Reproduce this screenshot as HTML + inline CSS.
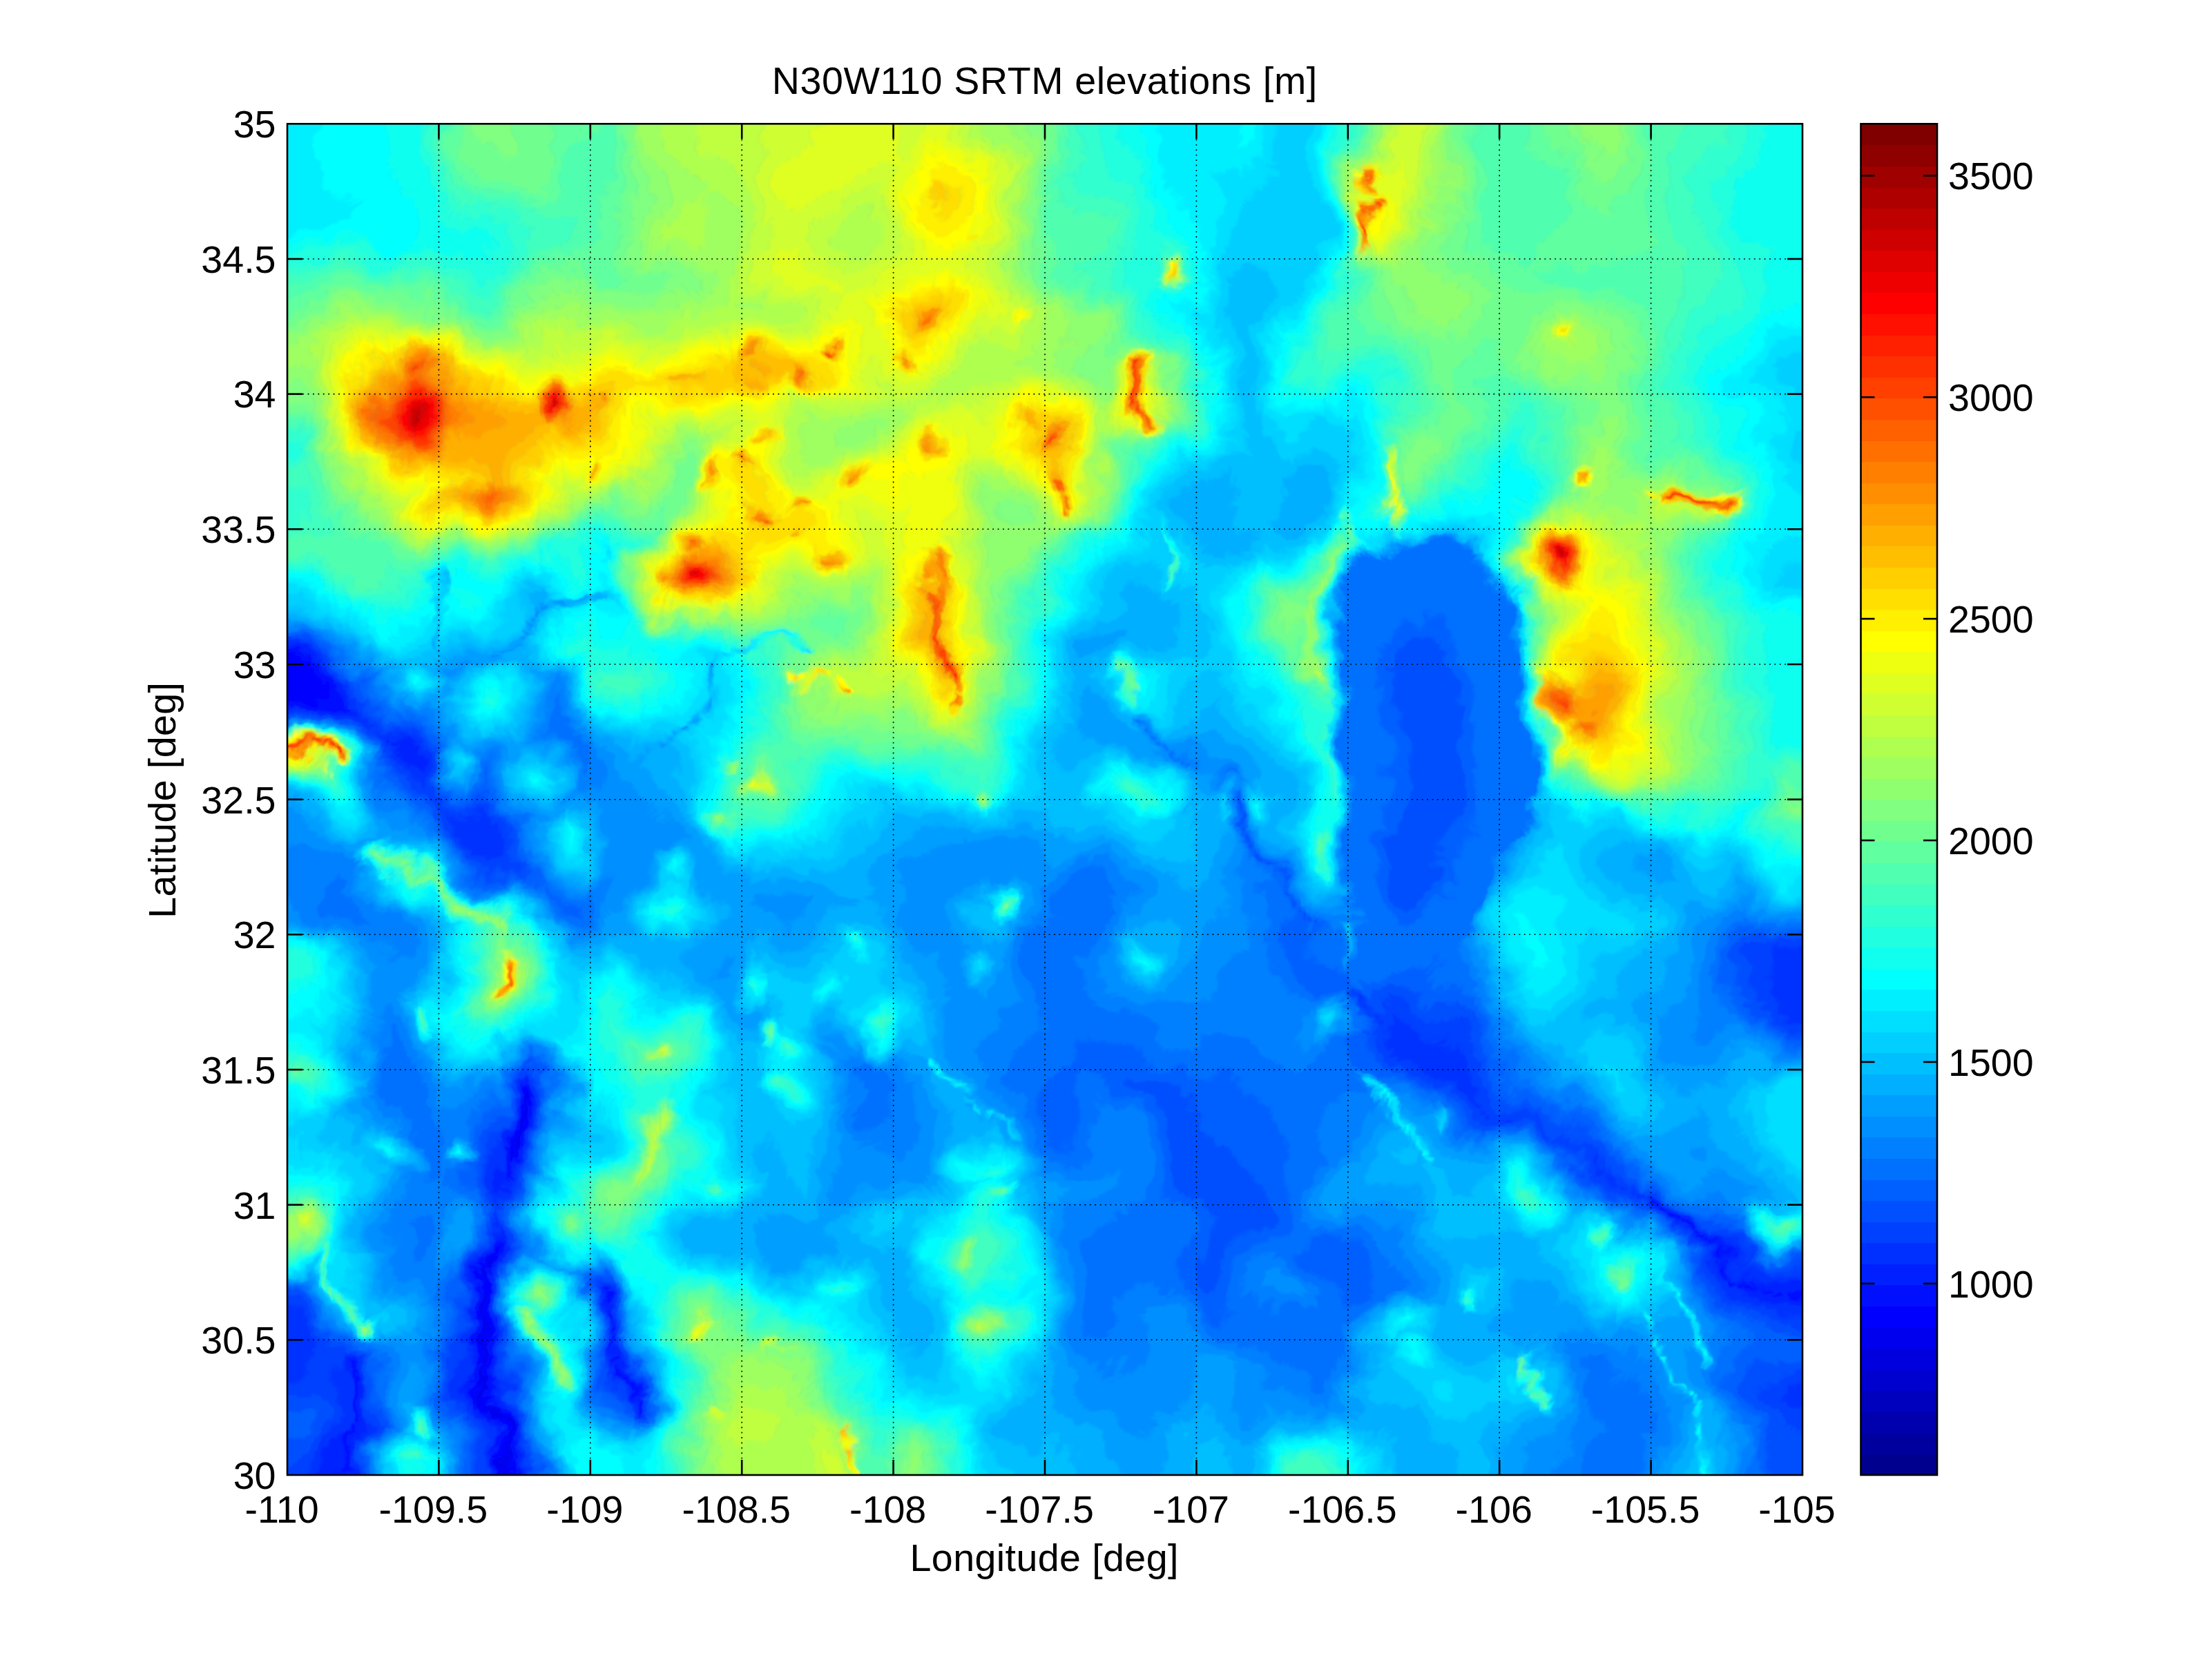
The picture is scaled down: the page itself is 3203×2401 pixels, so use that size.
<!DOCTYPE html>
<html><head><meta charset="utf-8"><title>N30W110 SRTM elevations</title>
<style>html,body{margin:0;padding:0;background:#fff;}body{width:3203px;height:2401px;overflow:hidden;}svg{display:block;}text{font-family:"Liberation Sans",sans-serif;font-size:55.6px;fill:#000;}</style>
</head><body>
<svg width="3203" height="2401" viewBox="0 0 3203 2401">
<rect width="3203" height="2401" fill="#fff"/>
<defs><clipPath id="axclip"><rect x="416.0" y="179.3" width="2194.0" height="1956.7"/></clipPath><filter id="tb" filterUnits="userSpaceOnUse" x="330" y="100" width="2370" height="2120"><feGaussianBlur stdDeviation="2.2" result="b"/><feTurbulence type="fractalNoise" baseFrequency="0.011" numOctaves="5" seed="7" result="t"/><feDisplacementMap in="b" in2="t" scale="70" xChannelSelector="R" yChannelSelector="G"/></filter></defs>
<g clip-path="url(#axclip)"><rect x="416.0" y="179.3" width="2194.0" height="1956.7" fill="#0090ff"/><g filter="url(#tb)">
<g transform="translate(356.01,123.517) scale(8.57031,8.58202)" fill="none" stroke-width="1.12" stroke-linecap="butt">
<path stroke="#0000ef" d="M48 169h1M47 170h2M47 171h1M47 172h1M47 173h1M46 174h2M46 175h1M46 176h1M46 177h1M46 178h1M46 179h1M45 180h1M45 181h1M41 198h1M41 199h1M40 200h1M40 201h1M39 204h1M39 205h1M39 206h1M39 207h1M39 208h1M39 209h1M39 210h1M39 211h2M40 212h1M40 213h1M40 214h1M40 215h1M40 216h1M40 217h1M40 218h1M40 219h2M41 220h1M41 221h1M41 222h1M41 223h1M42 224h1M42 225h1M42 226h2M43 227h1M43 228h1M44 229h1M44 230h1M44 231h1M44 232h2M45 233h1M45 234h1M45 235h1M45 236h1M45 237h1M45 238h1M45 239h1M45 240h1M45 241h1"/>
<path stroke="#0000ff" d="M0 98h8M0 99h11M0 100h12M0 101h14M0 102h14M0 103h12M47 168h2M47 169h1M48 171h1M46 172h1M48 172h1M46 173h1M47 175h1M45 176h1M47 176h1M45 177h1M45 178h1M45 179h1M46 180h1M46 181h1M45 182h1M41 197h1M42 198h1M40 199h1M39 201h1M39 202h2M39 203h2M40 204h1M38 205h1M40 205h1M38 206h1M40 206h1M40 207h1M40 208h1M40 209h1M40 210h1M39 212h1M39 213h1M39 214h1M39 215h1M41 215h1M41 216h1M41 217h1M41 218h1M40 220h1M40 221h1M40 222h1M42 222h1M42 223h1M41 224h1M43 225h1M42 227h1M44 227h1M44 228h1M43 229h1M43 230h1M45 231h1M44 233h1M44 234h1M44 235h1M44 236h1M44 237h1M44 238h1M44 239h1M44 240h1M44 241h1"/>
<path stroke="#0010ff" d="M0 97h9M8 98h3M11 99h2M12 100h3M14 101h2M14 102h3M12 103h5M0 104h18M49 168h1M49 169h1M46 170h1M49 170h1M46 171h1M48 173h1M45 174h1M48 174h1M45 175h1M47 177h1M47 178h1M47 179h1M44 180h1M44 181h1M44 182h1M46 182h1M44 183h1M44 184h1M237 190h1M238 191h1M239 192h2M241 193h2M243 194h1M244 195h2M41 196h2M246 196h1M42 197h1M247 197h2M40 198h1M249 198h2M251 199h2M39 200h1M41 200h1M253 200h2M255 201h2M257 202h2M38 203h1M259 203h2M262 203h8M38 204h1M58 204h1M262 204h8M59 205h1M59 206h1M38 207h1M38 208h1M60 208h1M38 209h1M38 210h1M61 210h1M38 211h1M41 211h1M41 212h1M62 212h1M41 213h1M62 213h1M41 214h1M63 215h1M39 216h1M17 217h1M39 217h1M64 217h1M17 218h1M39 218h1M64 218h1M17 219h1M39 219h1M42 219h1M64 219h1M17 220h1M42 220h1M64 220h1M17 221h1M42 221h1M17 222h1M65 222h1M17 223h1M40 223h1M65 223h1M17 224h1M43 224h1M41 225h1M17 226h1M41 226h1M44 226h1M17 227h1M17 228h1M42 228h1M17 229h1M42 229h1M45 229h1M17 230h1M45 230h1M17 231h1M43 231h1M17 232h1M43 232h1M46 232h1M17 233h1M46 233h1M16 234h1M46 234h1M16 235h1M46 235h1M16 236h1M46 236h1M16 237h1M46 237h1M16 238h1M46 238h1M16 239h1M46 239h1M16 240h1M46 240h1M16 241h1M46 241h1"/>
<path stroke="#0020ff" d="M0 96h10M9 97h3M11 98h2M13 99h2M15 100h2M16 101h2M17 102h1M17 103h1M12 105h7M23 109h1M24 110h3M25 111h3M25 112h3M26 113h3M27 114h3M28 115h2M47 167h3M46 168h1M46 169h1M49 171h1M45 172h1M49 172h1M45 173h1M48 175h1M44 176h1M48 176h1M44 177h1M44 178h1M44 179h1M47 180h1M47 181h1M47 182h1M45 183h1M42 184h2M42 185h2M42 186h2M42 187h1M238 190h1M237 191h1M239 191h1M241 192h1M240 193h1M42 194h1M242 194h1M244 194h1M41 195h2M243 195h1M246 195h1M245 196h1M247 196h1M40 197h1M43 197h1M249 197h1M43 198h1M251 198h1M39 199h1M42 199h1M253 199h1M255 200h1M38 201h1M41 201h1M257 201h13M38 202h1M255 202h2M259 202h11M255 203h4M261 203h1M256 204h6M37 205h1M58 205h1M258 205h12M37 206h1M41 206h1M41 207h1M59 207h2M41 208h1M41 209h1M60 209h2M41 210h1M61 211h2M38 212h1M38 213h1M38 214h1M62 214h2M38 215h1M42 215h1M17 216h1M42 216h1M63 216h2M16 217h1M42 217h1M16 218h1M42 218h1M38 219h1M18 220h1M38 220h2M65 220h1M18 221h1M39 221h1M64 221h2M18 222h1M39 222h1M43 222h1M18 223h1M43 223h1M18 224h1M40 224h1M65 224h1M17 225h2M40 225h1M44 225h1M18 226h1M18 227h1M41 227h1M45 227h1M16 228h1M18 228h1M45 228h1M15 229h2M18 229h1M15 230h2M18 230h1M42 230h1M46 230h1M14 231h3M46 231h1M14 232h3M14 233h3M43 233h1M13 234h3M17 234h2M43 234h1M13 235h3M17 235h2M43 235h1M13 236h3M17 236h2M43 236h1M13 237h3M17 237h2M43 237h1M13 238h3M17 238h2M43 238h1M13 239h3M17 239h2M43 239h1M13 240h3M17 240h2M43 240h1M13 241h3M17 241h2M43 241h1"/>
<path stroke="#0030ff" d="M0 95h9M10 96h1M12 97h1M13 98h1M15 99h1M17 100h1M18 102h1M18 103h1M18 104h1M0 105h12M19 105h1M16 106h5M20 107h2M22 108h2M24 109h3M23 110h1M27 110h1M24 111h1M28 111h1M24 112h1M28 112h2M25 113h1M29 113h2M25 114h2M30 114h1M26 115h2M30 115h1M27 116h4M28 117h3M30 118h1M39 121h1M37 122h3M35 123h6M35 124h6M35 125h7M35 126h8M36 127h8M36 128h8M38 129h6M41 130h3M257 146h1M257 147h13M257 148h13M257 149h13M257 150h13M257 151h13M257 152h13M257 153h13M258 154h12M187 155h1M258 155h12M188 156h1M259 156h11M190 157h1M194 157h4M259 157h11M191 158h1M194 158h5M193 159h7M194 160h7M194 161h8M195 162h9M195 163h10M196 164h10M198 165h8M199 166h8M46 167h1M200 167h8M50 168h1M201 168h8M50 169h1M203 169h6M45 170h1M50 170h1M205 170h4M45 171h1M208 171h2M210 172h1M49 173h1M211 173h1M44 174h1M49 174h1M213 174h1M44 175h1M48 177h1M48 178h1M43 179h1M48 179h1M43 180h1M48 180h1M42 181h2M41 182h3M41 183h3M46 183h1M227 183h1M40 184h2M45 184h1M228 184h2M40 185h2M44 185h1M230 185h2M40 186h2M232 186h1M40 187h2M43 187h1M234 187h1M41 188h3M235 188h2M42 189h1M237 189h1M236 190h1M236 191h1M240 191h1M42 192h1M238 192h1M242 192h1M42 193h1M239 193h1M243 193h1M41 194h1M241 194h1M245 194h1M40 196h1M43 196h1M244 196h1M248 196h1M246 197h1M250 197h2M39 198h1M248 198h1M252 198h3M38 199h1M249 199h2M254 199h5M38 200h1M42 200h1M250 200h3M256 200h14M251 201h4M41 202h1M252 202h3M37 203h1M41 203h1M58 203h1M253 203h2M37 204h1M41 204h1M59 204h1M254 204h2M41 205h1M255 205h3M58 206h1M60 206h1M257 206h13M0 207h9M37 207h1M259 207h11M0 208h9M37 208h1M59 208h1M61 208h1M0 209h10M37 209h1M0 210h10M37 210h1M42 210h1M60 210h1M62 210h1M0 211h11M37 211h1M42 211h1M0 212h11M42 212h1M61 212h1M0 213h12M42 213h1M63 213h1M0 214h12M37 214h1M42 214h1M0 215h12M36 215h2M62 215h1M64 215h1M0 216h13M16 216h1M18 216h1M36 216h3M0 217h12M18 217h1M36 217h3M63 217h1M18 218h1M36 218h3M63 218h1M14 219h3M18 219h1M36 219h2M43 219h1M65 219h1M14 220h3M36 220h2M43 220h1M260 220h10M14 221h3M37 221h2M43 221h1M259 221h11M14 222h3M38 222h1M64 222h1M260 222h10M15 223h2M38 223h2M44 223h1M64 223h1M15 224h2M19 224h1M39 224h1M44 224h1M66 224h1M15 225h2M19 225h2M15 226h2M19 226h2M40 226h1M45 226h1M14 227h3M19 227h1M40 227h1M14 228h2M19 228h1M40 228h2M13 229h2M41 229h1M46 229h1M13 230h2M41 230h1M12 231h2M18 231h1M42 231h1M12 232h2M18 232h1M42 232h1M47 232h1M12 233h2M18 233h1M47 233h1M12 234h1M47 234h1M12 235h1M47 235h1M12 236h1M47 236h1M12 237h1M47 237h1M12 238h1M47 238h1M12 239h1M47 239h1M12 240h1M47 240h1M12 241h1M47 241h1"/>
<path stroke="#0040ff" d="M0 94h8M9 95h2M11 96h2M13 97h1M14 98h2M16 99h2M18 100h1M18 101h1M19 103h1M19 104h1M20 105h1M13 106h3M21 106h1M19 107h1M22 107h1M21 108h1M24 108h2M22 109h1M27 109h2M22 110h1M28 110h1M23 111h1M29 111h1M23 112h1M30 112h1M24 113h1M31 113h1M24 114h1M31 114h1M25 115h1M31 115h1M25 116h2M31 116h1M26 117h2M31 117h1M27 118h3M31 118h1M28 119h5M29 120h4M39 120h1M31 121h3M38 121h1M40 121h1M32 122h5M40 122h1M33 123h2M41 123h1M33 124h2M41 124h2M33 125h2M42 125h2M34 126h1M43 126h2M34 127h2M44 127h1M35 128h1M44 128h1M36 129h2M44 129h1M37 130h4M44 130h1M40 131h5M41 132h4M43 133h3M45 134h1M255 145h15M254 146h3M258 146h12M254 147h3M254 148h3M254 149h3M254 150h3M254 151h3M254 152h3M255 153h2M186 154h1M194 154h4M255 154h3M186 155h1M188 155h1M192 155h7M256 155h2M187 156h1M189 156h1M192 156h8M256 156h3M189 157h1M191 157h3M198 157h3M257 157h2M190 158h1M192 158h2M199 158h4M258 158h12M191 159h2M200 159h4M260 159h10M191 160h3M201 160h4M192 161h2M202 161h4M192 162h3M204 162h3M193 163h2M205 163h3M193 164h3M206 164h3M194 165h4M206 165h3M47 166h3M196 166h3M207 166h3M50 167h1M197 167h3M208 167h3M45 168h1M199 168h2M209 168h2M45 169h1M200 169h3M209 169h3M201 170h4M209 170h3M50 171h1M204 171h4M210 171h3M44 172h1M50 172h1M206 172h4M211 172h4M44 173h1M208 173h3M212 173h5M210 174h3M214 174h5M49 175h1M211 175h2M217 175h3M43 176h1M49 176h1M219 176h2M42 177h2M49 177h1M221 177h2M42 178h2M222 178h2M41 179h2M223 179h2M41 180h2M224 180h2M41 181h1M48 181h1M225 181h2M40 182h1M48 182h1M225 182h3M40 183h1M47 183h1M226 183h1M228 183h2M39 184h1M46 184h1M226 184h2M230 184h2M39 185h1M45 185h1M227 185h3M232 185h2M39 186h1M44 186h1M228 186h4M233 186h2M39 187h1M44 187h1M231 187h3M235 187h1M40 188h1M233 188h2M40 189h2M43 189h1M236 189h1M41 190h3M239 190h1M42 191h1M241 191h1M237 192h1M41 193h1M43 193h1M244 193h1M43 194h1M240 194h1M246 194h1M40 195h1M43 195h1M242 195h1M247 195h4M243 196h1M249 196h4M39 197h1M44 197h1M245 197h1M252 197h3M38 198h1M44 198h1M247 198h1M255 198h4M43 199h1M247 199h2M259 199h11M248 200h2M37 201h1M249 201h2M37 202h1M250 202h2M57 203h1M59 203h1M251 203h2M57 204h1M252 204h2M0 205h9M36 205h1M60 205h1M253 205h2M0 206h10M36 206h1M254 206h3M9 207h1M36 207h1M42 207h1M61 207h1M256 207h3M9 208h2M42 208h1M257 208h13M10 209h1M36 209h1M42 209h1M62 209h1M260 209h10M10 210h2M36 210h1M11 211h1M36 211h1M60 211h1M11 212h2M35 212h3M63 212h1M12 213h2M35 213h3M61 213h1M12 214h2M35 214h2M43 214h1M64 214h1M12 215h4M17 215h1M34 215h2M43 215h1M13 216h3M34 216h2M43 216h1M62 216h1M12 217h4M34 217h2M43 217h1M65 217h1M0 218h16M35 218h1M43 218h1M65 218h1M258 218h12M0 219h14M35 219h1M63 219h1M256 219h14M0 220h14M19 220h1M35 220h1M63 220h1M255 220h5M10 221h4M19 221h1M36 221h1M255 221h4M11 222h3M19 222h2M36 222h2M44 222h1M66 222h1M256 222h4M12 223h3M19 223h3M37 223h1M66 223h1M257 223h13M13 224h2M20 224h2M38 224h1M45 224h1M64 224h1M258 224h12M13 225h2M21 225h2M38 225h2M45 225h1M259 225h11M13 226h2M21 226h1M39 226h1M260 226h10M12 227h2M20 227h1M39 227h1M46 227h1M261 227h9M12 228h2M39 228h1M46 228h1M262 228h8M11 229h2M19 229h1M39 229h2M11 230h2M19 230h1M39 230h2M47 230h1M10 231h2M39 231h3M47 231h1M9 232h3M39 232h3M8 233h4M39 233h4M0 234h12M19 234h1M39 234h4M0 235h12M19 235h1M39 235h4M0 236h12M19 236h1M39 236h4M0 237h12M19 237h1M39 237h4M0 238h12M19 238h1M39 238h4M0 239h12M19 239h1M39 239h4M0 240h12M19 240h1M39 240h4M0 241h12M19 241h1M39 241h4"/>
<path stroke="#0050ff" d="M197 93h5M8 94h3M195 94h8M11 95h1M194 95h10M13 96h1M194 96h10M14 97h1M194 97h11M16 98h1M193 98h12M18 99h1M194 99h11M19 100h1M194 100h11M19 101h1M194 101h11M19 102h1M194 102h11M20 103h1M194 103h11M20 104h1M194 104h12M21 105h1M194 105h12M0 106h13M22 106h1M195 106h11M17 107h2M23 107h2M195 107h11M20 108h1M26 108h3M195 108h11M21 109h1M29 109h1M195 109h11M29 110h1M195 110h11M22 111h1M30 111h1M195 111h11M31 112h1M195 112h11M23 113h1M195 113h11M23 114h1M195 114h11M24 115h1M195 115h11M24 116h1M195 116h11M25 117h1M195 117h11M25 118h2M32 118h1M40 118h1M195 118h11M26 119h2M39 119h2M195 119h11M27 120h2M33 120h1M38 120h1M40 120h1M195 120h11M28 121h3M34 121h4M41 121h1M195 121h11M30 122h2M41 122h1M195 122h11M31 123h2M42 123h1M166 123h1M195 123h11M31 124h2M43 124h1M167 124h1M195 124h11M32 125h1M44 125h1M167 125h1M195 125h10M33 126h1M45 126h1M168 126h1M194 126h11M33 127h1M45 127h1M169 127h1M194 127h10M34 128h1M45 128h1M169 128h1M194 128h9M35 129h1M45 129h1M170 129h1M194 129h9M36 130h1M45 130h1M171 130h1M194 130h8M38 131h2M45 131h1M171 131h1M194 131h8M39 132h2M45 132h1M172 132h1M193 132h9M41 133h2M46 133h1M173 133h1M193 133h9M43 134h2M46 134h1M174 134h1M193 134h9M45 135h3M193 135h8M175 136h1M193 136h8M176 137h1M193 137h8M177 138h1M194 138h6M178 139h1M195 139h4M178 140h1M179 141h1M180 142h1M254 143h2M253 144h17M253 145h2M252 146h2M252 147h2M252 148h2M252 149h2M252 150h2M194 151h4M252 151h2M193 152h7M252 152h2M191 153h9M253 153h2M185 154h1M187 154h1M190 154h4M198 154h3M253 154h2M185 155h1M189 155h3M199 155h4M254 155h2M190 156h2M200 156h4M254 156h2M188 157h1M201 157h4M255 157h2M203 158h3M256 158h2M190 159h1M204 159h3M257 159h3M189 160h2M205 160h3M260 160h10M190 161h2M206 161h2M190 162h2M207 162h2M191 163h2M208 163h2M191 164h2M209 164h1M48 165h1M192 165h2M209 165h2M46 166h1M50 166h1M192 166h4M210 166h2M45 167h1M51 167h1M194 167h3M211 167h1M51 168h1M150 168h8M196 168h3M211 168h2M51 169h1M150 169h10M198 169h2M212 169h2M44 170h1M51 170h1M152 170h8M199 170h2M212 170h3M44 171h1M153 171h7M201 171h3M213 171h3M155 172h6M203 172h3M215 172h3M42 173h2M50 173h1M155 173h6M205 173h3M217 173h3M42 174h2M50 174h1M156 174h5M207 174h3M219 174h3M41 175h3M156 175h5M208 175h3M213 175h4M220 175h3M41 176h2M156 176h6M210 176h2M218 176h1M221 176h3M40 177h2M156 177h7M220 177h1M223 177h2M40 178h2M49 178h1M156 178h9M221 178h1M224 178h2M40 179h1M49 179h1M156 179h10M222 179h1M225 179h2M40 180h1M49 180h1M156 180h11M223 180h1M226 180h3M40 181h1M156 181h12M224 181h1M227 181h3M39 182h1M156 182h13M224 182h1M228 182h3M39 183h1M48 183h1M156 183h14M225 183h1M230 183h3M38 184h1M47 184h1M156 184h15M225 184h1M232 184h3M38 185h1M46 185h1M156 185h16M226 185h1M234 185h1M38 186h1M45 186h1M157 186h16M226 186h2M235 186h1M38 187h1M158 187h15M228 187h3M38 188h2M44 188h1M159 188h14M231 188h2M237 188h1M39 189h1M161 189h12M233 189h3M238 189h1M40 190h1M161 190h12M234 190h2M240 190h1M41 191h1M43 191h1M162 191h11M235 191h1M41 192h1M43 192h1M162 192h10M236 192h1M243 192h5M162 193h8M238 193h1M245 193h5M40 194h1M162 194h6M239 194h1M247 194h4M44 195h1M162 195h5M241 195h1M251 195h2M39 196h1M44 196h1M162 196h4M253 196h1M38 197h1M45 197h1M161 197h4M244 197h1M161 198h4M246 198h1M259 198h11M37 199h1M161 199h4M246 199h1M37 200h1M161 200h4M247 200h1M42 201h1M161 201h4M247 201h2M57 202h3M161 202h4M248 202h2M0 203h9M36 203h1M56 203h1M162 203h2M249 203h2M0 204h10M35 204h2M60 204h1M250 204h2M9 205h2M35 205h1M57 205h1M251 205h2M10 206h1M35 206h1M42 206h1M61 206h1M252 206h2M10 207h2M35 207h1M58 207h1M253 207h3M11 208h1M35 208h2M254 208h3M11 209h1M35 209h1M59 209h1M256 209h4M12 210h1M35 210h1M43 210h1M257 210h13M12 211h2M34 211h2M43 211h1M63 211h1M259 211h11M13 212h1M34 212h1M43 212h1M60 212h1M14 213h1M34 213h1M43 213h1M64 213h1M14 214h3M33 214h2M61 214h1M16 215h1M18 215h1M33 215h1M19 216h1M33 216h1M61 216h1M65 216h1M258 216h12M19 217h1M33 217h1M61 217h2M255 217h15M19 218h1M34 218h1M44 218h1M61 218h2M254 218h4M19 219h2M34 219h1M44 219h1M61 219h2M253 219h3M20 220h1M34 220h1M44 220h1M62 220h1M66 220h1M253 220h2M0 221h10M20 221h2M35 221h1M44 221h1M63 221h1M66 221h1M253 221h2M0 222h11M21 222h2M35 222h1M63 222h1M253 222h3M0 223h12M22 223h1M36 223h1M45 223h1M254 223h3M10 224h3M22 224h2M37 224h1M255 224h3M10 225h3M23 225h1M37 225h1M46 225h1M65 225h2M256 225h3M10 226h3M22 226h1M38 226h1M46 226h1M256 226h4M10 227h2M21 227h1M38 227h1M257 227h4M9 228h3M20 228h1M38 228h1M47 228h1M258 228h4M0 229h11M20 229h1M38 229h1M47 229h1M258 229h12M0 230h11M38 230h1M258 230h12M0 231h10M19 231h1M38 231h1M258 231h12M0 232h9M19 232h1M38 232h1M48 232h1M258 232h12M0 233h8M19 233h1M38 233h1M48 233h1M258 233h12M38 234h1M48 234h1M258 234h12M38 235h1M48 235h1M258 235h12M38 236h1M48 236h1M258 236h12M38 237h1M48 237h1M258 237h12M38 238h1M48 238h1M258 238h12M38 239h1M48 239h1M258 239h12M38 240h1M48 240h1M258 240h12M38 241h1M48 241h1M258 241h12"/>
<path stroke="#0060ff" d="M199 90h1M195 91h8M194 92h10M0 93h10M193 93h4M202 93h3M11 94h1M192 94h3M203 94h3M12 95h2M192 95h2M204 95h2M14 96h1M191 96h3M204 96h3M15 97h2M191 97h3M205 97h2M17 98h1M191 98h2M205 98h2M19 99h1M191 99h3M205 99h2M20 100h1M191 100h3M205 100h2M20 101h1M191 101h3M205 101h3M20 102h1M192 102h2M205 102h3M192 103h2M205 103h3M21 104h1M192 104h2M206 104h2M22 105h1M192 105h2M206 105h2M23 106h1M192 106h3M206 106h2M16 107h1M25 107h2M192 107h3M206 107h2M19 108h1M29 108h1M192 108h3M206 108h3M30 109h1M193 109h2M206 109h3M21 110h1M30 110h2M193 110h2M206 110h3M31 111h2M193 111h2M206 111h3M22 112h1M32 112h1M193 112h2M206 112h3M32 113h1M193 113h2M206 113h3M193 114h2M206 114h3M23 115h1M40 115h1M193 115h2M206 115h3M23 116h1M32 116h1M40 116h1M192 116h3M206 116h2M24 117h1M32 117h1M39 117h2M192 117h3M206 117h2M24 118h1M39 118h1M192 118h3M206 118h2M24 119h2M33 119h1M38 119h1M41 119h1M192 119h3M206 119h2M25 120h2M34 120h2M37 120h1M41 120h1M192 120h3M206 120h2M26 121h2M192 121h3M206 121h2M27 122h3M42 122h1M166 122h1M192 122h3M206 122h2M28 123h3M43 123h1M192 123h3M206 123h2M30 124h1M44 124h1M166 124h1M192 124h3M206 124h2M31 125h1M45 125h2M168 125h1M192 125h3M205 125h3M31 126h2M46 126h1M193 126h1M205 126h2M32 127h1M168 127h1M192 127h2M204 127h3M33 128h1M170 128h1M192 128h2M203 128h3M34 129h1M192 129h2M203 129h2M35 130h1M46 130h1M170 130h1M192 130h2M202 130h2M36 131h2M46 131h1M172 131h1M192 131h2M202 131h2M38 132h1M46 132h1M191 132h2M202 132h2M39 133h2M191 133h2M202 133h2M41 134h2M47 134h1M173 134h1M191 134h2M202 134h2M43 135h2M48 135h1M174 135h2M191 135h2M201 135h2M46 136h4M176 136h1M191 136h2M201 136h2M49 137h2M191 137h2M201 137h2M51 138h5M191 138h3M200 138h3M53 139h3M175 139h3M192 139h3M199 139h3M174 140h4M179 140h1M193 140h8M174 141h5M194 141h6M253 141h1M174 142h5M252 142h5M175 143h7M251 143h3M256 143h14M175 144h5M251 144h2M176 145h4M251 145h2M177 146h4M250 146h2M177 147h5M197 147h3M250 147h2M177 148h7M195 148h6M250 148h2M177 149h8M194 149h7M250 149h2M177 150h9M193 150h9M250 150h2M177 151h9M191 151h3M198 151h4M250 151h2M178 152h8M188 152h5M200 152h3M250 152h2M180 153h7M188 153h3M200 153h4M251 153h2M188 154h2M201 154h4M251 154h2M203 155h3M251 155h3M186 156h1M204 156h3M252 156h2M205 157h2M253 157h2M189 158h1M206 158h2M254 158h2M189 159h1M207 159h2M255 159h2M208 160h1M257 160h3M188 161h2M208 161h2M260 161h10M142 162h7M187 162h3M209 162h2M142 163h9M187 163h4M210 163h1M141 164h11M187 164h4M210 164h2M46 165h2M49 165h1M140 165h14M187 165h5M211 165h2M45 166h1M51 166h1M137 166h22M187 166h5M212 166h1M136 167h31M188 167h6M212 167h2M44 168h1M135 168h7M143 168h7M158 168h9M190 168h6M213 168h2M44 169h1M135 169h6M145 169h5M160 169h8M194 169h4M214 169h2M135 170h6M146 170h6M160 170h8M197 170h2M215 170h3M42 171h2M51 171h1M135 171h6M148 171h5M160 171h9M199 171h2M216 171h4M41 172h3M51 172h1M135 172h6M151 172h4M161 172h10M201 172h2M218 172h3M40 173h2M135 173h6M153 173h2M161 173h11M203 173h2M220 173h3M40 174h2M135 174h6M153 174h3M161 174h12M204 174h3M222 174h2M39 175h2M50 175h1M135 175h6M154 175h2M161 175h12M206 175h2M223 175h2M39 176h2M50 176h1M136 176h5M154 176h2M162 176h11M208 176h2M212 176h6M224 176h2M39 177h1M50 177h1M136 177h4M154 177h2M163 177h11M210 177h1M218 177h2M225 177h2M39 178h1M137 178h2M154 178h2M165 178h9M220 178h1M226 178h2M154 179h2M166 179h9M221 179h1M227 179h2M154 180h2M167 180h9M222 180h1M229 180h2M49 181h1M154 181h2M168 181h8M223 181h1M230 181h2M49 182h1M154 182h2M169 182h7M231 182h3M37 183h2M49 183h1M154 183h2M170 183h6M224 183h1M233 183h2M37 184h1M48 184h1M154 184h2M171 184h5M235 184h1M36 185h2M154 185h2M172 185h4M225 185h1M235 185h2M36 186h2M46 186h1M154 186h3M173 186h3M225 186h1M236 186h1M36 187h2M45 187h1M155 187h3M173 187h3M226 187h2M236 187h2M37 188h1M155 188h4M173 188h3M229 188h2M238 188h1M38 189h1M44 189h1M157 189h4M173 189h3M231 189h2M239 189h1M39 190h1M44 190h1M159 190h2M173 190h3M233 190h1M241 190h1M39 191h2M44 191h1M159 191h3M173 191h3M234 191h1M242 191h7M40 192h1M44 192h1M160 192h2M172 192h4M248 192h3M40 193h1M44 193h1M160 193h2M170 193h6M237 193h1M250 193h2M44 194h1M160 194h2M168 194h7M251 194h1M39 195h1M159 195h3M167 195h4M240 195h1M38 196h1M45 196h1M158 196h4M166 196h3M179 196h5M242 196h1M158 197h3M165 197h3M178 197h10M255 197h1M261 197h9M37 198h1M45 198h1M157 198h4M165 198h2M179 198h10M245 198h1M44 199h1M157 199h4M165 199h2M180 199h9M245 199h1M43 200h1M157 200h4M165 200h2M181 200h8M245 200h2M36 201h1M59 201h1M157 201h4M165 201h2M182 201h7M246 201h1M0 202h9M35 202h2M42 202h1M55 202h2M158 202h3M165 202h2M183 202h6M247 202h1M9 203h1M34 203h2M42 203h1M158 203h4M164 203h3M184 203h4M247 203h2M10 204h1M34 204h1M42 204h1M56 204h1M160 204h7M185 204h3M248 204h2M34 205h1M42 205h1M161 205h6M249 205h2M11 206h1M34 206h1M57 206h1M162 206h5M250 206h2M34 207h1M163 207h3M251 207h2M12 208h1M34 208h1M43 208h1M58 208h1M62 208h1M252 208h2M12 209h1M34 209h1M43 209h1M253 209h3M13 210h1M34 210h1M59 210h1M63 210h1M254 210h3M14 211h1M33 211h1M254 211h5M14 212h2M33 212h1M64 212h1M254 212h16M15 213h2M33 213h1M60 213h1M254 213h16M17 214h1M32 214h1M44 214h1M254 214h16M19 215h1M32 215h1M44 215h1M61 215h1M65 215h1M253 215h17M32 216h1M44 216h1M252 216h6M20 217h1M44 217h1M60 217h1M252 217h3M20 218h2M33 218h1M60 218h1M66 218h1M251 218h3M21 219h1M33 219h1M60 219h1M66 219h1M251 219h2M21 220h2M33 220h1M61 220h1M251 220h2M22 221h1M34 221h1M45 221h1M61 221h2M251 221h2M23 222h1M34 222h1M45 222h1M61 222h2M252 222h1M23 223h1M35 223h1M63 223h1M67 223h1M252 223h2M0 224h10M36 224h1M46 224h1M67 224h1M253 224h2M0 225h10M24 225h1M36 225h1M64 225h1M254 225h2M0 226h10M37 226h1M254 226h2M0 227h10M37 227h1M47 227h1M255 227h2M0 228h9M21 228h1M37 228h1M255 228h3M37 229h1M256 229h2M20 230h1M37 230h1M48 230h1M256 230h2M20 231h1M37 231h1M48 231h1M256 231h2M20 232h1M36 232h2M256 232h2M20 233h1M36 233h2M257 233h1M20 234h1M36 234h2M49 234h1M257 234h1M20 235h1M36 235h2M49 235h1M257 235h1M20 236h1M36 236h2M49 236h1M257 236h1M20 237h1M36 237h2M49 237h1M257 237h1M20 238h1M36 238h2M49 238h1M257 238h1M20 239h1M36 239h2M49 239h1M257 239h1M20 240h1M36 240h2M49 240h1M257 240h1M20 241h1M36 241h2M49 241h1M257 241h1"/>
<path stroke="#0070ff" d="M197 77h8M195 78h12M192 79h16M191 80h17M189 81h20M188 82h22M187 83h24M187 84h24M186 85h26M186 86h27M185 87h28M185 88h28M184 89h30M184 90h15M200 90h14M184 91h11M203 91h11M184 92h10M204 92h10M10 93h2M184 93h9M205 93h9M12 94h1M184 94h8M206 94h8M14 95h1M184 95h8M206 95h8M15 96h1M184 96h7M207 96h8M17 97h1M184 97h7M207 97h8M18 98h2M185 98h6M207 98h8M20 99h2M185 99h6M207 99h8M21 100h1M185 100h6M207 100h8M21 101h1M185 101h6M208 101h7M21 102h1M185 102h7M208 102h8M21 103h1M52 103h1M185 103h7M208 103h8M22 104h1M52 104h1M185 104h7M208 104h8M23 105h1M52 105h2M185 105h7M208 105h8M24 106h2M52 106h3M150 106h1M185 106h7M208 106h8M14 107h2M27 107h4M52 107h3M151 107h1M185 107h7M208 107h9M18 108h1M30 108h1M52 108h4M152 108h1M185 108h7M209 108h8M20 109h1M31 109h1M53 109h3M153 109h1M185 109h8M209 109h8M32 110h1M54 110h3M154 110h1M185 110h8M209 110h8M33 111h1M55 111h2M155 111h1M185 111h8M209 111h8M55 112h3M156 112h1M185 112h8M209 112h8M22 113h1M56 113h2M157 113h1M186 113h7M209 113h9M22 114h1M32 114h1M39 114h3M56 114h2M158 114h1M186 114h7M209 114h9M32 115h1M39 115h1M41 115h1M56 115h2M186 115h7M209 115h9M39 116h1M41 116h1M56 116h2M186 116h6M208 116h10M23 117h1M41 117h1M56 117h1M186 117h6M208 117h10M23 118h1M33 118h1M38 118h1M41 118h1M186 118h6M208 118h10M23 119h1M34 119h1M37 119h1M164 119h2M187 119h5M208 119h10M24 120h1M36 120h1M42 120h1M187 120h5M208 120h9M24 121h2M42 121h1M187 121h5M208 121h9M25 122h2M43 122h1M165 122h1M187 122h5M208 122h9M26 123h2M44 123h1M165 123h1M167 123h1M187 123h5M208 123h8M27 124h3M45 124h3M187 124h5M208 124h8M29 125h2M47 125h1M186 125h6M208 125h7M30 126h1M167 126h1M169 126h1M186 126h7M207 126h8M31 127h1M46 127h1M186 127h6M207 127h7M32 128h1M46 128h1M186 128h6M206 128h7M33 129h1M46 129h1M169 129h1M171 129h1M186 129h6M205 129h7M34 130h1M186 130h6M204 130h6M35 131h1M47 131h1M186 131h6M204 131h5M37 132h1M47 132h1M171 132h1M173 132h1M186 132h5M204 132h5M38 133h1M47 133h1M172 133h1M174 133h1M186 133h5M204 133h5M40 134h1M48 134h1M139 134h6M186 134h5M204 134h5M14 135h3M42 135h1M49 135h1M138 135h8M170 135h4M186 135h5M203 135h6M14 136h3M44 136h2M50 136h1M57 136h1M137 136h10M170 136h5M185 136h6M203 136h6M14 137h4M47 137h2M51 137h7M137 137h10M171 137h5M177 137h1M185 137h6M203 137h6M14 138h5M49 138h2M56 138h2M137 138h9M171 138h6M178 138h1M185 138h6M203 138h6M14 139h6M51 139h2M56 139h2M137 139h9M171 139h4M185 139h7M202 139h7M16 140h5M52 140h6M137 140h9M172 140h2M186 140h7M201 140h7M252 140h3M19 141h3M54 141h3M136 141h9M172 141h2M180 141h1M186 141h8M200 141h8M251 141h2M254 141h4M136 142h9M172 142h2M179 142h1M181 142h1M186 142h22M250 142h2M257 142h13M135 143h9M172 143h3M182 143h1M187 143h20M249 143h2M134 144h9M172 144h3M180 144h3M187 144h20M249 144h2M133 145h9M173 145h3M180 145h4M187 145h19M249 145h2M132 146h10M173 146h4M181 146h4M187 146h18M249 146h1M131 147h11M173 147h4M182 147h3M186 147h11M200 147h4M249 147h1M131 148h10M173 148h4M184 148h1M186 148h9M201 148h3M248 148h2M131 149h10M173 149h4M185 149h9M201 149h3M248 149h2M131 150h10M173 150h4M186 150h7M202 150h3M248 150h2M131 151h11M174 151h3M186 151h5M202 151h3M249 151h1M131 152h11M174 152h4M186 152h2M203 152h3M249 152h1M131 153h11M174 153h6M187 153h1M204 153h3M249 153h2M132 154h11M176 154h9M205 154h2M249 154h2M133 155h12M206 155h2M249 155h2M133 156h16M185 156h1M207 156h2M250 156h2M134 157h18M186 157h2M207 157h2M250 157h3M134 158h19M187 158h2M208 158h2M251 158h3M133 159h21M188 159h1M209 159h1M253 159h2M132 160h22M188 160h1M209 160h2M255 160h2M22 161h1M131 161h23M163 161h8M187 161h1M210 161h2M257 161h3M22 162h2M130 162h12M149 162h6M162 162h10M183 162h4M211 162h1M260 162h10M22 163h3M129 163h13M151 163h5M160 163h13M181 163h6M211 163h2M22 164h4M48 164h1M101 164h3M129 164h12M152 164h22M179 164h8M212 164h2M23 165h4M45 165h1M50 165h1M101 165h4M129 165h11M154 165h22M178 165h9M213 165h2M23 166h5M44 166h1M102 166h3M129 166h8M159 166h28M213 166h2M23 167h6M44 167h1M52 167h1M102 167h6M129 167h7M167 167h21M214 167h2M23 168h6M52 168h1M103 168h5M129 168h6M142 168h1M167 168h23M215 168h3M23 169h7M43 169h1M52 169h1M103 169h6M129 169h6M141 169h4M168 169h20M190 169h4M216 169h3M23 170h8M41 170h3M52 170h1M104 170h5M130 170h5M141 170h5M168 170h19M191 170h6M218 170h2M24 171h7M40 171h2M52 171h1M104 171h5M131 171h4M141 171h7M169 171h19M196 171h3M220 171h2M24 172h7M39 172h2M104 172h5M132 172h3M141 172h10M171 172h13M198 172h3M221 172h2M25 173h7M38 173h2M51 173h1M105 173h4M133 173h2M141 173h4M148 173h5M172 173h10M200 173h3M223 173h1M26 174h6M38 174h2M51 174h1M105 174h4M133 174h2M141 174h3M151 174h2M173 174h8M202 174h2M224 174h1M26 175h6M38 175h1M51 175h1M106 175h2M133 175h2M141 175h2M152 175h2M173 175h8M204 175h2M225 175h1M27 176h6M38 176h1M134 176h2M141 176h2M152 176h2M173 176h8M205 176h3M226 176h2M27 177h6M38 177h1M134 177h2M140 177h3M152 177h2M174 177h8M207 177h3M211 177h3M216 177h2M227 177h2M28 178h5M50 178h1M135 178h2M139 178h3M152 178h2M174 178h9M209 178h2M219 178h1M228 178h2M29 179h4M39 179h1M50 179h1M135 179h7M152 179h2M175 179h8M220 179h1M229 179h2M30 180h3M50 180h1M136 180h5M152 180h2M176 180h7M221 180h1M231 180h1M30 181h3M39 181h1M138 181h1M152 181h2M176 181h7M222 181h1M232 181h2M30 182h3M38 182h1M152 182h2M176 182h5M223 182h1M234 182h1M30 183h3M36 183h1M152 183h2M176 183h4M235 183h2M30 184h3M34 184h3M49 184h1M152 184h2M176 184h3M224 184h1M236 184h1M33 185h3M47 185h1M152 185h2M176 185h3M224 185h1M237 185h1M33 186h3M152 186h2M176 186h2M237 186h1M34 187h2M46 187h1M152 187h3M176 187h2M225 187h1M238 187h1M35 188h2M45 188h1M152 188h3M176 188h2M227 188h2M239 188h1M36 189h2M45 189h1M151 189h6M176 189h2M230 189h1M240 189h7M37 190h2M150 190h9M176 190h2M232 190h1M242 190h8M28 191h2M38 191h1M148 191h11M176 191h2M233 191h1M249 191h3M27 192h3M39 192h1M148 192h12M176 192h3M234 192h2M251 192h1M27 193h3M147 193h13M176 193h3M236 193h1M252 193h1M27 194h3M39 194h1M45 194h1M145 194h15M175 194h6M238 194h1M252 194h1M27 195h3M38 195h1M45 195h1M142 195h17M171 195h19M27 196h3M142 196h16M169 196h10M184 196h7M241 196h1M254 196h1M27 197h3M37 197h1M46 197h1M142 197h16M168 197h10M188 197h4M243 197h1M256 197h1M260 197h1M27 198h2M46 198h1M142 198h15M167 198h3M174 198h5M189 198h4M244 198h1M36 199h1M142 199h15M167 199h2M177 199h3M189 199h5M244 199h1M36 200h1M142 200h15M167 200h2M178 200h3M189 200h6M34 201h2M55 201h4M142 201h15M167 201h2M179 201h3M189 201h6M245 201h1M9 202h2M32 202h3M142 202h7M153 202h5M167 202h2M180 202h3M189 202h7M245 202h2M10 203h1M32 203h2M60 203h1M142 203h6M154 203h4M167 203h2M181 203h3M188 203h7M246 203h1M11 204h1M32 204h2M142 204h6M156 204h4M167 204h2M181 204h4M188 204h6M247 204h1M11 205h1M32 205h2M56 205h1M61 205h1M142 205h6M158 205h3M167 205h3M180 205h11M247 205h2M12 206h1M33 206h1M142 206h6M159 206h3M167 206h4M180 206h9M249 206h1M12 207h1M33 207h1M43 207h1M57 207h1M62 207h1M142 207h6M161 207h2M166 207h7M178 207h10M250 207h1M13 208h1M33 208h1M142 208h6M162 208h25M250 208h2M13 209h1M33 209h1M58 209h1M63 209h1M142 209h5M163 209h24M251 209h2M14 210h1M33 210h1M44 210h1M143 210h3M165 210h22M251 210h3M15 211h1M32 211h1M44 211h1M59 211h1M168 211h19M251 211h3M16 212h1M32 212h1M44 212h1M171 212h16M251 212h3M17 213h2M32 213h1M44 213h1M172 213h15M251 213h3M18 214h2M31 214h1M45 214h1M60 214h1M65 214h1M173 214h13M227 214h3M250 214h4M20 215h1M31 215h1M45 215h1M60 215h1M174 215h11M226 215h5M250 215h3M20 216h2M31 216h1M45 216h1M60 216h1M175 216h10M226 216h6M250 216h2M21 217h2M32 217h1M45 217h1M66 217h1M176 217h8M227 217h6M249 217h3M22 218h1M32 218h1M45 218h1M178 218h6M227 218h7M249 218h2M22 219h2M32 219h1M45 219h1M179 219h4M227 219h8M249 219h2M23 220h1M45 220h1M60 220h1M227 220h8M249 220h2M23 221h1M33 221h1M60 221h1M228 221h7M250 221h1M24 222h1M60 222h1M67 222h1M228 222h8M250 222h2M24 223h1M34 223h1M46 223h1M61 223h2M229 223h7M251 223h1M24 224h1M35 224h1M61 224h3M229 224h7M251 224h2M35 225h1M47 225h1M67 225h1M230 225h7M252 225h2M23 226h1M36 226h1M47 226h1M65 226h1M230 226h7M252 226h2M22 227h1M36 227h1M230 227h7M253 227h2M36 228h1M48 228h1M229 228h7M253 228h2M21 229h1M36 229h1M48 229h1M228 229h8M254 229h2M36 230h1M227 230h9M254 230h2M36 231h1M49 231h1M226 231h10M255 231h1M35 232h1M49 232h1M225 232h11M255 232h1M35 233h1M49 233h1M225 233h11M255 233h2M35 234h1M225 234h11M255 234h2M35 235h1M225 235h11M255 235h2M35 236h1M225 236h11M255 236h2M35 237h1M225 237h11M255 237h2M35 238h1M225 238h11M255 238h2M35 239h1M225 239h11M255 239h2M35 240h1M225 240h11M255 240h2M35 241h1M225 241h11M255 241h2"/>
<path stroke="#0080ff" d="M199 76h3M196 77h1M194 78h1M190 80h1M208 80h1M186 84h1M211 84h1M185 86h1M213 88h1M0 92h11M12 93h1M13 94h1M214 94h1M15 95h1M214 95h1M16 96h1M18 97h1M20 98h1M184 98h1M22 99h1M184 99h1M51 101h1M22 102h1M51 102h3M22 103h1M51 103h1M53 103h1M23 104h1M51 104h1M53 104h2M24 105h1M51 105h1M54 105h1M26 106h6M51 106h1M55 106h1M216 106h1M12 107h2M31 107h1M51 107h1M55 107h1M17 108h1M31 108h2M50 108h2M56 108h1M19 109h1M32 109h1M52 109h1M56 109h1M20 110h1M33 110h1M53 110h1M57 110h1M21 111h1M54 111h1M57 111h1M33 112h1M58 112h1M155 112h1M157 112h2M217 112h1M39 113h4M55 113h1M58 113h1M158 113h1M185 113h1M42 114h1M55 114h1M58 114h2M159 114h1M22 115h1M42 115h1M55 115h1M58 115h2M159 115h2M22 116h1M33 116h1M42 116h1M58 116h2M160 116h1M22 117h1M33 117h1M38 117h1M42 117h1M55 117h1M57 117h4M22 118h1M34 118h1M42 118h1M55 118h6M163 118h3M35 119h2M42 119h1M55 119h5M163 119h1M186 119h1M23 120h1M43 120h1M163 120h1M166 120h1M217 120h1M23 121h1M43 121h2M186 121h1M23 122h2M44 122h2M186 122h1M24 123h2M45 123h2M186 123h1M216 123h1M24 124h3M48 124h1M168 124h1M186 124h1M26 125h3M166 125h1M215 125h1M28 126h2M47 126h1M170 126h1M29 127h2M47 127h1M167 127h1M170 127h1M31 128h1M47 128h1M168 128h1M171 128h1M32 129h1M47 129h1M0 130h15M33 130h1M47 130h1M169 130h1M172 130h1M210 130h1M0 131h17M34 131h1M169 131h2M173 131h1M209 131h1M0 132h18M36 132h1M48 132h1M139 132h4M168 132h3M185 132h1M209 132h1M0 133h18M37 133h1M48 133h1M136 133h12M168 133h4M185 133h1M0 134h19M38 134h2M49 134h1M58 134h3M135 134h4M145 134h4M168 134h5M175 134h1M185 134h1M0 135h14M17 135h2M40 135h2M50 135h1M57 135h4M135 135h3M146 135h4M168 135h2M176 135h1M185 135h1M0 136h14M17 136h2M43 136h1M51 136h6M58 136h3M135 136h2M147 136h3M168 136h2M177 136h1M8 137h6M18 137h2M46 137h1M58 137h2M135 137h2M147 137h2M168 137h3M9 138h5M19 138h2M48 138h1M58 138h2M135 138h2M146 138h3M168 138h3M179 138h1M252 138h1M11 139h3M20 139h3M49 139h2M58 139h2M135 139h2M146 139h2M169 139h2M179 139h2M250 139h5M12 140h4M21 140h4M51 140h1M58 140h1M135 140h2M146 140h2M169 140h3M180 140h2M185 140h1M208 140h1M249 140h3M255 140h4M14 141h5M22 141h4M52 141h2M57 141h2M134 141h2M145 141h2M169 141h3M181 141h3M248 141h3M258 141h12M17 142h10M54 142h4M134 142h2M145 142h2M169 142h3M182 142h4M247 142h3M19 143h9M56 143h1M133 143h2M144 143h2M169 143h3M183 143h4M207 143h1M247 143h2M21 144h7M131 144h3M143 144h3M169 144h3M183 144h2M247 144h2M23 145h5M130 145h3M142 145h3M169 145h4M184 145h1M247 145h2M24 146h3M130 146h2M142 146h3M169 146h4M186 146h1M205 146h1M247 146h2M129 147h2M142 147h2M168 147h5M204 147h2M246 147h3M129 148h2M141 148h3M167 148h6M185 148h1M204 148h2M246 148h2M129 149h2M141 149h3M167 149h6M204 149h2M246 149h2M129 150h2M141 150h3M167 150h6M205 150h2M246 150h2M129 151h2M142 151h3M166 151h8M205 151h2M246 151h3M129 152h2M142 152h3M166 152h8M206 152h2M246 152h3M129 153h2M142 153h5M166 153h8M207 153h2M246 153h3M129 154h3M143 154h6M164 154h12M207 154h2M246 154h3M129 155h4M145 155h38M184 155h1M208 155h2M246 155h3M23 156h1M128 156h5M149 156h32M209 156h1M246 156h4M22 157h2M128 157h6M152 157h27M209 157h1M246 157h4M21 158h3M127 158h7M153 158h24M210 158h1M245 158h6M21 159h4M125 159h8M154 159h23M210 159h2M245 159h8M20 160h5M124 160h8M154 160h24M187 160h1M211 160h1M246 160h9M20 161h2M23 161h3M123 161h8M154 161h9M171 161h11M185 161h2M212 161h1M254 161h3M20 162h2M24 162h3M100 162h3M124 162h6M155 162h7M172 162h11M212 162h2M256 162h4M21 163h1M25 163h3M99 163h5M124 163h5M156 163h4M173 163h8M213 163h2M260 163h10M21 164h1M26 164h2M46 164h2M49 164h2M99 164h2M125 164h4M174 164h5M214 164h2M22 165h1M27 165h2M51 165h1M100 165h1M125 165h4M176 165h2M215 165h2M22 166h1M28 166h2M52 166h1M100 166h2M105 166h2M125 166h4M215 166h3M22 167h1M29 167h2M43 167h1M100 167h2M108 167h2M126 167h3M216 167h3M22 168h1M29 168h2M43 168h1M100 168h3M108 168h3M126 168h3M218 168h2M22 169h1M30 169h2M40 169h3M101 169h2M109 169h2M126 169h3M219 169h2M22 170h1M31 170h2M39 170h2M101 170h3M109 170h3M127 170h3M187 170h1M220 170h3M21 171h3M31 171h2M38 171h2M102 171h2M109 171h3M128 171h3M188 171h1M192 171h4M222 171h2M22 172h2M31 172h3M37 172h2M52 172h1M102 172h2M109 172h3M129 172h3M184 172h6M193 172h5M223 172h2M22 173h3M32 173h6M52 173h1M102 173h3M109 173h3M130 173h3M145 173h3M182 173h9M197 173h3M224 173h2M23 174h3M32 174h6M103 174h2M109 174h3M131 174h2M144 174h7M181 174h9M200 174h1M225 174h2M24 175h2M32 175h6M103 175h3M108 175h4M131 175h2M143 175h9M181 175h7M203 175h1M226 175h2M25 176h2M33 176h5M51 176h1M104 176h8M132 176h2M143 176h9M181 176h6M203 176h2M228 176h1M26 177h1M33 177h5M51 177h1M104 177h8M132 177h2M143 177h9M182 177h4M204 177h3M214 177h2M229 177h1M33 178h2M38 178h1M51 178h1M105 178h7M133 178h2M142 178h10M183 178h3M206 178h3M211 178h2M217 178h2M230 178h2M33 179h1M105 179h7M134 179h1M142 179h10M183 179h3M209 179h2M219 179h1M231 179h2M29 180h1M33 180h1M39 180h1M106 180h5M135 180h1M141 180h11M183 180h3M232 180h3M33 181h1M50 181h1M107 181h4M135 181h3M139 181h13M183 181h2M234 181h2M33 182h2M50 182h1M108 182h2M135 182h17M181 182h4M222 182h1M235 182h2M28 183h2M33 183h3M50 183h1M138 183h14M180 183h3M223 183h1M237 183h1M27 184h3M33 184h1M50 184h1M146 184h6M179 184h3M223 184h1M237 184h2M28 185h5M48 185h1M146 185h6M179 185h2M238 185h1M28 186h5M47 186h1M146 186h6M178 186h2M224 186h1M238 186h2M28 187h6M145 187h7M178 187h2M224 187h1M239 187h2M27 188h8M46 188h1M144 188h8M178 188h2M225 188h2M240 188h11M26 189h10M141 189h10M178 189h2M229 189h1M247 189h5M25 190h12M45 190h1M138 190h12M178 190h2M231 190h1M250 190h3M25 191h3M30 191h3M37 191h1M45 191h1M138 191h10M178 191h2M232 191h1M252 191h1M24 192h3M30 192h3M38 192h1M45 192h1M138 192h10M179 192h2M233 192h1M252 192h1M24 193h3M30 193h2M38 193h2M45 193h1M138 193h9M179 193h4M186 193h8M235 193h1M24 194h3M30 194h2M38 194h1M138 194h7M181 194h14M237 194h1M24 195h3M30 195h2M46 195h1M138 195h4M190 195h5M239 195h1M253 195h1M24 196h3M30 196h2M37 196h1M46 196h1M138 196h4M191 196h5M240 196h1M262 196h8M24 197h3M30 197h2M47 197h1M139 197h3M192 197h4M242 197h1M257 197h3M24 198h3M29 198h3M36 198h1M47 198h1M139 198h3M170 198h4M193 198h4M243 198h1M24 199h8M45 199h1M139 199h3M169 199h8M194 199h3M243 199h1M25 200h11M44 200h1M58 200h2M139 200h3M169 200h9M195 200h3M244 200h1M0 201h11M25 201h9M43 201h1M54 201h1M139 201h3M169 201h3M176 201h3M195 201h3M244 201h1M11 202h1M26 202h6M60 202h1M139 202h3M149 202h4M169 202h3M178 202h2M196 202h2M244 202h1M11 203h1M29 203h3M55 203h1M139 203h3M148 203h6M169 203h3M178 203h3M195 203h3M245 203h1M12 204h1M30 204h2M61 204h1M139 204h3M148 204h8M169 204h3M178 204h3M194 204h3M245 204h2M12 205h1M31 205h1M139 205h3M148 205h10M170 205h4M177 205h3M191 205h2M246 205h1M31 206h2M43 206h1M62 206h1M139 206h3M148 206h11M171 206h9M189 206h1M247 206h2M13 207h1M32 207h1M139 207h3M148 207h4M158 207h3M173 207h5M188 207h1M248 207h2M14 208h1M32 208h1M63 208h1M139 208h3M148 208h3M159 208h3M187 208h1M249 208h1M14 209h1M32 209h1M44 209h1M139 209h3M147 209h4M160 209h3M187 209h1M249 209h2M15 210h1M32 210h1M58 210h1M64 210h1M139 210h4M146 210h5M161 210h4M187 210h1M249 210h2M16 211h1M31 211h1M64 211h1M140 211h11M162 211h6M187 211h1M226 211h4M249 211h2M17 212h1M31 212h1M45 212h1M59 212h1M140 212h11M165 212h6M187 212h2M224 212h7M249 212h2M19 213h1M30 213h2M45 213h1M59 213h1M65 213h1M140 213h11M167 213h5M187 213h2M224 213h8M249 213h2M20 214h2M30 214h1M46 214h1M59 214h1M141 214h10M169 214h4M186 214h3M223 214h4M230 214h4M249 214h1M21 215h3M30 215h1M46 215h1M59 215h1M143 215h8M170 215h4M185 215h3M224 215h2M231 215h4M249 215h1M22 216h3M30 216h1M46 216h1M59 216h1M66 216h1M145 216h6M170 216h5M185 216h2M224 216h2M232 216h3M247 216h3M23 217h2M30 217h2M46 217h1M59 217h1M147 217h3M171 217h5M184 217h2M224 217h3M233 217h3M247 217h2M23 218h2M31 218h1M46 218h1M59 218h1M171 218h7M184 218h2M225 218h2M234 218h3M247 218h2M24 219h1M31 219h1M46 219h1M59 219h1M172 219h7M183 219h2M225 219h2M235 219h2M247 219h2M24 220h1M32 220h1M46 220h1M59 220h1M67 220h1M175 220h10M226 220h1M235 220h2M247 220h2M24 221h1M32 221h1M46 221h1M59 221h1M67 221h1M179 221h5M226 221h2M235 221h3M248 221h2M25 222h1M33 222h1M46 222h1M182 222h1M226 222h2M236 222h2M249 222h1M25 223h1M33 223h1M60 223h1M226 223h3M236 223h2M249 223h2M25 224h1M34 224h1M47 224h1M60 224h1M227 224h2M236 224h3M250 224h1M25 225h1M61 225h3M227 225h3M237 225h2M251 225h1M24 226h2M35 226h1M48 226h1M64 226h1M66 226h1M227 226h3M237 226h2M251 226h1M23 227h1M35 227h1M48 227h1M226 227h4M237 227h2M252 227h1M22 228h1M35 228h1M225 228h4M236 228h3M252 228h1M35 229h1M224 229h4M236 229h2M252 229h2M21 230h1M35 230h1M49 230h1M223 230h4M236 230h2M253 230h1M21 231h1M35 231h1M222 231h4M236 231h2M253 231h2M21 232h1M221 232h4M236 232h2M253 232h2M21 233h1M220 233h5M236 233h1M253 233h2M21 234h1M34 234h1M50 234h1M219 234h6M236 234h1M253 234h2M21 235h1M34 235h1M50 235h1M219 235h6M236 235h1M253 235h2M21 236h1M34 236h1M50 236h1M219 236h6M236 236h1M253 236h2M21 237h1M34 237h1M50 237h1M219 237h6M236 237h1M253 237h2M21 238h1M34 238h1M50 238h1M219 238h6M236 238h1M253 238h2M21 239h1M34 239h1M50 239h1M219 239h6M236 239h1M253 239h2M21 240h1M34 240h1M50 240h1M219 240h6M236 240h1M253 240h2M21 241h1M34 241h1M50 241h1M219 241h6M236 241h1M253 241h2"/>
<path stroke="#008fff" d="M198 76h1M202 76h1M205 77h1M209 81h1M212 85h1M53 88h2M184 88h1M49 89h2M48 90h1M0 91h10M47 91h1M11 92h2M46 92h1M214 92h1M13 93h1M45 93h1M214 93h1M14 94h1M44 94h1M16 95h1M43 95h1M17 96h1M42 96h1M19 97h1M36 97h2M21 98h2M33 98h3M34 99h1M78 99h1M22 100h1M49 100h3M184 100h1M22 101h1M50 101h1M52 101h2M184 101h1M215 101h1M50 102h1M54 102h1M23 103h1M50 103h1M54 103h1M24 104h1M50 104h1M55 104h1M184 104h1M25 105h3M30 105h2M50 105h1M55 105h1M184 105h1M216 105h1M32 106h1M50 106h1M56 106h1M151 106h1M184 106h1M0 107h12M32 107h1M50 107h1M56 107h1M152 107h1M184 107h1M16 108h1M33 108h1M49 108h1M57 108h1M75 108h1M151 108h1M153 108h1M184 108h1M33 109h2M48 109h4M57 109h1M152 109h1M154 109h1M34 110h2M52 110h1M58 110h1M153 110h1M155 110h5M34 111h1M53 111h1M58 111h1M70 111h1M152 111h3M156 111h5M217 111h1M21 112h1M38 112h7M54 112h1M59 112h1M153 112h2M159 112h3M21 113h1M33 113h1M38 113h1M43 113h1M54 113h1M59 113h2M156 113h1M159 113h4M33 114h1M43 114h1M54 114h1M60 114h2M157 114h1M160 114h3M185 114h1M33 115h1M38 115h1M43 115h1M60 115h3M161 115h3M38 116h1M43 116h1M55 116h1M60 116h3M161 116h4M34 117h1M43 117h1M61 117h3M161 117h5M35 118h3M43 118h1M54 118h1M61 118h4M162 118h1M166 118h1M22 119h1M43 119h1M54 119h1M60 119h6M162 119h1M166 119h1M22 120h1M44 120h1M53 120h14M162 120h1M164 120h2M167 120h1M186 120h1M22 121h1M45 121h1M57 121h11M165 121h2M217 121h1M22 122h1M46 122h1M59 122h10M167 122h1M0 123h9M22 123h2M47 123h3M59 123h11M0 124h10M22 124h2M49 124h1M60 124h11M165 124h1M0 125h11M23 125h3M48 125h1M60 125h12M169 125h1M0 126h12M23 126h5M48 126h1M60 126h13M171 126h1M0 127h13M26 127h3M48 127h1M60 127h14M119 127h1M171 127h1M0 128h15M29 128h2M48 128h1M60 128h14M117 128h16M167 128h1M172 128h1M0 129h17M31 129h1M48 129h1M60 129h15M116 129h18M168 129h1M172 129h1M185 129h1M212 129h1M15 130h2M32 130h1M48 130h1M60 130h12M115 130h21M167 130h2M173 130h1M185 130h1M211 130h2M33 131h1M48 131h1M59 131h10M114 131h34M166 131h3M174 131h1M185 131h1M210 131h2M35 132h1M49 132h1M59 132h10M112 132h27M143 132h8M166 132h2M174 132h1M210 132h2M18 133h2M36 133h1M49 133h2M58 133h10M111 133h25M148 133h4M166 133h2M175 133h1M209 133h2M19 134h1M37 134h1M50 134h2M57 134h1M61 134h7M110 134h19M133 134h2M149 134h4M165 134h3M176 134h1M209 134h1M19 135h1M39 135h1M51 135h6M61 135h6M110 135h16M133 135h2M150 135h3M165 135h3M177 135h1M209 135h1M19 136h2M41 136h2M61 136h5M110 136h13M133 136h2M150 136h3M165 136h3M178 136h1M0 137h8M20 137h2M45 137h1M60 137h5M109 137h13M133 137h2M149 137h3M166 137h2M178 137h2M251 137h3M0 138h9M21 138h2M47 138h1M60 138h3M85 138h8M110 138h11M133 138h2M149 138h2M166 138h2M180 138h1M249 138h3M253 138h3M0 139h11M23 139h2M48 139h1M60 139h2M84 139h11M110 139h10M133 139h2M148 139h3M166 139h3M181 139h2M247 139h3M255 139h15M0 140h12M25 140h2M50 140h1M59 140h2M85 140h10M110 140h10M133 140h2M148 140h2M166 140h3M182 140h3M245 140h4M259 140h11M12 141h2M26 141h3M51 141h1M59 141h2M86 141h9M111 141h9M132 141h2M147 141h2M166 141h3M184 141h2M208 141h1M244 141h4M14 142h3M27 142h3M52 142h2M58 142h2M90 142h4M112 142h8M132 142h2M147 142h2M165 142h4M244 142h3M17 143h2M28 143h2M54 143h2M57 143h3M113 143h7M131 143h2M146 143h2M164 143h5M244 143h3M19 144h2M28 144h2M55 144h3M114 144h6M130 144h1M146 144h1M163 144h6M186 144h1M244 144h3M20 145h3M28 145h2M115 145h6M129 145h1M145 145h1M162 145h7M186 145h1M206 145h1M244 145h3M21 146h3M27 146h3M79 146h2M115 146h5M128 146h2M145 146h1M161 146h8M206 146h1M244 146h3M22 147h8M79 147h2M116 147h3M127 147h2M144 147h2M160 147h8M185 147h1M206 147h1M244 147h2M22 148h8M79 148h2M116 148h2M127 148h2M144 148h2M159 148h8M206 148h2M244 148h2M22 149h7M79 149h2M116 149h2M127 149h2M144 149h2M158 149h9M206 149h2M244 149h2M22 150h7M116 150h3M126 150h3M144 150h3M157 150h10M207 150h2M244 150h2M22 151h7M116 151h4M126 151h3M145 151h3M155 151h11M207 151h2M244 151h2M22 152h6M117 152h6M126 152h3M145 152h4M154 152h12M208 152h1M243 152h3M22 153h5M117 153h7M125 153h4M147 153h19M209 153h1M243 153h3M21 154h6M118 154h11M149 154h15M209 154h1M242 154h4M21 155h5M118 155h11M183 155h1M210 155h1M240 155h6M21 156h2M24 156h2M118 156h10M181 156h1M184 156h1M210 156h1M239 156h7M20 157h2M24 157h2M118 157h10M179 157h2M210 157h2M238 157h8M20 158h1M24 158h2M118 158h9M177 158h3M186 158h1M211 158h1M238 158h7M19 159h2M25 159h1M118 159h7M177 159h4M187 159h1M212 159h1M238 159h7M19 160h1M25 160h2M99 160h3M118 160h6M178 160h3M186 160h1M212 160h2M239 160h7M18 161h2M26 161h1M99 161h5M118 161h5M182 161h3M213 161h2M239 161h15M19 162h1M27 162h1M98 162h2M103 162h1M118 162h6M214 162h2M239 162h17M20 163h1M28 163h1M47 163h2M98 163h1M118 163h6M215 163h2M240 163h11M255 163h5M28 164h2M45 164h1M51 164h1M98 164h1M104 164h1M119 164h6M216 164h3M240 164h9M259 164h11M21 165h1M29 165h2M44 165h1M52 165h1M98 165h2M105 165h1M109 165h1M121 165h4M217 165h3M241 165h7M21 166h1M30 166h1M43 166h1M99 166h1M107 166h4M122 166h3M218 166h3M21 167h1M31 167h1M53 167h1M99 167h1M110 167h2M123 167h3M219 167h2M21 168h1M31 168h2M40 168h3M53 168h1M99 168h1M111 168h2M123 168h3M220 168h2M21 169h1M32 169h2M38 169h2M53 169h1M99 169h2M111 169h3M124 169h2M189 169h1M221 169h2M21 170h1M33 170h6M53 170h1M100 170h1M112 170h2M124 170h3M223 170h1M33 171h5M53 171h1M100 171h2M112 171h2M125 171h3M224 171h1M20 172h2M34 172h3M100 172h2M112 172h3M126 172h3M225 172h1M20 173h2M101 173h1M112 173h3M127 173h3M194 173h3M226 173h2M20 174h3M52 174h1M101 174h2M112 174h3M128 174h3M190 174h2M195 174h5M201 174h1M227 174h2M21 175h3M52 175h1M101 175h2M112 175h4M129 175h2M188 175h5M198 175h2M202 175h1M228 175h2M23 176h2M52 176h1M101 176h3M112 176h4M131 176h1M187 176h4M229 176h2M25 177h1M52 177h1M102 177h2M112 177h4M131 177h1M186 177h4M202 177h2M230 177h2M27 178h1M52 178h1M102 178h3M112 178h4M132 178h1M186 178h3M203 178h3M213 178h4M232 178h2M28 179h1M51 179h1M102 179h3M112 179h4M133 179h1M186 179h2M205 179h4M211 179h1M218 179h1M233 179h3M51 180h1M102 180h4M111 180h5M134 180h1M186 180h2M208 180h3M220 180h1M235 180h2M245 180h4M29 181h1M51 181h1M102 181h5M111 181h5M134 181h1M185 181h3M221 181h1M236 181h3M245 181h4M29 182h1M35 182h3M102 182h6M110 182h6M134 182h1M185 182h2M237 182h2M246 182h3M25 183h3M101 183h15M133 183h5M183 183h3M222 183h1M238 183h2M26 184h1M100 184h15M135 184h11M182 184h3M239 184h1M250 184h2M26 185h2M49 185h1M100 185h15M137 185h9M181 185h3M223 185h1M239 185h2M249 185h5M25 186h3M48 186h1M99 186h15M139 186h7M180 186h3M223 186h1M240 186h2M247 186h8M25 187h3M47 187h1M100 187h4M138 187h7M180 187h2M223 187h1M241 187h14M24 188h3M137 188h7M180 188h2M224 188h1M251 188h3M24 189h2M46 189h1M137 189h4M180 189h2M191 189h2M227 189h2M252 189h2M23 190h2M46 190h1M136 190h2M180 190h2M188 190h8M230 190h1M253 190h1M22 191h3M33 191h4M136 191h2M180 191h3M186 191h10M231 191h1M253 191h1M22 192h2M33 192h5M136 192h2M181 192h16M232 192h1M22 193h2M32 193h2M37 193h1M46 193h1M136 193h2M183 193h3M194 193h3M234 193h1M22 194h2M32 194h2M46 194h1M136 194h2M195 194h3M236 194h1M253 194h1M22 195h2M32 195h1M37 195h1M137 195h1M195 195h3M238 195h1M22 196h2M32 196h1M47 196h1M137 196h1M196 196h2M255 196h1M261 196h1M23 197h1M32 197h1M36 197h1M48 197h1M137 197h2M196 197h3M241 197h1M23 198h1M32 198h2M35 198h1M48 198h2M137 198h2M197 198h2M242 198h1M23 199h1M32 199h4M59 199h1M137 199h2M197 199h3M23 200h2M53 200h5M137 200h2M198 200h2M243 200h1M11 201h1M23 201h2M60 201h1M137 201h2M172 201h4M198 201h2M243 201h1M23 202h3M43 202h1M54 202h1M137 202h2M172 202h6M198 202h2M243 202h1M12 203h1M24 203h5M43 203h1M61 203h1M137 203h2M172 203h6M198 203h2M244 203h1M26 204h4M43 204h1M55 204h1M138 204h1M172 204h6M197 204h3M244 204h1M13 205h1M29 205h2M43 205h1M62 205h1M138 205h1M174 205h3M193 205h6M244 205h2M13 206h1M30 206h1M56 206h1M138 206h1M190 206h2M245 206h2M14 207h1M31 207h1M44 207h1M63 207h1M138 207h1M152 207h6M189 207h1M245 207h3M31 208h1M57 208h1M138 208h1M151 208h8M188 208h2M246 208h3M15 209h1M31 209h1M64 209h1M138 209h1M151 209h9M188 209h1M225 209h4M247 209h2M16 210h1M31 210h1M45 210h1M138 210h1M151 210h10M188 210h1M223 210h9M247 210h2M30 211h1M45 211h1M65 211h1M138 211h2M151 211h11M188 211h1M222 211h4M230 211h4M248 211h1M30 212h1M65 212h1M138 212h2M151 212h14M189 212h1M221 212h3M231 212h4M248 212h1M20 213h2M29 213h1M46 213h1M138 213h2M151 213h16M189 213h2M221 213h3M232 213h4M245 213h1M22 214h8M66 214h1M138 214h3M151 214h18M189 214h1M221 214h2M234 214h3M244 214h3M24 215h6M47 215h1M66 215h1M138 215h5M151 215h10M166 215h4M188 215h2M222 215h2M235 215h3M244 215h3M25 216h5M47 216h1M138 216h7M151 216h10M167 216h3M187 216h2M222 216h2M235 216h3M244 216h3M25 217h5M47 217h1M139 217h8M150 217h11M167 217h4M186 217h2M223 217h1M236 217h3M244 217h3M25 218h2M29 218h2M47 218h1M67 218h1M140 218h21M167 218h4M186 218h1M223 218h2M237 218h2M244 218h3M25 219h2M30 219h1M67 219h1M140 219h20M167 219h5M185 219h2M224 219h1M237 219h2M244 219h3M25 220h2M31 220h1M141 220h19M167 220h8M185 220h1M224 220h2M237 220h3M244 220h3M25 221h2M31 221h1M47 221h1M142 221h16M167 221h12M184 221h2M224 221h2M238 221h2M245 221h3M26 222h1M47 222h1M59 222h1M143 222h13M167 222h15M183 222h3M225 222h1M238 222h3M246 222h3M26 223h1M47 223h1M59 223h1M68 223h1M144 223h10M167 223h6M180 223h5M225 223h1M238 223h3M248 223h1M26 224h1M33 224h1M59 224h1M68 224h1M146 224h7M167 224h5M225 224h2M239 224h3M249 224h1M26 225h1M34 225h1M48 225h1M60 225h1M147 225h6M168 225h3M224 225h3M239 225h3M249 225h2M26 226h1M34 226h1M60 226h4M67 226h1M148 226h4M168 226h2M224 226h3M239 226h3M250 226h1M24 227h1M34 227h1M149 227h2M223 227h3M239 227h2M250 227h2M23 228h1M34 228h1M49 228h1M222 228h3M239 228h2M251 228h1M22 229h1M34 229h1M49 229h1M217 229h7M238 229h2M251 229h1M22 230h1M34 230h1M215 230h8M238 230h2M251 230h2M34 231h1M50 231h1M214 231h8M238 231h2M251 231h2M34 232h1M50 232h1M214 232h7M238 232h1M252 232h1M34 233h1M50 233h1M214 233h6M237 233h2M252 233h1M214 234h5M237 234h2M252 234h1M214 235h5M237 235h2M252 235h1M214 236h5M237 236h2M252 236h1M214 237h5M237 237h2M252 237h1M214 238h5M237 238h2M252 238h1M214 239h5M237 239h2M252 239h1M214 240h5M237 240h2M252 240h1M214 241h5M237 241h2M252 241h1"/>
<path stroke="#009fff" d="M203 76h1M195 77h1M193 78h1M191 79h1M188 81h1M187 82h1M210 82h1M211 83h1M185 85h1M56 87h1M184 87h1M213 87h1M52 88h1M214 90h1M10 91h2M183 91h1M214 91h1M13 92h1M183 92h1M14 93h1M144 93h5M183 93h1M15 94h2M143 94h6M17 95h1M38 95h4M142 95h6M18 96h2M34 96h8M142 96h5M20 97h2M32 97h4M38 97h5M143 97h3M23 98h2M36 98h1M23 99h1M33 99h1M35 99h1M47 99h4M23 100h1M34 100h1M48 100h1M52 100h2M78 100h1M215 100h1M23 101h1M33 101h1M49 101h1M54 101h1M23 102h1M33 102h1M49 102h1M55 102h1M184 102h1M24 103h1M32 103h2M49 103h1M55 103h1M142 103h2M184 103h1M25 104h2M31 104h2M49 104h1M56 104h1M78 104h1M141 104h4M216 104h1M28 105h2M32 105h2M49 105h1M56 105h1M78 105h1M140 105h6M150 105h1M33 106h1M49 106h1M140 106h7M33 107h1M49 107h1M57 107h1M77 107h1M139 107h9M150 107h1M15 108h1M34 108h1M48 108h1M139 108h10M18 109h1M35 109h1M47 109h1M58 109h1M73 109h1M139 109h13M155 109h9M184 109h1M36 110h1M45 110h7M59 110h1M72 110h1M140 110h13M160 110h5M217 110h1M20 111h1M35 111h12M51 111h2M59 111h2M141 111h11M161 111h5M34 112h1M37 112h1M45 112h1M53 112h1M60 112h2M68 112h1M144 112h9M162 112h5M44 113h1M53 113h1M61 113h4M66 113h2M154 113h2M163 113h6M21 114h1M38 114h1M44 114h1M62 114h5M156 114h1M163 114h7M21 115h1M54 115h1M63 115h5M158 115h1M164 115h6M185 115h1M21 116h1M34 116h1M54 116h1M63 116h5M159 116h1M165 116h5M21 117h1M35 117h1M37 117h1M54 117h1M64 117h4M159 117h2M166 117h4M21 118h1M44 118h1M65 118h4M160 118h2M167 118h3M21 119h1M44 119h1M53 119h1M66 119h4M160 119h2M167 119h2M21 120h1M45 120h1M52 120h1M67 120h3M160 120h2M168 120h1M0 121h9M21 121h1M46 121h1M51 121h6M68 121h3M161 121h3M167 121h1M0 122h10M21 122h1M47 122h7M55 122h4M69 122h3M164 122h1M217 122h1M9 123h2M21 123h1M50 123h2M57 123h2M70 123h3M164 123h1M168 123h1M10 124h2M21 124h1M50 124h1M58 124h2M71 124h3M216 124h1M11 125h2M21 125h2M49 125h1M59 125h1M72 125h2M114 125h7M130 125h3M165 125h1M170 125h2M12 126h2M20 126h3M49 126h1M59 126h1M73 126h2M113 126h22M166 126h1M185 126h1M13 127h13M49 127h1M59 127h1M74 127h2M112 127h7M120 127h16M165 127h2M172 127h2M185 127h1M214 127h1M15 128h3M22 128h7M49 128h1M59 128h1M74 128h3M111 128h6M133 128h5M164 128h3M173 128h2M185 128h1M213 128h2M29 129h2M49 129h1M59 129h1M75 129h3M110 129h6M134 129h13M164 129h4M173 129h2M213 129h2M237 129h3M31 130h1M49 130h1M59 130h1M72 130h8M108 130h7M136 130h15M164 130h3M174 130h2M213 130h1M235 130h6M32 131h1M49 131h1M58 131h1M69 131h1M75 131h6M107 131h7M148 131h5M163 131h3M175 131h1M212 131h2M235 131h7M34 132h1M50 132h1M58 132h1M76 132h7M106 132h6M151 132h3M163 132h3M175 132h2M212 132h1M235 132h7M35 133h1M51 133h1M57 133h1M68 133h1M76 133h8M106 133h5M152 133h3M163 133h3M176 133h1M211 133h2M236 133h5M20 134h1M52 134h5M68 134h1M77 134h8M105 134h5M129 134h4M153 134h4M162 134h3M177 134h1M210 134h2M237 134h4M20 135h2M67 135h1M78 135h11M90 135h5M105 135h5M126 135h1M130 135h3M153 135h5M162 135h3M178 135h1M210 135h1M251 135h2M21 136h1M40 136h1M66 136h1M79 136h21M104 136h6M123 136h3M131 136h2M153 136h6M161 136h4M179 136h1M209 136h1M250 136h4M22 137h1M43 137h2M65 137h1M79 137h23M103 137h6M122 137h3M131 137h2M152 137h14M180 137h1M184 137h1M209 137h1M248 137h3M254 137h3M23 138h1M46 138h1M63 138h3M80 138h5M93 138h9M104 138h6M121 138h2M131 138h2M151 138h15M181 138h4M209 138h1M242 138h7M256 138h14M25 139h1M47 139h1M62 139h4M80 139h4M95 139h6M105 139h5M120 139h2M131 139h2M151 139h15M183 139h2M241 139h6M27 140h2M49 140h1M61 140h5M80 140h5M95 140h5M107 140h3M120 140h2M131 140h2M150 140h16M241 140h4M0 141h12M29 141h2M50 141h1M61 141h5M79 141h7M95 141h4M108 141h3M120 141h2M131 141h1M149 141h4M157 141h9M241 141h3M12 142h2M30 142h2M60 142h6M79 142h11M94 142h4M109 142h3M120 142h2M131 142h1M149 142h2M157 142h8M208 142h1M241 142h3M15 143h2M30 143h2M53 143h1M60 143h5M78 143h19M110 143h3M120 143h2M129 143h2M148 143h1M157 143h7M241 143h3M16 144h3M30 144h2M54 144h1M58 144h5M77 144h9M89 144h7M111 144h3M120 144h3M128 144h2M147 144h1M157 144h6M207 144h1M241 144h3M18 145h2M30 145h2M55 145h6M76 145h8M112 145h3M121 145h3M126 145h3M146 145h1M157 145h5M207 145h1M241 145h3M19 146h2M30 146h1M75 146h4M81 146h3M112 146h3M120 146h8M146 146h1M157 146h4M185 146h1M207 146h1M241 146h3M20 147h2M30 147h1M75 147h4M81 147h3M113 147h3M119 147h1M125 147h2M146 147h1M156 147h4M207 147h2M240 147h4M20 148h2M30 148h1M76 148h3M81 148h2M113 148h3M118 148h1M125 148h2M146 148h1M155 148h4M208 148h1M240 148h4M20 149h2M29 149h2M76 149h3M81 149h2M113 149h3M118 149h1M125 149h2M146 149h1M154 149h4M208 149h1M240 149h4M21 150h1M29 150h1M77 150h6M113 150h3M119 150h1M125 150h1M147 150h1M153 150h4M209 150h1M240 150h4M21 151h1M29 151h1M78 151h5M113 151h3M120 151h6M148 151h1M152 151h3M209 151h1M239 151h5M21 152h1M28 152h2M78 152h5M114 152h3M123 152h3M149 152h5M209 152h2M237 152h6M20 153h2M27 153h2M79 153h4M115 153h2M124 153h1M210 153h1M236 153h7M20 154h1M27 154h1M80 154h3M115 154h3M210 154h2M235 154h7M20 155h1M26 155h2M81 155h3M116 155h2M211 155h1M234 155h6M19 156h2M26 156h1M81 156h3M116 156h2M182 156h2M211 156h1M234 156h5M19 157h1M26 157h1M82 157h5M117 157h1M185 157h1M212 157h1M234 157h4M18 158h2M26 158h1M83 158h4M98 158h3M117 158h1M180 158h1M212 158h2M235 158h3M18 159h1M26 159h1M84 159h3M98 159h4M117 159h1M186 159h1M213 159h1M235 159h3M17 160h2M27 160h1M98 160h1M102 160h2M117 160h1M181 160h1M185 160h1M214 160h2M236 160h3M17 161h1M27 161h2M98 161h1M116 161h2M215 161h2M237 161h2M18 162h1M28 162h2M97 162h1M116 162h2M216 162h3M237 162h2M19 163h1M29 163h1M46 163h1M49 163h2M97 163h1M104 163h1M116 163h2M217 163h4M238 163h2M251 163h4M20 164h1M30 164h1M44 164h1M52 164h1M105 164h1M110 164h1M116 164h3M219 164h3M238 164h2M249 164h10M20 165h1M31 165h1M43 165h1M106 165h3M110 165h2M116 165h5M220 165h2M239 165h2M248 165h4M259 165h11M20 166h1M31 166h2M53 166h1M98 166h1M111 166h4M117 166h5M221 166h2M239 166h11M32 167h1M41 167h2M98 167h1M112 167h4M120 167h3M221 167h2M240 167h9M33 168h2M38 168h2M54 168h1M98 168h1M113 168h3M121 168h2M222 168h2M241 168h7M20 169h1M34 169h4M54 169h1M98 169h1M114 169h2M123 169h1M223 169h2M242 169h5M20 170h1M98 170h2M114 170h2M123 170h1M190 170h1M224 170h2M242 170h4M20 171h1M99 171h1M114 171h3M122 171h3M225 171h2M19 172h1M53 172h1M99 172h1M115 172h2M124 172h2M226 172h2M18 173h2M53 173h1M99 173h2M115 173h3M122 173h2M126 173h1M228 173h1M244 173h1M18 174h2M53 174h1M99 174h2M115 174h4M124 174h1M127 174h1M192 174h1M229 174h2M243 174h3M18 175h3M53 175h1M99 175h2M116 175h3M126 175h1M193 175h1M196 175h2M230 175h2M242 175h5M19 176h4M53 176h1M99 176h2M116 176h3M127 176h2M191 176h4M197 176h3M202 176h1M231 176h2M241 176h7M24 177h1M53 177h1M99 177h3M116 177h3M129 177h2M190 177h3M198 177h4M232 177h3M240 177h10M26 178h1M35 178h3M99 178h3M116 178h3M131 178h1M189 178h3M199 178h4M234 178h17M27 179h1M34 179h1M38 179h1M52 179h1M99 179h3M116 179h2M132 179h1M188 179h3M201 179h4M212 179h6M236 179h16M28 180h1M52 180h1M99 180h3M116 180h1M133 180h1M188 180h3M202 180h6M211 180h1M219 180h1M237 180h8M249 180h3M28 181h1M34 181h1M38 181h1M99 181h3M116 181h1M133 181h1M188 181h2M204 181h7M220 181h1M239 181h6M249 181h4M27 182h2M51 182h1M98 182h4M116 182h1M133 182h1M187 182h3M207 182h4M221 182h1M239 182h7M249 182h5M24 183h1M51 183h1M98 183h3M116 183h2M132 183h1M186 183h4M240 183h15M24 184h2M51 184h1M97 184h3M115 184h3M132 184h3M185 184h5M222 184h1M240 184h10M252 184h4M24 185h2M50 185h1M97 185h3M115 185h2M133 185h4M184 185h7M222 185h1M241 185h8M254 185h3M24 186h1M49 186h1M97 186h2M114 186h3M134 186h5M183 186h11M242 186h5M255 186h2M23 187h2M48 187h1M97 187h3M104 187h11M135 187h3M182 187h14M255 187h2M22 188h2M47 188h1M97 188h16M135 188h2M182 188h15M223 188h1M254 188h2M22 189h2M47 189h1M97 189h6M135 189h2M182 189h9M193 189h5M223 189h4M254 189h1M21 190h2M97 190h4M135 190h1M182 190h6M196 190h2M229 190h1M254 190h1M21 191h1M46 191h1M96 191h4M135 191h1M183 191h3M196 191h3M230 191h1M21 192h1M46 192h1M89 192h10M135 192h1M197 192h2M231 192h1M253 192h1M21 193h1M34 193h3M87 193h12M135 193h1M197 193h2M233 193h1M253 193h1M21 194h1M34 194h4M86 194h13M135 194h1M198 194h2M235 194h1M21 195h1M33 195h4M47 195h1M86 195h13M136 195h1M198 195h2M237 195h1M254 195h1M262 195h8M21 196h1M33 196h4M48 196h1M87 196h12M136 196h1M198 196h3M239 196h1M256 196h1M21 197h2M33 197h3M88 197h10M136 197h1M199 197h3M240 197h1M22 198h1M34 198h1M50 198h1M89 198h7M136 198h1M199 198h3M22 199h1M46 199h1M51 199h2M58 199h1M91 199h3M136 199h1M200 199h3M242 199h1M0 200h8M11 200h1M22 200h1M60 200h1M136 200h1M200 200h3M242 200h1M12 201h1M22 201h1M44 201h1M136 201h1M200 201h2M242 201h1M12 202h1M22 202h1M61 202h1M136 202h1M200 202h2M242 202h1M22 203h2M54 203h1M136 203h1M200 203h2M242 203h2M13 204h1M23 204h3M136 204h2M200 204h2M215 204h4M243 204h1M25 205h4M55 205h1M136 205h2M199 205h3M214 205h6M243 205h1M14 206h1M28 206h2M137 206h1M192 206h2M198 206h4M213 206h8M244 206h1M15 207h1M29 207h2M56 207h1M137 207h1M190 207h2M212 207h13M15 208h2M30 208h1M44 208h1M64 208h1M137 208h1M190 208h1M211 208h20M242 208h1M245 208h1M16 209h1M30 209h1M57 209h1M65 209h1M137 209h1M189 209h1M210 209h15M229 209h5M242 209h2M246 209h1M30 210h1M65 210h1M137 210h1M189 210h1M210 210h13M232 210h4M237 210h8M17 211h1M29 211h1M58 211h1M66 211h1M137 211h1M189 211h1M217 211h5M234 211h2M237 211h8M18 212h1M21 212h2M27 212h3M46 212h1M58 212h1M66 212h1M137 212h1M190 212h1M218 212h3M235 212h2M238 212h8M22 213h7M47 213h1M58 213h1M66 213h1M136 213h2M191 213h1M219 213h2M236 213h1M238 213h7M248 213h1M47 214h1M58 214h1M67 214h1M136 214h2M190 214h2M219 214h2M238 214h6M48 215h1M58 215h1M67 215h1M136 215h2M161 215h5M190 215h1M220 215h2M239 215h5M48 216h1M58 216h1M67 216h1M136 216h2M161 216h6M189 216h2M220 216h2M239 216h5M48 217h1M58 217h1M67 217h1M136 217h3M161 217h6M188 217h2M221 217h2M240 217h4M27 218h2M58 218h1M136 218h4M161 218h6M187 218h2M222 218h1M241 218h3M27 219h3M47 219h1M58 219h1M136 219h4M160 219h7M187 219h1M222 219h2M239 219h1M241 219h3M27 220h4M47 220h1M58 220h1M136 220h5M160 220h7M186 220h2M223 220h1M240 220h1M242 220h2M27 221h1M30 221h1M58 221h1M68 221h1M136 221h6M158 221h9M186 221h2M223 221h1M240 221h1M243 221h2M27 222h1M32 222h1M58 222h1M68 222h1M136 222h7M156 222h11M186 222h2M223 222h2M241 222h1M243 222h3M27 223h1M48 223h1M58 223h1M136 223h8M154 223h13M173 223h7M185 223h2M223 223h2M241 223h2M244 223h4M27 224h1M48 224h1M137 224h9M153 224h4M163 224h4M172 224h3M179 224h8M222 224h3M242 224h1M244 224h5M27 225h1M33 225h1M49 225h1M59 225h1M68 225h1M139 225h8M153 225h2M164 225h4M171 225h3M183 225h2M222 225h2M242 225h2M248 225h1M33 226h1M49 226h1M59 226h1M141 226h7M152 226h3M164 226h4M170 226h3M219 226h5M242 226h2M248 226h2M25 227h1M33 227h1M49 227h1M60 227h4M65 227h1M143 227h6M151 227h3M165 227h7M215 227h8M241 227h3M249 227h1M24 228h1M33 228h1M144 228h10M166 228h5M214 228h8M241 228h2M249 228h2M23 229h1M33 229h1M50 229h1M145 229h9M168 229h2M213 229h4M240 229h3M249 229h2M33 230h1M50 230h1M145 230h9M212 230h3M240 230h2M250 230h1M22 231h1M146 231h8M212 231h2M240 231h2M250 231h1M22 232h1M146 232h8M212 232h2M239 232h2M250 232h2M22 233h1M147 233h7M212 233h2M239 233h2M250 233h2M22 234h1M33 234h1M51 234h1M148 234h5M212 234h2M239 234h2M250 234h2M22 235h1M33 235h1M51 235h1M148 235h5M212 235h2M239 235h2M250 235h2M22 236h1M33 236h1M51 236h1M148 236h5M212 236h2M239 236h2M250 236h2M22 237h1M33 237h1M51 237h1M148 237h5M212 237h2M239 237h2M250 237h2M22 238h1M33 238h1M51 238h1M148 238h5M212 238h2M239 238h2M250 238h2M22 239h1M33 239h1M51 239h1M148 239h5M212 239h2M239 239h2M250 239h2M22 240h1M33 240h1M51 240h1M148 240h5M212 240h2M239 240h2M250 240h2M22 241h1M33 241h1M51 241h1M148 241h5M212 241h2M239 241h2M250 241h2"/>
<path stroke="#00afff" d="M178 65h5M174 66h10M162 67h4M174 67h10M160 68h7M173 68h11M159 69h8M173 69h11M158 70h9M173 70h11M157 71h10M173 71h10M157 72h11M173 72h10M158 73h10M173 73h9M159 74h10M174 74h5M161 75h11M162 76h10M197 76h1M204 76h1M162 77h9M206 77h1M163 78h6M207 78h1M164 79h2M208 79h1M189 80h1M150 83h1M186 83h1M149 84h3M49 85h1M148 85h5M48 86h2M148 86h6M213 86h1M47 87h3M55 87h1M57 87h2M148 87h7M47 88h3M51 88h1M55 88h1M58 88h2M148 88h9M47 89h2M51 89h1M147 89h12M214 89h1M0 90h12M49 90h1M146 90h13M183 90h1M12 91h2M48 91h1M144 91h14M14 92h1M47 92h1M143 92h14M15 93h2M32 93h1M46 93h1M142 93h2M149 93h7M17 94h1M32 94h1M38 94h6M45 94h1M141 94h2M149 94h5M183 94h1M18 95h2M33 95h5M42 95h1M44 95h1M140 95h2M148 95h4M183 95h1M20 96h2M31 96h3M43 96h2M140 96h2M147 96h2M183 96h1M22 97h4M29 97h3M43 97h3M140 97h3M146 97h2M25 98h1M31 98h2M37 98h4M42 98h7M141 98h6M215 98h1M24 99h1M32 99h1M36 99h2M45 99h2M51 99h2M141 99h5M215 99h1M24 100h1M33 100h1M35 100h1M47 100h1M54 100h1M141 100h5M24 101h1M34 101h1M47 101h2M55 101h1M78 101h1M140 101h5M24 102h1M32 102h1M34 102h1M48 102h1M140 102h6M25 103h1M31 103h1M34 103h1M48 103h1M56 103h1M139 103h3M144 103h2M216 103h1M27 104h4M33 104h1M48 104h1M139 104h2M145 104h2M34 105h1M48 105h1M57 105h1M138 105h2M146 105h2M151 105h1M162 105h3M34 106h1M48 106h1M57 106h1M77 106h1M138 106h2M147 106h3M152 106h1M160 106h6M34 107h1M47 107h2M58 107h1M76 107h1M138 107h1M148 107h2M153 107h1M156 107h11M14 108h1M35 108h1M47 108h1M58 108h1M137 108h2M149 108h2M154 108h14M217 108h1M36 109h1M45 109h2M59 109h1M137 109h2M164 109h5M217 109h1M19 110h1M37 110h3M42 110h3M60 110h1M71 110h1M137 110h3M165 110h6M184 110h1M47 111h4M61 111h3M65 111h5M71 111h1M137 111h4M166 111h6M184 111h1M20 112h1M35 112h2M46 112h1M51 112h2M62 112h6M69 112h4M137 112h7M167 112h6M34 113h1M37 113h1M45 113h1M52 113h1M65 113h1M68 113h5M138 113h16M169 113h5M34 114h1M53 114h1M67 114h6M138 114h7M155 114h1M170 114h4M218 114h1M34 115h1M37 115h1M44 115h1M53 115h1M68 115h5M157 115h1M170 115h5M218 115h1M37 116h1M44 116h1M53 116h1M68 116h4M158 116h1M170 116h6M185 116h1M218 116h1M36 117h1M44 117h1M53 117h1M68 117h4M158 117h1M170 117h6M185 117h1M218 117h1M45 118h1M53 118h1M69 118h3M159 118h1M170 118h6M218 118h1M45 119h1M52 119h1M70 119h3M159 119h1M169 119h7M218 119h1M0 120h9M46 120h1M51 120h1M70 120h3M159 120h1M169 120h1M172 120h4M9 121h2M20 121h1M47 121h4M71 121h3M158 121h3M164 121h1M174 121h2M10 122h2M20 122h1M54 122h1M72 122h2M159 122h4M168 122h1M174 122h2M185 122h1M11 123h2M20 123h1M52 123h2M55 123h2M73 123h2M111 123h8M130 123h5M160 123h3M174 123h2M185 123h1M217 123h1M12 124h2M19 124h2M51 124h1M57 124h1M74 124h1M110 124h12M128 124h8M160 124h3M164 124h1M169 124h1M173 124h3M185 124h1M217 124h1M13 125h2M18 125h3M50 125h1M58 125h1M74 125h2M108 125h6M121 125h9M133 125h4M160 125h3M172 125h4M185 125h1M216 125h1M14 126h6M50 126h1M58 126h1M75 126h1M107 126h6M135 126h5M161 126h5M172 126h4M215 126h2M58 127h1M76 127h1M106 127h6M136 127h11M161 127h4M174 127h2M215 127h2M58 128h1M77 128h2M105 128h6M138 128h14M160 128h4M175 128h1M215 128h2M234 128h7M17 129h1M24 129h5M58 129h1M78 129h3M104 129h6M147 129h7M160 129h4M175 129h2M215 129h1M232 129h5M240 129h2M30 130h1M50 130h1M58 130h1M80 130h2M102 130h6M151 130h5M159 130h5M176 130h1M214 130h2M231 130h4M241 130h2M17 131h1M50 131h1M57 131h1M70 131h1M74 131h1M81 131h3M101 131h6M153 131h10M176 131h1M214 131h2M231 131h4M242 131h2M18 132h1M33 132h1M51 132h1M57 132h1M69 132h1M75 132h1M83 132h2M95 132h11M154 132h9M177 132h1M213 132h2M231 132h4M242 132h2M20 133h1M52 133h5M69 133h1M84 133h4M89 133h17M155 133h8M177 133h1M184 133h1M213 133h1M231 133h5M241 133h3M251 133h1M21 134h1M36 134h1M69 134h1M75 134h2M85 134h20M157 134h5M178 134h1M184 134h1M212 134h2M232 134h5M241 134h3M250 134h4M22 135h1M38 135h1M68 135h1M77 135h1M89 135h1M95 135h10M127 135h3M158 135h4M179 135h1M184 135h1M211 135h2M233 135h12M248 135h3M253 135h2M22 136h1M67 136h1M78 136h1M100 136h4M130 136h1M159 136h2M180 136h1M184 136h1M210 136h2M235 136h15M254 136h3M23 137h1M42 137h1M66 137h1M78 137h1M102 137h1M125 137h1M181 137h3M210 137h1M237 137h11M257 137h13M24 138h2M45 138h1M66 138h1M79 138h1M102 138h2M123 138h3M238 138h4M26 139h2M66 139h1M79 139h1M101 139h4M122 139h2M209 139h1M238 139h3M29 140h3M48 140h1M66 140h1M79 140h1M100 140h7M122 140h1M209 140h1M239 140h2M31 141h2M49 141h1M66 141h1M78 141h1M99 141h9M122 141h1M153 141h4M239 141h2M0 142h12M32 142h1M51 142h1M66 142h2M78 142h1M98 142h11M122 142h1M130 142h1M151 142h6M239 142h2M13 143h2M32 143h1M52 143h1M65 143h4M76 143h2M97 143h4M108 143h2M122 143h2M127 143h2M149 143h8M208 143h1M239 143h2M15 144h1M32 144h1M53 144h1M63 144h9M74 144h3M86 144h3M96 144h3M109 144h2M123 144h5M148 144h1M153 144h4M208 144h1M238 144h3M16 145h2M32 145h1M54 145h1M61 145h15M84 145h14M110 145h2M124 145h2M147 145h1M154 145h3M185 145h1M208 145h1M238 145h3M17 146h2M31 146h1M55 146h20M84 146h1M86 146h1M89 146h8M110 146h2M154 146h3M208 146h2M237 146h4M18 147h2M31 147h1M56 147h4M65 147h10M91 147h4M111 147h2M120 147h1M124 147h1M154 147h2M209 147h1M237 147h3M19 148h1M31 148h1M67 148h9M83 148h1M111 148h2M119 148h1M147 148h1M154 148h1M209 148h1M236 148h4M19 149h1M31 149h1M72 149h4M83 149h1M111 149h2M119 149h1M147 149h1M153 149h1M209 149h2M234 149h6M19 150h2M30 150h1M74 150h3M83 150h1M110 150h3M120 150h1M124 150h1M148 150h1M152 150h1M210 150h1M233 150h7M19 151h2M30 151h1M75 151h3M83 151h1M111 151h2M149 151h3M210 151h1M232 151h7M19 152h2M30 152h1M76 152h2M83 152h1M111 152h3M211 152h1M231 152h6M19 153h1M29 153h1M77 153h2M83 153h1M112 153h3M211 153h1M230 153h6M19 154h1M28 154h2M78 154h2M83 154h1M113 154h2M212 154h1M229 154h6M19 155h1M28 155h1M79 155h2M87 155h1M114 155h2M212 155h1M228 155h6M18 156h1M27 156h1M80 156h1M84 156h1M86 156h3M99 156h2M115 156h1M212 156h2M227 156h7M18 157h1M27 157h1M80 157h2M87 157h2M97 157h5M115 157h2M181 157h1M184 157h1M213 157h1M227 157h7M17 158h1M27 158h1M81 158h2M87 158h1M97 158h1M101 158h2M115 158h2M181 158h1M185 158h1M214 158h1M227 158h8M16 159h2M27 159h1M81 159h3M97 159h1M102 159h2M115 159h2M181 159h1M185 159h1M214 159h3M230 159h5M16 160h1M28 160h1M82 160h5M97 160h1M115 160h2M182 160h3M216 160h4M233 160h3M15 161h2M83 161h4M97 161h1M104 161h1M115 161h1M217 161h5M234 161h3M17 162h1M30 162h1M47 162h3M104 162h1M114 162h2M219 162h4M235 162h2M18 163h1M30 163h2M45 163h1M51 163h1M105 163h1M110 163h6M221 163h2M236 163h2M19 164h1M31 164h1M43 164h1M97 164h1M106 164h1M109 164h1M111 164h5M222 164h2M236 164h2M19 165h1M32 165h1M53 165h1M97 165h1M112 165h4M222 165h2M237 165h2M252 165h7M19 166h1M33 166h1M42 166h1M54 166h1M97 166h1M223 166h2M237 166h2M250 166h20M20 167h1M33 167h2M38 167h3M54 167h1M97 167h1M119 167h1M223 167h2M238 167h2M249 167h4M20 168h1M35 168h3M97 168h1M116 168h2M224 168h2M238 168h3M248 168h4M19 169h1M97 169h1M116 169h4M122 169h1M188 169h1M225 169h2M239 169h3M247 169h4M19 170h1M54 170h1M97 170h1M116 170h5M226 170h2M239 170h3M246 170h4M19 171h1M54 171h1M97 171h2M117 171h5M191 171h1M227 171h2M239 171h11M18 172h1M97 172h2M117 172h5M228 172h2M238 172h12M17 173h1M97 173h2M118 173h4M125 173h1M191 173h1M229 173h2M238 173h6M245 173h5M16 174h2M54 174h1M97 174h2M119 174h5M125 174h1M231 174h2M237 174h6M246 174h5M15 175h3M54 175h2M97 175h2M119 175h7M200 175h1M232 175h3M236 175h6M247 175h4M16 176h3M54 176h2M97 176h2M119 176h8M233 176h8M248 176h4M17 177h4M23 177h1M54 177h1M97 177h2M119 177h4M127 177h2M193 177h3M197 177h1M235 177h5M250 177h3M18 178h2M53 178h2M96 178h3M119 178h1M130 178h1M192 178h4M198 178h1M251 178h3M53 179h1M86 179h2M96 179h3M118 179h1M131 179h1M191 179h6M199 179h2M252 179h2M27 180h1M34 180h1M38 180h1M86 180h3M96 180h3M117 180h1M132 180h1M191 180h4M197 180h1M200 180h2M212 180h2M217 180h2M252 180h3M22 181h1M27 181h1M52 181h1M86 181h4M96 181h3M117 181h1M132 181h1M190 181h4M198 181h1M200 181h4M211 181h1M219 181h1M253 181h3M23 182h4M52 182h1M86 182h4M96 182h2M117 182h1M132 182h1M190 182h5M198 182h1M201 182h6M220 182h1M254 182h2M23 183h1M87 183h3M95 183h3M118 183h1M131 183h1M190 183h10M201 183h10M221 183h1M255 183h2M22 184h2M87 184h3M95 184h2M118 184h1M131 184h1M190 184h9M203 184h8M221 184h1M256 184h3M22 185h2M51 185h2M87 185h3M95 185h2M117 185h2M131 185h2M191 185h8M204 185h6M257 185h3M22 186h2M50 186h1M87 186h4M94 186h3M117 186h1M132 186h2M194 186h6M205 186h4M222 186h1M257 186h3M22 187h1M49 187h1M87 187h5M94 187h3M115 187h3M133 187h2M196 187h4M207 187h1M222 187h1M257 187h1M21 188h1M48 188h1M87 188h10M113 188h3M133 188h2M197 188h3M222 188h1M256 188h1M20 189h2M86 189h11M103 189h11M134 189h1M198 189h2M222 189h1M255 189h2M20 190h1M47 190h1M85 190h12M101 190h3M134 190h1M198 190h3M222 190h5M228 190h1M19 191h2M47 191h1M84 191h12M100 191h3M134 191h1M199 191h2M19 192h2M47 192h1M75 192h14M99 192h3M134 192h1M199 192h2M212 192h3M19 193h2M47 193h1M74 193h13M99 193h3M134 193h1M199 193h3M211 193h7M231 193h2M20 194h1M47 194h1M74 194h12M99 194h4M134 194h1M200 194h3M209 194h9M234 194h1M20 195h1M48 195h1M74 195h12M99 195h4M135 195h1M200 195h18M236 195h1M20 196h1M74 196h13M99 196h7M108 196h3M135 196h1M201 196h17M238 196h1M257 196h1M259 196h2M20 197h1M49 197h1M75 197h13M98 197h14M135 197h1M202 197h16M21 198h1M51 198h1M59 198h1M84 198h5M96 198h4M101 198h11M135 198h1M202 198h17M241 198h1M21 199h1M47 199h1M53 199h5M60 199h1M87 199h4M94 199h2M105 199h8M135 199h1M203 199h16M241 199h1M8 200h3M12 200h1M21 200h1M45 200h1M52 200h1M90 200h4M106 200h7M135 200h1M203 200h3M211 200h9M241 200h1M21 201h1M53 201h1M108 201h5M135 201h1M202 201h3M212 201h9M241 201h1M13 202h1M21 202h1M108 202h6M135 202h1M202 202h2M213 202h9M241 202h1M13 203h1M21 203h1M109 203h5M135 203h1M202 203h2M213 203h10M14 204h1M21 204h2M62 204h1M109 204h6M135 204h1M202 204h2M212 204h3M219 204h4M242 204h1M14 205h1M22 205h3M109 205h6M135 205h1M202 205h3M212 205h2M220 205h5M15 206h1M23 206h5M44 206h1M55 206h1M63 206h1M109 206h7M136 206h1M194 206h4M202 206h4M210 206h3M221 206h6M240 206h2M16 207h1M27 207h2M110 207h6M136 207h1M192 207h2M199 207h13M225 207h6M239 207h3M244 207h1M28 208h2M56 208h1M65 208h1M110 208h6M136 208h1M191 208h1M201 208h10M231 208h5M237 208h5M28 209h2M66 209h1M110 209h6M136 209h1M190 209h1M202 209h8M234 209h2M237 209h5M28 210h2M57 210h1M66 210h1M111 210h5M136 210h1M190 210h1M202 210h8M22 211h1M26 211h3M46 211h1M111 211h5M136 211h1M190 211h1M202 211h15M236 211h1M245 211h1M247 211h1M20 212h1M23 212h4M47 212h1M67 212h1M112 212h3M135 212h2M191 212h1M203 212h13M217 212h1M48 213h1M67 213h1M112 213h3M135 213h1M192 213h1M204 213h7M218 213h1M246 213h1M48 214h1M113 214h2M135 214h1M192 214h1M205 214h5M218 214h1M68 215h1M113 215h1M135 215h1M191 215h2M207 215h2M218 215h2M247 215h1M68 216h1M135 216h1M191 216h1M219 216h1M68 217h1M134 217h2M190 217h2M220 217h1M48 218h1M68 218h1M134 218h2M189 218h2M220 218h2M239 218h1M48 219h1M68 219h1M133 219h3M188 219h3M221 219h1M48 220h1M68 220h1M132 220h4M188 220h2M221 220h2M28 221h2M48 221h1M131 221h5M188 221h2M221 221h2M242 221h1M28 222h2M48 222h1M130 222h6M188 222h2M221 222h2M28 223h1M49 223h1M129 223h7M187 223h5M221 223h2M49 224h1M58 224h1M128 224h9M157 224h6M175 224h4M187 224h9M218 224h1M221 224h1M58 225h1M127 225h12M155 225h9M174 225h9M185 225h12M214 225h8M245 225h3M27 226h1M50 226h1M68 226h1M126 226h15M155 226h9M173 226h1M183 226h16M212 226h7M245 226h3M26 227h2M50 227h1M59 227h1M64 227h1M66 227h1M126 227h17M154 227h4M159 227h6M172 227h1M190 227h10M211 227h4M244 227h1M246 227h3M50 228h1M61 228h3M127 228h17M154 228h12M171 228h1M192 228h9M211 228h3M243 228h2M246 228h3M32 229h1M137 229h8M154 229h14M170 229h2M193 229h9M210 229h3M243 229h2M247 229h2M23 230h1M140 230h5M154 230h7M164 230h7M194 230h10M210 230h2M242 230h3M248 230h2M33 231h1M51 231h1M141 231h5M154 231h7M166 231h4M194 231h11M210 231h2M242 231h3M248 231h2M33 232h1M51 232h1M141 232h5M154 232h7M166 232h4M194 232h11M210 232h2M241 232h3M248 232h2M33 233h1M51 233h1M141 233h6M154 233h7M167 233h2M194 233h11M210 233h2M241 233h3M248 233h2M23 234h1M141 234h7M153 234h8M167 234h2M194 234h11M210 234h2M241 234h3M248 234h2M23 235h1M141 235h7M153 235h8M167 235h2M194 235h11M210 235h2M241 235h3M248 235h2M23 236h1M141 236h7M153 236h8M167 236h2M194 236h11M210 236h2M241 236h3M248 236h2M23 237h1M141 237h7M153 237h8M167 237h2M194 237h11M210 237h2M241 237h3M248 237h2M23 238h1M141 238h7M153 238h8M167 238h2M194 238h11M210 238h2M241 238h3M248 238h2M23 239h1M141 239h7M153 239h8M167 239h2M194 239h11M210 239h2M241 239h3M248 239h2M23 240h1M141 240h7M153 240h8M167 240h2M194 240h11M210 240h2M241 240h3M248 240h2M23 241h1M141 241h7M153 241h8M167 241h2M194 241h11M210 241h2M241 241h3M248 241h2"/>
<path stroke="#00bfff" d="M170 31h3M168 32h5M166 33h7M166 34h7M165 35h8M165 36h8M165 37h8M164 38h9M164 39h8M165 40h7M165 41h6M166 42h4M166 43h4M167 44h3M167 45h3M167 46h3M167 47h4M167 48h4M168 49h3M168 50h3M168 51h4M168 52h4M169 53h3M169 54h4M169 55h4M169 56h4M169 57h4M169 58h4M169 59h4M168 60h6M168 61h6M168 62h6M181 62h3M168 63h8M177 63h8M166 64h19M162 65h16M183 65h2M159 66h15M184 66h2M158 67h4M166 67h8M184 67h2M157 68h3M167 68h6M184 68h2M156 69h3M167 69h6M184 69h1M156 70h2M167 70h6M184 70h1M155 71h2M167 71h6M183 71h2M155 72h2M168 72h5M183 72h2M155 73h3M168 73h5M182 73h2M156 74h3M169 74h5M179 74h4M157 75h4M172 75h9M200 75h4M159 76h3M172 76h7M196 76h1M205 76h1M160 77h2M171 77h5M194 77h1M160 78h3M169 78h4M192 78h1M161 79h3M166 79h5M190 79h1M150 80h2M162 80h6M209 80h1M149 81h4M162 81h4M148 82h6M32 83h1M147 83h3M151 83h3M32 84h1M47 84h3M146 84h3M152 84h2M185 84h1M212 84h1M32 85h1M47 85h2M145 85h3M153 85h1M46 86h2M50 86h1M145 86h3M154 86h4M184 86h1M46 87h1M50 87h1M59 87h1M145 87h3M155 87h7M46 88h1M50 88h1M56 88h2M144 88h4M157 88h5M0 89h11M31 89h1M46 89h1M52 89h1M144 89h3M159 89h4M183 89h1M12 90h2M46 90h2M50 90h1M143 90h3M159 90h4M14 91h1M46 91h1M141 91h3M158 91h5M15 92h2M32 92h1M140 92h3M157 92h5M17 93h1M38 93h7M140 93h2M156 93h6M18 94h1M33 94h5M139 94h2M154 94h8M20 95h1M29 95h4M45 95h1M139 95h1M152 95h9M22 96h9M45 96h2M139 96h1M149 96h12M215 96h1M26 97h3M46 97h2M139 97h1M148 97h1M183 97h1M215 97h1M26 98h2M30 98h1M41 98h1M49 98h3M139 98h2M147 98h1M183 98h1M25 99h1M31 99h1M38 99h2M43 99h2M53 99h2M139 99h2M146 99h1M25 100h1M32 100h1M36 100h2M45 100h2M55 100h1M139 100h2M146 100h1M160 100h2M25 101h1M32 101h1M35 101h2M46 101h1M56 101h1M138 101h2M145 101h2M159 101h5M25 102h1M31 102h1M35 102h1M47 102h1M56 102h1M78 102h1M138 102h2M146 102h1M159 102h6M216 102h1M26 103h2M30 103h1M35 103h1M47 103h1M79 103h1M138 103h1M146 103h1M158 103h8M34 104h1M47 104h1M57 104h1M137 104h2M147 104h1M158 104h10M35 105h1M47 105h1M137 105h1M148 105h2M157 105h5M165 105h4M35 106h1M47 106h1M58 106h1M136 106h2M153 106h7M166 106h4M35 107h2M46 107h1M136 107h2M154 107h2M167 107h4M217 107h1M13 108h1M36 108h2M45 108h2M59 108h1M74 108h1M136 108h1M168 108h4M17 109h1M37 109h3M43 109h2M60 109h1M74 109h1M136 109h1M169 109h4M40 110h2M61 110h10M73 110h1M136 110h1M171 110h3M64 111h1M72 111h3M135 111h2M172 111h3M47 112h4M73 112h2M135 112h2M173 112h2M184 112h1M20 113h1M35 113h1M46 113h1M51 113h1M73 113h2M135 113h3M174 113h2M218 113h1M20 114h1M37 114h1M45 114h1M52 114h1M73 114h2M135 114h3M145 114h3M153 114h2M174 114h2M20 115h1M45 115h1M52 115h1M73 115h2M135 115h10M155 115h2M175 115h2M20 116h1M35 116h2M45 116h1M52 116h1M72 116h3M135 116h9M156 116h2M176 116h1M20 117h1M45 117h1M52 117h1M72 117h2M135 117h8M157 117h1M176 117h1M20 118h1M46 118h1M52 118h1M72 118h2M134 118h9M158 118h1M176 118h1M185 118h1M0 119h8M20 119h1M46 119h1M51 119h1M73 119h2M133 119h10M158 119h1M176 119h2M185 119h1M9 120h2M20 120h1M47 120h4M73 120h2M132 120h10M158 120h1M170 120h2M176 120h2M185 120h1M218 120h1M11 121h1M74 121h1M112 121h3M130 121h12M157 121h1M168 121h1M173 121h1M176 121h2M185 121h1M218 121h2M12 122h1M19 122h1M74 122h1M108 122h12M129 122h14M156 122h3M163 122h1M173 122h1M176 122h2M218 122h2M13 123h1M19 123h1M54 123h1M75 123h1M107 123h4M119 123h4M127 123h3M135 123h9M157 123h3M169 123h1M173 123h1M176 123h2M218 123h2M14 124h2M17 124h2M52 124h2M55 124h2M75 124h1M106 124h4M122 124h6M136 124h10M157 124h3M170 124h3M176 124h2M218 124h2M15 125h3M51 125h1M57 125h1M76 125h1M104 125h4M137 125h10M156 125h4M163 125h1M176 125h1M217 125h3M51 126h1M57 126h1M76 126h1M103 126h4M140 126h11M155 126h6M176 126h1M217 126h3M50 127h1M57 127h1M77 127h1M102 127h4M147 127h14M176 127h1M217 127h2M229 127h11M18 128h1M21 128h1M50 128h1M79 128h1M101 128h4M152 128h8M176 128h1M217 128h2M228 128h6M241 128h2M23 129h1M50 129h1M57 129h1M81 129h2M98 129h6M154 129h6M216 129h2M228 129h4M242 129h2M17 130h1M26 130h4M51 130h1M57 130h1M82 130h2M93 130h9M156 130h3M177 130h1M184 130h1M216 130h2M228 130h3M243 130h2M250 130h1M31 131h1M51 131h1M56 131h1M71 131h3M84 131h2M90 131h11M177 131h1M184 131h1M216 131h2M228 131h3M244 131h1M249 131h3M32 132h1M52 132h5M70 132h1M74 132h1M85 132h10M184 132h1M215 132h2M228 132h3M244 132h2M249 132h4M34 133h1M75 133h1M88 133h1M178 133h1M214 133h3M228 133h3M244 133h7M252 133h2M22 134h1M179 134h1M214 134h2M228 134h4M244 134h6M254 134h2M23 135h1M69 135h1M75 135h2M180 135h1M213 135h2M229 135h4M245 135h3M255 135h3M23 136h1M39 136h1M68 136h1M77 136h1M126 136h1M181 136h3M212 136h2M230 136h5M257 136h13M24 137h1M41 137h1M67 137h1M77 137h1M211 137h2M232 137h5M26 138h1M44 138h1M67 138h1M78 138h1M210 138h1M234 138h4M28 139h4M46 139h1M67 139h1M78 139h1M124 139h2M210 139h1M236 139h2M32 140h2M47 140h1M67 140h1M78 140h1M123 140h3M236 140h3M33 141h2M67 141h1M77 141h1M123 141h3M209 141h1M237 141h2M33 142h1M50 142h1M68 142h1M76 142h2M123 142h4M209 142h1M237 142h2M10 143h3M33 143h1M51 143h1M69 143h2M75 143h1M101 143h7M124 143h3M209 143h1M236 143h3M13 144h2M33 144h1M52 144h1M72 144h2M99 144h1M102 144h7M149 144h1M151 144h2M185 144h1M209 144h1M236 144h2M15 145h1M33 145h1M53 145h1M98 145h1M108 145h2M148 145h1M153 145h1M209 145h1M235 145h3M16 146h1M32 146h1M54 146h1M85 146h1M87 146h2M97 146h3M108 146h2M147 146h1M153 146h1M210 146h1M233 146h4M17 147h1M32 147h1M54 147h2M60 147h5M84 147h1M87 147h4M95 147h4M109 147h2M121 147h3M147 147h1M153 147h1M210 147h1M230 147h7M17 148h2M32 148h1M55 148h5M63 148h4M87 148h11M108 148h3M120 148h1M124 148h1M153 148h1M210 148h1M229 148h7M18 149h1M32 149h1M55 149h3M66 149h6M90 149h7M108 149h3M120 149h1M124 149h1M148 149h1M211 149h1M228 149h6M18 150h1M31 150h1M56 150h1M67 150h7M91 150h4M108 150h2M121 150h3M149 150h3M211 150h1M228 150h5M18 151h1M31 151h1M69 151h6M108 151h3M211 151h2M228 151h4M18 152h1M31 152h1M74 152h2M108 152h3M212 152h1M227 152h4M18 153h1M30 153h1M76 153h1M109 153h3M212 153h2M226 153h4M18 154h1M30 154h1M77 154h1M87 154h2M111 154h2M213 154h1M225 154h4M17 155h2M29 155h1M78 155h1M84 155h1M88 155h2M99 155h3M112 155h2M213 155h2M224 155h4M17 156h1M28 156h2M78 156h2M85 156h1M89 156h2M96 156h3M101 156h2M113 156h2M214 156h2M223 156h4M16 157h2M28 157h1M79 157h1M89 157h2M96 157h1M102 157h1M114 157h1M182 157h2M214 157h3M221 157h6M15 158h2M28 158h1M79 158h2M95 158h2M103 158h1M114 158h1M215 158h12M15 159h1M28 159h1M80 159h1M96 159h1M104 159h1M114 159h1M182 159h1M217 159h13M14 160h2M80 160h2M96 160h1M104 160h1M113 160h2M220 160h13M14 161h1M29 161h2M81 161h2M87 161h1M96 161h1M111 161h4M222 161h5M229 161h5M15 162h2M31 162h1M45 162h2M50 162h1M81 162h7M96 162h1M110 162h4M223 162h3M232 162h3M17 163h1M32 163h1M44 163h1M52 163h1M82 163h5M96 163h1M109 163h1M223 163h2M233 163h3M18 164h1M32 164h1M53 164h1M82 164h5M96 164h1M107 164h2M224 164h2M234 164h2M18 165h1M33 165h1M42 165h1M54 165h1M82 165h5M96 165h1M224 165h2M235 165h2M34 166h1M39 166h3M82 166h6M96 166h1M225 166h1M235 166h2M19 167h1M35 167h3M82 167h6M96 167h1M225 167h2M236 167h2M253 167h17M19 168h1M55 168h1M82 168h6M96 168h1M120 168h1M226 168h1M236 168h2M252 168h4M55 169h1M81 169h6M96 169h1M227 169h2M237 169h2M251 169h3M18 170h1M82 170h5M96 170h1M121 170h1M228 170h2M237 170h2M250 170h4M18 171h1M82 171h6M96 171h1M229 171h2M236 171h3M250 171h4M17 172h1M54 172h1M82 172h6M96 172h1M122 172h2M190 172h1M192 172h1M230 172h3M236 172h2M250 172h3M15 173h2M54 173h2M82 173h7M95 173h2M231 173h7M250 173h4M14 174h2M55 174h2M82 174h8M94 174h3M233 174h4M251 174h3M13 175h2M56 175h1M82 175h9M93 175h4M127 175h1M201 175h1M235 175h1M251 175h3M13 176h3M56 176h2M82 176h15M130 176h1M200 176h1M252 176h3M13 177h4M21 177h2M55 177h3M82 177h15M123 177h4M253 177h2M14 178h4M20 178h1M25 178h1M55 178h2M82 178h14M120 178h1M128 178h2M196 178h1M254 178h2M16 179h5M26 179h1M37 179h1M54 179h1M82 179h4M88 179h8M119 179h1M130 179h1M254 179h2M18 180h4M53 180h1M83 180h3M89 180h7M118 180h1M131 180h1M195 180h2M214 180h3M255 180h2M20 181h2M23 181h1M26 181h1M35 181h1M37 181h1M53 181h1M84 181h2M90 181h6M118 181h1M131 181h1M194 181h4M212 181h1M218 181h1M256 181h2M20 182h3M84 182h2M90 182h6M118 182h1M131 182h1M195 182h3M199 182h1M211 182h1M219 182h1M256 182h3M21 183h2M52 183h1M85 183h2M90 183h5M119 183h1M130 183h1M200 183h1M211 183h1M220 183h1M257 183h4M21 184h1M52 184h1M85 184h2M90 184h5M119 184h1M130 184h1M199 184h4M259 184h11M21 185h1M86 185h1M90 185h5M119 185h1M199 185h5M210 185h1M221 185h1M260 185h10M21 186h1M51 186h1M86 186h1M91 186h3M118 186h2M131 186h1M200 186h5M209 186h2M221 186h1M260 186h10M20 187h2M86 187h1M92 187h2M118 187h1M131 187h2M200 187h7M208 187h3M258 187h12M20 188h1M85 188h2M116 188h2M132 188h1M200 188h11M257 188h2M19 189h1M48 189h1M84 189h2M114 189h3M132 189h2M200 189h12M221 189h1M257 189h1M19 190h1M83 190h2M104 190h11M133 190h1M201 190h12M221 190h1M227 190h1M255 190h1M18 191h1M74 191h10M103 191h3M108 191h6M133 191h1M201 191h14M220 191h4M254 191h1M18 192h1M73 192h2M102 192h3M110 192h2M133 192h1M201 192h11M215 192h7M230 192h1M18 193h1M73 193h1M102 193h3M110 193h2M133 193h1M202 193h9M218 193h3M18 194h2M48 194h1M73 194h1M103 194h10M203 194h6M218 194h3M232 194h2M254 194h1M19 195h1M73 195h1M103 195h10M134 195h1M218 195h3M235 195h1M255 195h1M261 195h1M19 196h1M49 196h1M73 196h1M106 196h2M111 196h2M134 196h1M218 196h3M237 196h1M258 196h1M19 197h1M50 197h1M73 197h2M112 197h1M134 197h1M218 197h4M239 197h1M20 198h1M52 198h2M57 198h2M75 198h9M100 198h1M112 198h2M134 198h1M219 198h3M240 198h1M11 199h2M20 199h1M48 199h3M83 199h4M96 199h2M103 199h2M113 199h1M134 199h1M219 199h4M240 199h1M20 200h1M86 200h4M94 200h2M105 200h1M113 200h1M134 200h1M206 200h5M220 200h3M240 200h1M13 201h1M20 201h1M61 201h1M89 201h5M106 201h2M113 201h2M134 201h1M205 201h7M221 201h3M240 201h1M20 202h1M44 202h1M53 202h1M92 202h2M107 202h1M114 202h2M134 202h1M204 202h3M210 202h3M222 202h2M14 203h1M20 203h1M44 203h1M62 203h1M107 203h2M114 203h3M134 203h1M204 203h2M210 203h3M223 203h2M20 204h1M54 204h1M106 204h3M115 204h2M134 204h1M204 204h1M210 204h2M223 204h3M240 204h1M15 205h1M20 205h2M44 205h1M63 205h1M106 205h3M115 205h3M134 205h1M208 205h4M225 205h3M239 205h2M16 206h1M20 206h3M106 206h3M116 206h2M135 206h1M208 206h2M227 206h4M237 206h3M243 206h1M20 207h7M64 207h2M106 207h4M116 207h2M135 207h1M194 207h5M231 207h5M237 207h2M242 207h1M17 208h1M24 208h4M66 208h1M107 208h3M116 208h2M135 208h1M192 208h1M200 208h1M22 209h1M25 209h3M56 209h1M107 209h3M116 209h2M135 209h1M191 209h1M200 209h2M17 210h1M22 210h6M67 210h1M108 210h3M116 210h2M135 210h1M191 210h1M201 210h1M21 211h1M23 211h3M47 211h1M57 211h1M67 211h1M109 211h2M116 211h2M135 211h1M191 211h2M200 211h2M19 212h1M48 212h1M57 212h1M110 212h2M115 212h3M192 212h2M201 212h2M237 212h1M57 213h1M68 213h1M110 213h2M115 213h3M134 213h1M193 213h2M202 213h2M211 213h5M68 214h1M110 214h3M115 214h3M134 214h1M193 214h1M202 214h3M210 214h3M49 215h1M111 215h2M114 215h4M134 215h1M193 215h1M203 215h4M209 215h3M248 215h1M49 216h1M69 216h1M111 216h7M133 216h2M192 216h2M204 216h7M218 216h1M49 217h1M69 217h1M112 217h6M133 217h1M192 217h2M205 217h6M218 217h2M49 218h1M57 218h1M69 218h1M112 218h5M132 218h2M191 218h3M206 218h4M218 218h2M240 218h1M49 219h1M57 219h1M131 219h2M191 219h3M208 219h1M219 219h2M49 220h1M57 220h1M130 220h2M190 220h5M219 220h2M49 221h1M57 221h1M128 221h3M190 221h6M220 221h1M241 221h1M31 222h1M49 222h1M57 222h1M127 222h3M190 222h8M220 222h1M32 223h1M57 223h1M69 223h1M126 223h3M192 223h7M213 223h5M28 224h1M50 224h1M57 224h1M69 224h1M125 224h3M196 224h4M209 224h9M50 225h1M125 225h2M197 225h5M208 225h6M58 226h1M125 226h1M174 226h9M199 226h13M28 227h1M51 227h1M58 227h1M67 227h1M125 227h1M158 227h1M173 227h2M184 227h6M200 227h11M245 227h1M25 228h2M32 228h1M59 228h2M64 228h2M125 228h2M172 228h2M188 228h4M201 228h10M24 229h1M31 229h1M51 229h1M62 229h1M125 229h12M172 229h1M190 229h3M202 229h8M246 229h1M32 230h1M51 230h1M126 230h14M161 230h3M171 230h1M191 230h3M204 230h6M245 230h1M247 230h1M23 231h1M32 231h1M127 231h14M161 231h5M170 231h2M192 231h2M205 231h5M245 231h1M247 231h1M23 232h1M127 232h14M161 232h5M170 232h1M192 232h2M205 232h5M244 232h2M247 232h1M23 233h1M32 233h1M52 233h1M128 233h13M161 233h6M169 233h2M193 233h1M205 233h5M244 233h2M247 233h1M32 234h1M52 234h1M129 234h12M161 234h6M169 234h2M193 234h1M205 234h5M244 234h2M247 234h1M32 235h1M52 235h1M129 235h12M161 235h6M169 235h2M193 235h1M205 235h5M244 235h2M247 235h1M32 236h1M52 236h1M129 236h12M161 236h6M169 236h2M193 236h1M205 236h5M244 236h2M247 236h1M32 237h1M52 237h1M129 237h12M161 237h6M169 237h2M193 237h1M205 237h5M244 237h2M247 237h1M32 238h1M52 238h1M129 238h12M161 238h6M169 238h2M193 238h1M205 238h5M244 238h2M247 238h1M32 239h1M52 239h1M129 239h12M161 239h6M169 239h2M193 239h1M205 239h5M244 239h2M247 239h1M32 240h1M52 240h1M129 240h12M161 240h6M169 240h2M193 240h1M205 240h5M244 240h2M247 240h1M32 241h1M52 241h1M129 241h12M161 241h6M169 241h2M193 241h1M205 241h5M244 241h2M247 241h1"/>
<path stroke="#00cfff" d="M175 0h5M175 1h5M175 2h5M175 3h5M175 4h5M175 5h5M175 6h5M175 7h5M175 8h5M175 9h5M175 10h5M175 11h5M175 12h5M174 13h6M174 14h6M173 15h7M173 16h7M172 17h8M170 18h11M169 19h12M168 20h13M167 21h15M167 22h15M167 23h15M167 24h15M167 25h15M167 26h15M166 27h16M166 28h15M165 29h16M165 30h16M164 31h6M173 31h7M164 32h4M173 32h6M164 33h2M173 33h5M163 34h3M173 34h4M163 35h2M173 35h3M163 36h2M173 36h2M162 37h3M173 37h2M162 38h2M173 38h2M162 39h2M172 39h2M162 40h3M172 40h2M163 41h2M171 41h2M163 42h3M170 42h3M163 43h3M170 43h2M164 44h3M170 44h2M164 45h3M170 45h2M165 46h2M170 46h2M165 47h2M171 47h1M260 47h10M165 48h2M171 48h1M259 48h11M166 49h2M171 49h2M258 49h12M166 50h2M171 50h2M259 50h11M167 51h1M172 51h1M259 51h11M167 52h1M172 52h1M262 52h8M167 53h2M172 53h2M168 54h1M173 54h1M168 55h1M173 55h2M168 56h1M173 56h2M181 56h4M168 57h1M173 57h2M180 57h6M168 58h1M173 58h3M180 58h6M262 58h8M167 59h2M173 59h3M179 59h7M260 59h10M167 60h1M174 60h2M179 60h7M260 60h10M167 61h1M174 61h12M260 61h10M166 62h2M174 62h7M184 62h3M260 62h10M165 63h3M176 63h1M185 63h2M261 63h9M161 64h5M185 64h2M158 65h4M185 65h2M157 66h2M186 66h1M156 67h2M186 67h1M155 68h2M186 68h1M154 69h2M185 69h2M154 70h2M185 70h2M154 71h1M185 71h1M153 72h2M185 72h1M153 73h2M184 73h2M153 74h3M183 74h2M201 74h4M152 75h3M156 75h1M181 75h3M198 75h2M204 75h2M152 76h3M157 76h2M179 76h3M194 76h2M206 76h1M151 77h4M157 77h3M176 77h4M193 77h1M207 77h1M150 78h5M157 78h3M173 78h4M149 79h6M158 79h3M171 79h3M148 80h2M152 80h3M159 80h3M168 80h3M146 81h3M153 81h2M159 81h3M166 81h3M210 81h1M261 81h9M145 82h3M154 82h1M159 82h8M211 82h1M260 82h10M47 83h3M144 83h3M154 83h1M156 83h1M159 83h7M259 83h11M46 84h1M50 84h1M143 84h3M154 84h1M156 84h9M261 84h9M45 85h2M50 85h1M143 85h2M154 85h1M156 85h9M213 85h1M32 86h1M45 86h1M51 86h1M143 86h2M158 86h7M0 87h10M31 87h2M45 87h1M51 87h1M54 87h1M142 87h3M162 87h3M0 88h12M31 88h1M45 88h1M60 88h1M142 88h2M162 88h3M183 88h1M214 88h1M11 89h3M44 89h2M53 89h1M141 89h3M163 89h2M14 90h1M31 90h1M44 90h2M51 90h1M140 90h3M163 90h2M15 91h2M32 91h1M43 91h3M49 91h2M139 91h2M163 91h2M17 92h1M39 92h7M48 92h2M139 92h1M162 92h2M18 93h2M29 93h3M33 93h5M47 93h1M138 93h2M162 93h2M19 94h2M27 94h5M46 94h1M138 94h1M162 94h2M215 94h1M21 95h8M46 95h1M84 95h1M138 95h1M161 95h4M215 95h1M47 96h1M80 96h1M137 96h2M161 96h4M48 97h3M78 97h1M137 97h2M149 97h16M28 98h2M52 98h2M78 98h1M137 98h2M155 98h10M26 99h1M30 99h1M40 99h3M55 99h1M137 99h2M156 99h10M183 99h1M31 100h1M38 100h2M43 100h2M56 100h1M137 100h2M156 100h4M162 100h4M183 100h1M31 101h1M37 101h1M45 101h1M137 101h1M156 101h3M164 101h3M216 101h1M26 102h1M30 102h1M36 102h1M46 102h1M57 102h1M79 102h2M137 102h1M156 102h3M165 102h3M28 103h2M36 103h1M46 103h1M57 103h1M78 103h1M80 103h1M136 103h2M147 103h1M156 103h2M166 103h3M35 104h1M46 104h1M79 104h2M136 104h1M155 104h3M168 104h2M36 105h1M46 105h1M58 105h1M79 105h1M136 105h1M152 105h5M169 105h3M36 106h1M46 106h1M59 106h1M135 106h1M170 106h3M217 106h1M37 107h1M45 107h1M59 107h1M135 107h1M171 107h3M12 108h1M38 108h1M43 108h2M60 108h1M68 108h6M76 108h1M135 108h1M172 108h3M16 109h1M40 109h3M61 109h12M75 109h1M134 109h2M173 109h3M18 110h1M74 110h2M134 110h2M174 110h2M19 111h1M75 111h1M134 111h1M175 111h2M75 112h1M134 112h1M175 112h2M218 112h1M36 113h1M47 113h4M75 113h1M133 113h2M176 113h1M184 113h1M35 114h1M46 114h1M51 114h1M75 114h1M133 114h2M148 114h5M176 114h2M35 115h2M46 115h1M51 115h1M75 115h1M133 115h2M145 115h2M154 115h1M177 115h1M46 116h1M75 116h1M132 116h3M144 116h1M155 116h1M177 116h1M46 117h1M51 117h1M74 117h2M132 117h3M143 117h1M156 117h1M177 117h1M47 118h1M51 118h1M74 118h2M131 118h3M143 118h1M157 118h1M177 118h1M219 118h1M8 119h3M19 119h1M47 119h4M75 119h1M131 119h2M143 119h1M157 119h1M219 119h1M11 120h1M19 120h1M75 120h1M108 120h8M130 120h2M142 120h2M157 120h1M178 120h1M219 120h2M12 121h1M19 121h1M75 121h1M106 121h6M115 121h5M129 121h1M142 121h2M156 121h1M169 121h1M172 121h1M178 121h1M220 121h1M13 122h1M18 122h1M75 122h2M105 122h3M120 122h2M127 122h2M143 122h2M155 122h1M178 122h1M220 122h2M14 123h5M76 123h1M103 123h4M123 123h4M144 123h3M153 123h4M163 123h1M172 123h1M178 123h1M220 123h3M16 124h1M54 124h1M76 124h1M102 124h4M146 124h11M163 124h1M178 124h1M220 124h7M52 125h2M55 125h2M101 125h3M147 125h9M164 125h1M177 125h1M220 125h13M52 126h1M56 126h1M77 126h1M100 126h3M151 126h4M177 126h1M220 126h18M51 127h1M78 127h1M97 127h5M177 127h1M184 127h1M219 127h10M240 127h3M51 128h1M57 128h1M80 128h1M94 128h7M177 128h1M184 128h1M219 128h3M223 128h5M243 128h2M250 128h1M51 129h1M83 129h2M91 129h7M177 129h1M184 129h1M218 129h3M224 129h4M244 129h2M249 129h3M25 130h1M52 130h1M56 130h1M84 130h9M218 130h2M224 130h4M245 130h5M251 130h2M27 131h4M52 131h4M86 131h4M178 131h1M218 131h2M224 131h4M245 131h4M252 131h2M19 132h1M31 132h1M71 132h1M178 132h1M217 132h3M225 132h3M246 132h3M253 132h2M21 133h1M70 133h1M74 133h1M179 133h1M217 133h2M225 133h3M254 133h2M23 134h1M70 134h1M74 134h1M180 134h1M216 134h3M225 134h3M256 134h3M24 135h1M37 135h1M70 135h5M181 135h3M215 135h3M225 135h4M258 135h12M24 136h1M69 136h1M75 136h2M214 136h2M226 136h4M25 137h1M68 137h1M76 137h1M130 137h1M213 137h2M227 137h5M27 138h2M43 138h1M68 138h1M77 138h1M211 138h2M229 138h5M32 139h1M45 139h1M77 139h1M211 139h1M231 139h5M46 140h1M68 140h1M77 140h1M210 140h1M233 140h3M35 141h1M48 141h1M68 141h1M76 141h1M130 141h1M210 141h1M234 141h3M34 142h2M49 142h1M69 142h1M75 142h1M129 142h1M210 142h1M234 142h3M0 143h10M34 143h1M50 143h1M71 143h4M210 143h1M232 143h4M12 144h1M34 144h1M51 144h1M100 144h2M150 144h1M210 144h1M227 144h9M13 145h2M34 145h1M52 145h1M99 145h1M104 145h4M149 145h1M152 145h1M210 145h2M226 145h9M15 146h1M33 146h1M53 146h1M105 146h3M148 146h1M211 146h1M225 146h8M16 147h1M33 147h1M85 147h2M99 147h2M106 147h3M148 147h1M211 147h1M225 147h5M16 148h1M33 148h1M54 148h1M60 148h3M84 148h1M98 148h10M121 148h1M123 148h1M148 148h1M152 148h1M211 148h2M225 148h4M17 149h1M54 149h1M58 149h2M63 149h3M87 149h3M97 149h11M121 149h1M123 149h1M149 149h1M151 149h2M212 149h1M225 149h3M17 150h1M32 150h1M54 150h2M57 150h2M65 150h2M87 150h4M95 150h13M212 150h2M224 150h4M17 151h1M32 151h1M54 151h4M66 151h3M87 151h8M99 151h1M102 151h6M213 151h1M224 151h4M17 152h1M32 152h1M54 152h3M67 152h7M87 152h8M100 152h8M213 152h2M224 152h3M17 153h1M31 153h1M55 153h1M69 153h7M87 153h8M100 153h9M214 153h1M223 153h3M16 154h2M31 154h1M55 154h1M75 154h2M84 154h1M89 154h6M99 154h6M108 154h3M214 154h2M221 154h4M16 155h1M30 155h1M76 155h2M85 155h2M90 155h9M102 155h2M110 155h2M215 155h9M15 156h2M77 156h1M91 156h5M103 156h1M111 156h2M216 156h7M14 157h2M29 157h1M78 157h1M91 157h5M103 157h2M112 157h2M217 157h4M14 158h1M78 158h1M90 158h5M104 158h1M112 158h2M182 158h1M184 158h1M13 159h2M79 159h1M87 159h1M91 159h1M94 159h2M111 159h3M183 159h2M13 160h1M31 160h1M79 160h1M94 160h2M110 160h3M13 161h1M31 161h1M47 161h3M80 161h1M95 161h1M110 161h1M227 161h2M14 162h1M32 162h1M44 162h1M51 162h1M80 162h1M88 162h1M105 162h1M109 162h1M226 162h6M15 163h2M33 163h1M43 163h1M53 163h1M80 163h2M87 163h2M106 163h3M225 163h8M16 164h2M33 164h1M42 164h1M54 164h1M80 164h2M87 164h2M226 164h8M17 165h1M34 165h2M41 165h1M80 165h2M87 165h2M95 165h1M226 165h9M18 166h1M35 166h4M55 166h1M80 166h2M88 166h2M95 166h1M226 166h9M18 167h1M55 167h1M80 167h2M88 167h1M95 167h1M116 167h1M118 167h1M227 167h2M230 167h6M18 168h1M80 168h2M95 168h1M227 168h2M232 168h4M256 168h14M18 169h1M80 169h1M87 169h1M95 169h1M229 169h2M233 169h4M254 169h5M17 170h1M55 170h1M79 170h3M87 170h1M95 170h1M122 170h1M230 170h7M254 170h3M16 171h2M55 171h1M80 171h2M95 171h1M189 171h1M231 171h5M254 171h3M15 172h2M55 172h1M80 172h2M88 172h1M94 172h2M233 172h3M253 172h4M14 173h1M56 173h2M80 173h2M89 173h6M193 173h1M254 173h3M11 174h3M57 174h2M80 174h2M90 174h4M254 174h3M8 175h5M57 175h3M80 175h2M91 175h2M128 175h1M254 175h3M0 176h13M58 176h2M80 176h2M129 176h1M196 176h1M201 176h1M255 176h2M0 177h13M58 177h3M80 177h2M255 177h3M10 178h4M21 178h1M24 178h1M57 178h4M80 178h2M121 178h3M126 178h2M256 178h2M12 179h4M21 179h1M25 179h1M35 179h1M55 179h6M80 179h2M120 179h1M129 179h1M197 179h1M256 179h2M14 180h4M22 180h1M26 180h1M37 180h1M54 180h6M81 180h2M119 180h1M130 180h1M199 180h1M257 180h2M15 181h5M24 181h2M36 181h1M54 181h1M82 181h2M119 181h1M130 181h1M213 181h5M258 181h3M17 182h3M53 182h1M83 182h1M119 182h1M129 182h2M212 182h1M218 182h1M259 182h11M18 183h3M53 183h1M84 183h1M120 183h1M128 183h2M212 183h1M219 183h1M261 183h9M19 184h2M84 184h1M120 184h1M129 184h1M211 184h1M220 184h1M19 185h2M53 185h1M85 185h1M120 185h1M130 185h1M211 185h1M19 186h2M52 186h1M85 186h1M120 186h1M211 186h1M19 187h1M50 187h1M84 187h2M119 187h1M211 187h1M221 187h1M18 188h2M49 188h1M84 188h1M118 188h1M131 188h1M211 188h2M221 188h1M259 188h11M18 189h1M49 189h1M83 189h1M117 189h1M131 189h1M212 189h1M258 189h1M17 190h2M48 190h1M73 190h10M115 190h2M132 190h1M213 190h1M220 190h1M17 191h1M48 191h1M72 191h2M106 191h2M114 191h2M132 191h1M215 191h1M218 191h2M224 191h2M229 191h1M17 192h1M48 192h1M72 192h1M105 192h5M112 192h3M132 192h1M222 192h3M254 192h1M17 193h1M48 193h1M72 193h1M105 193h5M112 193h2M132 193h1M221 193h3M230 193h1M254 193h1M17 194h1M72 194h1M113 194h1M133 194h1M221 194h3M231 194h1M262 194h8M18 195h1M49 195h1M72 195h1M113 195h1M133 195h1M221 195h3M233 195h2M18 196h1M50 196h1M72 196h1M113 196h1M133 196h1M221 196h3M236 196h1M18 197h1M51 197h1M58 197h2M72 197h1M113 197h1M133 197h1M222 197h2M238 197h1M19 198h1M54 198h3M60 198h1M73 198h2M114 198h1M133 198h1M222 198h3M239 198h1M0 199h11M19 199h1M74 199h9M98 199h5M114 199h1M133 199h1M223 199h2M239 199h1M13 200h1M19 200h1M46 200h1M51 200h1M61 200h1M83 200h3M96 200h1M104 200h1M114 200h2M133 200h1M223 200h3M19 201h1M45 201h1M52 201h1M86 201h3M94 201h2M105 201h1M115 201h1M133 201h1M224 201h2M19 202h1M62 202h1M88 202h4M94 202h1M106 202h1M116 202h1M133 202h1M207 202h3M224 202h2M239 202h1M18 203h2M53 203h1M91 203h4M106 203h1M117 203h2M133 203h1M206 203h4M225 203h2M239 203h1M241 203h1M15 204h1M19 204h1M44 204h1M53 204h1M63 204h1M105 204h1M117 204h2M133 204h1M208 204h2M226 204h3M238 204h2M19 205h1M54 205h1M104 205h2M118 205h1M133 205h1M228 205h3M236 205h3M242 205h1M54 206h1M64 206h2M103 206h3M118 206h1M134 206h1M231 206h6M55 207h1M66 207h1M102 207h4M118 207h1M134 207h1M21 208h3M55 208h1M67 208h1M102 208h5M118 208h1M134 208h1M193 208h2M198 208h2M243 208h1M17 209h1M23 209h2M45 209h1M67 209h1M102 209h5M118 209h1M134 209h1M192 209h1M199 209h1M46 210h1M56 210h1M105 210h3M118 210h1M134 210h1M192 210h1M200 210h1M236 210h1M56 211h1M68 211h1M107 211h2M118 211h1M134 211h1M193 211h1M199 211h1M68 212h1M108 212h2M118 212h1M134 212h1M194 212h7M216 212h1M247 212h1M69 213h1M109 213h1M118 213h1M133 213h1M195 213h1M201 213h1M49 214h1M57 214h1M69 214h1M109 214h1M118 214h1M133 214h1M194 214h1M201 214h1M213 214h3M248 214h1M57 215h1M69 215h1M109 215h2M118 215h1M133 215h1M194 215h2M201 215h2M212 215h4M57 216h1M70 216h1M110 216h1M118 216h2M132 216h1M194 216h10M211 216h5M217 216h1M238 216h1M50 217h1M57 217h1M70 217h1M110 217h2M118 217h2M131 217h2M194 217h11M211 217h3M215 217h1M50 218h1M110 218h2M117 218h3M130 218h2M194 218h12M210 218h3M50 219h1M69 219h1M111 219h9M129 219h2M194 219h6M203 219h5M209 219h4M216 219h1M69 220h1M112 220h8M128 220h2M195 220h5M204 220h10M216 220h1M50 221h1M69 221h1M126 221h2M196 221h5M203 221h15M30 222h1M50 222h1M69 222h1M124 222h3M198 222h20M50 223h1M123 223h3M199 223h14M218 223h1M32 224h1M51 224h1M123 224h2M200 224h9M220 224h1M243 224h1M28 225h1M51 225h1M57 225h1M69 225h1M123 225h2M202 225h6M28 226h1M51 226h1M57 226h1M123 226h2M32 227h1M52 227h1M57 227h1M124 227h1M175 227h2M179 227h5M27 228h2M51 228h1M58 228h1M66 228h1M124 228h1M174 228h1M185 228h3M25 229h1M59 229h3M63 229h3M124 229h1M173 229h1M188 229h2M245 229h1M24 230h1M31 230h1M124 230h2M172 230h1M189 230h2M246 230h1M24 231h1M52 231h1M125 231h2M172 231h1M190 231h2M32 232h1M52 232h1M125 232h2M171 232h1M191 232h1M125 233h3M171 233h1M191 233h2M24 234h1M125 234h4M171 234h1M191 234h2M24 235h1M125 235h4M171 235h1M191 235h2M24 236h1M125 236h4M171 236h1M191 236h2M24 237h1M125 237h4M171 237h1M191 237h2M24 238h1M125 238h4M171 238h1M191 238h2M24 239h1M125 239h4M171 239h1M191 239h2M24 240h1M125 240h4M171 240h1M191 240h2M24 241h1M125 241h4M171 241h1M191 241h2"/>
<path stroke="#00dfff" d="M173 0h2M180 0h2M173 1h2M180 1h2M173 2h2M180 2h2M173 3h2M180 3h2M173 4h2M180 4h2M173 5h2M180 5h2M173 6h2M180 6h2M173 7h2M180 7h2M173 8h2M180 8h2M173 9h2M180 9h2M173 10h2M180 10h2M173 11h2M180 11h2M172 12h3M180 12h2M172 13h2M180 13h2M170 14h4M180 14h2M167 15h6M180 15h2M164 16h9M180 16h2M164 17h8M180 17h2M164 18h6M181 18h1M164 19h5M181 19h1M164 20h4M181 20h1M164 21h3M182 21h1M164 22h3M182 22h1M164 23h3M182 23h1M164 24h3M182 24h1M164 25h3M182 25h1M164 26h3M182 26h1M163 27h3M182 27h1M163 28h3M181 28h2M163 29h2M181 29h1M163 30h2M181 30h1M163 31h1M180 31h2M163 32h1M179 32h2M163 33h1M178 33h2M162 34h1M177 34h2M162 35h1M176 35h2M161 36h2M175 36h2M161 37h1M175 37h2M160 38h2M175 38h1M160 39h2M174 39h2M160 40h2M174 40h1M161 41h2M173 41h2M161 42h2M173 42h1M162 43h1M172 43h2M162 44h2M172 44h2M260 44h10M163 45h1M172 45h1M258 45h12M163 46h2M172 46h1M257 46h13M164 47h1M172 47h1M256 47h4M164 48h1M172 48h1M255 48h4M164 49h2M173 49h1M255 49h3M165 50h1M173 50h1M255 50h4M165 51h2M173 51h1M256 51h3M166 52h1M173 52h2M257 52h5M166 53h1M174 53h1M258 53h12M167 54h1M174 54h2M182 54h3M258 54h12M167 55h1M175 55h13M259 55h11M167 56h1M175 56h6M185 56h3M259 56h11M167 57h1M175 57h5M186 57h2M258 57h12M166 58h2M176 58h4M186 58h2M258 58h4M166 59h1M176 59h3M186 59h2M257 59h3M166 60h1M176 60h3M186 60h2M257 60h3M165 61h2M186 61h2M257 61h3M164 62h2M187 62h1M258 62h2M160 63h5M187 63h1M258 63h3M157 64h4M187 64h1M259 64h11M156 65h2M187 65h1M260 65h10M155 66h2M187 66h1M260 66h10M154 67h2M187 67h1M261 67h9M153 68h2M187 68h1M262 68h8M153 69h1M187 69h1M153 70h1M187 70h1M152 71h2M186 71h2M152 72h1M186 72h1M151 73h2M186 73h1M201 73h6M151 74h2M185 74h1M199 74h2M205 74h3M151 75h1M155 75h1M184 75h2M197 75h1M206 75h2M150 76h2M182 76h1M192 76h2M207 76h2M262 76h8M149 77h2M180 77h2M191 77h2M208 77h1M261 77h9M61 78h1M148 78h2M177 78h2M191 78h1M208 78h1M260 78h10M147 79h2M156 79h2M174 79h2M209 79h1M258 79h12M146 80h2M156 80h3M171 80h3M188 80h1M257 80h13M144 81h2M156 81h3M169 81h2M187 81h1M256 81h5M32 82h1M47 82h4M143 82h2M156 82h3M167 82h2M186 82h1M256 82h4M45 83h2M50 83h1M142 83h2M157 83h2M166 83h2M212 83h1M256 83h3M45 84h1M142 84h1M165 84h2M256 84h5M0 85h9M31 85h1M44 85h1M51 85h1M141 85h2M165 85h2M184 85h1M258 85h12M0 86h11M31 86h1M44 86h1M52 86h1M141 86h2M165 86h1M260 86h10M10 87h2M44 87h1M52 87h2M60 87h1M140 87h2M165 87h1M214 87h1M12 88h2M32 88h1M44 88h1M61 88h1M140 88h2M165 88h1M14 89h1M43 89h1M61 89h1M139 89h2M165 89h1M15 90h2M32 90h1M42 90h2M52 90h2M138 90h2M165 90h1M17 91h2M29 91h3M40 91h3M51 91h2M138 91h1M165 91h1M18 92h2M27 92h5M33 92h6M50 92h1M137 92h2M164 92h2M215 92h1M20 93h1M26 93h3M48 93h2M137 93h1M164 93h2M215 93h1M21 94h6M47 94h2M137 94h1M164 94h2M47 95h2M83 95h1M85 95h1M95 95h1M136 95h2M165 95h1M48 96h2M74 96h6M81 96h1M136 96h1M165 96h1M51 97h2M75 97h3M79 97h1M136 97h1M165 97h2M54 98h1M76 98h2M79 98h2M136 98h1M150 98h5M165 98h2M27 99h3M56 99h1M77 99h1M79 99h3M136 99h1M147 99h1M153 99h3M166 99h2M26 100h1M30 100h1M40 100h3M77 100h1M79 100h4M136 100h1M154 100h2M166 100h3M26 101h1M30 101h1M38 101h1M43 101h2M57 101h1M77 101h1M79 101h4M136 101h1M154 101h2M167 101h3M183 101h1M27 102h3M37 102h1M45 102h1M77 102h1M81 102h2M136 102h1M147 102h1M154 102h2M168 102h3M183 102h1M37 103h1M45 103h1M58 103h1M76 103h2M81 103h2M135 103h1M150 103h1M153 103h3M169 103h3M36 104h1M45 104h1M58 104h1M76 104h2M81 104h2M135 104h1M148 104h7M170 104h3M183 104h1M37 105h1M45 105h1M59 105h1M75 105h3M80 105h2M134 105h2M172 105h2M183 105h1M217 105h1M37 106h1M45 106h1M73 106h4M78 106h4M134 106h1M173 106h2M183 106h1M38 107h1M43 107h2M60 107h2M66 107h10M78 107h3M134 107h1M174 107h2M183 107h1M39 108h4M61 108h7M77 108h3M134 108h1M175 108h2M183 108h1M76 109h2M133 109h1M176 109h1M76 110h2M133 110h1M176 110h1M76 111h2M133 111h1M177 111h1M218 111h1M76 112h2M132 112h2M177 112h1M76 113h1M132 113h1M177 113h1M36 114h1M47 114h4M76 114h1M132 114h1M184 114h1M47 115h1M76 115h1M131 115h2M147 115h3M151 115h3M178 115h1M47 116h1M51 116h1M76 116h1M131 116h1M145 116h1M154 116h1M178 116h1M19 117h1M47 117h1M50 117h1M76 117h1M130 117h2M144 117h1M155 117h1M178 117h1M0 118h9M19 118h1M48 118h3M76 118h1M130 118h1M144 118h1M156 118h1M178 118h1M220 118h1M11 119h1M76 119h1M106 119h10M129 119h2M156 119h1M178 119h1M220 119h1M12 120h1M18 120h1M76 120h1M104 120h4M116 120h4M128 120h2M144 120h1M156 120h1M221 120h1M13 121h2M18 121h1M76 121h1M102 121h4M120 121h1M127 121h2M144 121h1M155 121h1M170 121h2M221 121h2M14 122h4M101 122h4M124 122h3M145 122h2M154 122h1M169 122h1M172 122h1M179 122h1M222 122h2M100 123h3M147 123h6M170 123h1M184 123h1M223 123h4M99 124h3M184 124h1M227 124h6M54 125h1M97 125h4M178 125h1M184 125h1M233 125h4M53 126h1M55 126h1M95 126h5M178 126h1M184 126h1M238 126h4M250 126h2M52 127h1M56 127h1M92 127h5M178 127h1M243 127h2M249 127h3M20 128h1M52 128h1M56 128h1M81 128h4M90 128h4M178 128h1M222 128h1M245 128h5M251 128h2M52 129h1M56 129h1M85 129h6M178 129h1M221 129h3M246 129h3M252 129h1M53 130h3M178 130h1M220 130h4M253 130h1M220 131h4M254 131h1M72 132h2M179 132h1M220 132h5M255 132h2M180 133h1M219 133h6M256 133h4M262 133h8M35 134h1M71 134h1M73 134h1M181 134h1M183 134h1M219 134h6M259 134h11M218 135h7M25 136h1M70 136h5M127 136h1M129 136h1M216 136h10M26 137h2M40 137h1M69 137h1M75 137h1M126 137h1M215 137h12M29 138h4M42 138h1M69 138h1M76 138h1M130 138h1M213 138h3M220 138h9M33 139h1M44 139h1M68 139h1M76 139h1M212 139h2M222 139h9M34 140h1M69 140h1M76 140h1M130 140h1M211 140h2M222 140h11M36 141h1M47 141h1M69 141h1M75 141h1M126 141h1M211 141h2M222 141h12M48 142h1M70 142h5M127 142h2M211 142h2M222 142h12M35 143h1M211 143h2M222 143h10M8 144h4M35 144h1M211 144h2M222 144h5M12 145h1M103 145h1M150 145h2M212 145h1M222 145h4M13 146h2M34 146h1M52 146h1M100 146h1M149 146h1M152 146h1M212 146h1M221 146h4M14 147h2M34 147h1M53 147h1M101 147h1M105 147h1M152 147h1M212 147h2M221 147h4M15 148h1M53 148h1M85 148h2M122 148h1M149 148h1M213 148h1M221 148h4M15 149h2M33 149h1M53 149h1M60 149h3M84 149h1M122 149h1M150 149h1M213 149h2M221 149h4M16 150h1M33 150h1M53 150h1M59 150h2M63 150h2M84 150h1M214 150h1M220 150h4M16 151h1M53 151h1M58 151h1M65 151h1M84 151h1M95 151h4M100 151h2M214 151h3M219 151h5M16 152h1M53 152h1M57 152h1M66 152h1M84 152h1M95 152h1M99 152h1M215 152h9M15 153h2M32 153h1M53 153h2M56 153h2M66 153h3M84 153h1M99 153h1M215 153h8M15 154h1M32 154h1M53 154h2M56 154h1M67 154h8M85 154h2M95 154h2M98 154h1M105 154h3M216 154h5M14 155h2M31 155h2M53 155h4M69 155h1M75 155h1M104 155h3M109 155h1M13 156h2M30 156h1M53 156h4M76 156h1M104 156h2M110 156h1M12 157h2M53 157h3M77 157h1M105 157h1M110 157h2M11 158h3M52 158h4M88 158h1M110 158h2M183 158h1M11 159h2M32 159h1M51 159h4M78 159h1M92 159h2M110 159h1M11 160h2M32 160h1M49 160h5M78 160h1M87 160h1M91 160h3M105 160h1M11 161h2M32 161h2M45 161h2M50 161h4M79 161h1M94 161h1M105 161h1M12 162h2M33 162h1M43 162h1M52 162h1M79 162h1M89 162h1M95 162h1M106 162h1M14 163h1M34 163h1M42 163h1M79 163h1M89 163h1M95 163h1M15 164h1M34 164h2M41 164h1M79 164h1M89 164h2M95 164h1M16 165h1M36 165h5M55 165h1M79 165h1M89 165h2M94 165h1M17 166h1M79 166h1M90 166h1M94 166h1M116 166h1M17 167h1M79 167h1M94 167h1M229 167h1M17 168h1M56 168h1M78 168h2M88 168h1M94 168h1M118 168h1M229 168h3M17 169h1M56 169h1M78 169h2M94 169h1M121 169h1M231 169h2M259 169h11M16 170h1M78 170h1M94 170h1M188 170h2M257 170h13M15 171h1M56 171h1M78 171h2M88 171h1M94 171h1M257 171h13M14 172h1M56 172h3M78 172h2M89 172h1M93 172h1M257 172h13M11 173h3M58 173h2M78 173h2M124 173h1M257 173h13M0 174h11M59 174h2M78 174h2M126 174h1M194 174h1M257 174h13M0 175h8M60 175h1M79 175h1M194 175h2M257 175h13M60 176h2M79 176h1M257 176h13M61 177h1M79 177h1M258 177h12M0 178h10M22 178h2M61 178h1M79 178h1M124 178h2M258 178h12M0 179h12M36 179h1M61 179h1M79 179h1M121 179h2M127 179h2M198 179h1M258 179h12M9 180h5M25 180h1M35 180h1M60 180h2M79 180h2M120 180h1M128 180h2M259 180h11M12 181h3M55 181h5M80 181h2M120 181h1M129 181h1M261 181h9M14 182h3M54 182h1M81 182h2M120 182h1M128 182h1M213 182h2M217 182h1M16 183h2M82 183h2M121 183h2M127 183h1M218 183h1M17 184h2M53 184h1M83 184h1M121 184h1M128 184h1M212 184h1M219 184h1M18 185h1M84 185h1M121 185h1M212 185h1M220 185h1M18 186h1M53 186h1M84 186h1M121 186h1M212 186h1M220 186h1M18 187h1M51 187h1M83 187h1M120 187h1M212 187h1M220 187h1M17 188h1M50 188h1M75 188h1M83 188h1M119 188h2M130 188h1M220 188h1M17 189h1M73 189h10M118 189h2M130 189h1M213 189h1M220 189h1M259 189h11M16 190h1M49 190h1M72 190h1M117 190h2M130 190h2M214 190h1M219 190h1M256 190h1M16 191h1M49 191h1M71 191h1M116 191h1M131 191h1M216 191h2M226 191h1M255 191h1M16 192h1M71 192h1M115 192h1M131 192h1M225 192h1M16 193h1M49 193h1M71 193h1M114 193h2M131 193h1M224 193h2M262 193h8M16 194h1M49 194h1M70 194h2M114 194h1M132 194h1M224 194h2M230 194h1M255 194h1M16 195h2M50 195h1M71 195h1M114 195h1M132 195h1M224 195h2M230 195h3M256 195h1M260 195h1M16 196h2M51 196h1M59 196h1M71 196h1M114 196h1M132 196h1M224 196h3M235 196h1M17 197h1M52 197h2M57 197h1M60 197h1M71 197h1M114 197h1M132 197h1M224 197h3M237 197h1M12 198h1M17 198h2M72 198h1M115 198h1M132 198h1M225 198h2M17 199h2M61 199h1M72 199h2M115 199h1M132 199h1M225 199h2M16 200h3M47 200h1M50 200h1M74 200h9M97 200h3M101 200h3M116 200h1M132 200h1M226 200h2M238 200h1M16 201h3M62 201h1M83 201h3M96 201h1M104 201h1M116 201h2M132 201h1M226 201h2M238 201h1M17 202h2M45 202h1M85 202h3M95 202h1M104 202h2M117 202h2M132 202h1M226 202h2M238 202h1M63 203h1M87 203h4M95 203h1M105 203h1M119 203h1M132 203h1M227 203h2M237 203h2M18 204h1M90 204h6M104 204h1M119 204h2M132 204h1M205 204h1M229 204h3M236 204h2M53 205h1M64 205h1M102 205h2M119 205h1M132 205h1M205 205h1M231 205h5M241 205h1M19 206h1M45 206h1M53 206h1M66 206h1M100 206h3M119 206h1M133 206h1M17 207h1M45 207h1M53 207h2M67 207h1M99 207h3M119 207h1M133 207h1M236 207h1M54 208h1M99 208h3M119 208h1M133 208h1M195 208h3M54 209h2M68 209h1M100 209h2M119 209h1M133 209h1M193 209h2M198 209h1M244 209h2M55 210h1M68 210h1M101 210h4M119 210h1M133 210h1M193 210h1M198 210h2M245 210h2M55 211h1M103 211h4M119 211h1M133 211h1M194 211h1M197 211h2M56 212h1M69 212h1M106 212h2M119 212h1M133 212h1M246 212h1M56 213h1M107 213h2M119 213h1M132 213h1M196 213h1M200 213h1M217 213h1M237 213h1M56 214h1M70 214h1M108 214h1M119 214h1M132 214h1M195 214h1M200 214h1M217 214h1M247 214h1M70 215h1M108 215h1M119 215h2M131 215h2M196 215h1M199 215h2M217 215h1M238 215h1M108 216h2M120 216h1M131 216h1M109 217h1M120 217h1M130 217h1M214 217h1M56 218h1M70 218h1M109 218h1M120 218h2M129 218h1M213 218h3M56 219h1M70 219h1M109 219h2M120 219h3M127 219h2M200 219h3M213 219h3M50 220h1M56 220h1M70 220h1M110 220h2M120 220h8M200 220h4M214 220h2M241 220h1M51 221h1M56 221h1M111 221h15M201 221h2M51 222h1M56 222h1M115 222h9M29 223h1M51 223h1M56 223h1M121 223h2M243 223h1M52 224h1M56 224h1M122 224h1M32 225h1M52 225h2M56 225h1M122 225h1M32 226h1M52 226h2M56 226h1M69 226h1M122 226h1M244 226h1M53 227h1M56 227h1M68 227h1M123 227h1M177 227h2M29 228h1M31 228h1M52 228h2M57 228h1M67 228h1M123 228h1M175 228h1M181 228h4M26 229h1M29 229h2M52 229h2M58 229h1M66 229h2M123 229h1M174 229h1M186 229h2M25 230h1M52 230h1M59 230h8M123 230h1M173 230h1M187 230h2M31 231h1M64 231h2M124 231h1M189 231h1M246 231h1M24 232h1M31 232h1M124 232h1M172 232h1M189 232h2M24 233h1M31 233h1M53 233h1M124 233h1M172 233h1M190 233h1M25 234h1M31 234h1M53 234h1M124 234h1M172 234h1M190 234h1M25 235h1M31 235h1M53 235h1M124 235h1M172 235h1M190 235h1M25 236h1M31 236h1M53 236h1M124 236h1M172 236h1M190 236h1M25 237h1M31 237h1M53 237h1M124 237h1M172 237h1M190 237h1M25 238h1M31 238h1M53 238h1M124 238h1M172 238h1M190 238h1M25 239h1M31 239h1M53 239h1M124 239h1M172 239h1M190 239h1M25 240h1M31 240h1M53 240h1M124 240h1M172 240h1M190 240h1M25 241h1M31 241h1M53 241h1M124 241h1M172 241h1M190 241h1"/>
<path stroke="#00efff" d="M0 0h13M154 0h13M171 0h2M182 0h1M0 1h13M154 1h13M171 1h2M182 1h1M0 2h13M154 2h13M171 2h2M182 2h1M0 3h13M154 3h13M171 3h2M182 3h1M0 4h13M154 4h13M171 4h2M182 4h1M0 5h13M154 5h13M171 5h2M182 5h1M0 6h13M154 6h13M171 6h2M182 6h1M0 7h13M154 7h13M171 7h2M182 7h1M0 8h13M154 8h13M171 8h2M182 8h1M0 9h13M155 9h13M171 9h2M182 9h1M0 10h13M155 10h13M170 10h3M182 10h1M0 11h13M155 11h18M182 11h1M0 12h13M155 12h17M182 12h1M0 13h13M156 13h16M182 13h1M0 14h14M156 14h14M182 14h1M0 15h14M156 15h11M182 15h1M0 16h14M157 16h7M182 16h1M0 17h15M157 17h7M182 17h1M0 18h17M158 18h6M182 18h1M0 19h18M159 19h5M182 19h1M0 20h19M160 20h4M182 20h1M0 21h19M160 21h4M0 22h19M160 22h4M0 23h19M161 23h3M161 24h3M161 25h3M161 26h3M161 27h2M162 28h1M162 29h1M182 29h1M162 30h1M182 30h1M162 31h1M182 31h1M162 32h1M181 32h2M162 33h1M180 33h2M161 34h1M179 34h2M161 35h1M178 35h2M160 36h1M177 36h2M159 37h2M177 37h1M158 38h2M176 38h2M158 39h2M176 39h1M159 40h1M175 40h2M159 41h2M175 41h1M261 41h9M160 42h1M174 42h2M259 42h11M160 43h2M174 43h1M257 43h13M161 44h1M174 44h1M256 44h4M161 45h2M173 45h2M255 45h3M162 46h1M173 46h2M254 46h3M162 47h2M173 47h1M253 47h3M163 48h1M173 48h1M252 48h3M163 49h1M174 49h1M252 49h3M164 50h1M174 50h1M252 50h3M164 51h1M174 51h1M252 51h4M165 52h1M175 52h1M253 52h4M165 53h1M175 53h3M182 53h6M254 53h4M166 54h1M176 54h6M185 54h5M255 54h3M166 55h1M188 55h2M256 55h3M166 56h1M188 56h2M256 56h3M166 57h1M188 57h2M256 57h2M165 58h1M188 58h2M255 58h3M165 59h1M188 59h2M255 59h2M164 60h2M188 60h2M255 60h2M163 61h2M188 61h2M256 61h1M160 62h4M188 62h1M256 62h2M157 63h3M188 63h1M256 63h2M155 64h2M188 64h1M257 64h2M154 65h2M188 65h1M257 65h3M153 66h2M188 66h1M258 66h2M153 67h1M188 67h1M258 67h3M152 68h1M188 68h1M258 68h4M152 69h1M188 69h1M258 69h12M151 70h2M188 70h1M258 70h12M151 71h1M188 71h1M258 71h12M151 72h1M187 72h2M202 72h8M258 72h12M150 73h1M200 73h1M207 73h3M258 73h12M150 74h1M186 74h1M198 74h1M208 74h2M258 74h12M149 75h2M186 75h1M192 75h2M208 75h2M258 75h12M149 76h1M183 76h2M190 76h2M209 76h1M257 76h5M61 77h1M148 77h1M156 77h1M190 77h1M209 77h1M257 77h4M146 78h2M156 78h1M179 78h2M209 78h1M256 78h4M61 79h1M145 79h2M176 79h3M189 79h1M210 79h1M255 79h3M60 80h1M143 80h3M174 80h2M210 80h1M254 80h3M50 81h1M142 81h2M171 81h2M254 81h2M45 82h2M51 82h1M141 82h2M169 82h2M253 82h3M31 83h1M44 83h1M51 83h1M59 83h1M140 83h2M168 83h2M185 83h1M253 83h3M0 84h10M31 84h1M43 84h2M51 84h1M59 84h1M140 84h2M167 84h2M254 84h2M9 85h2M43 85h1M52 85h1M59 85h1M139 85h2M167 85h1M255 85h3M11 86h1M43 86h1M53 86h1M56 86h1M58 86h3M139 86h2M166 86h2M256 86h4M12 87h2M42 87h2M139 87h1M166 87h1M183 87h1M258 87h12M14 88h1M42 88h2M138 88h2M166 88h1M15 89h2M29 89h1M32 89h1M41 89h2M54 89h7M62 89h1M138 89h1M166 89h1M17 90h2M27 90h4M40 90h2M54 90h2M58 90h4M137 90h1M166 90h1M215 90h1M19 91h1M26 91h3M33 91h7M53 91h1M137 91h1M166 91h1M182 91h1M215 91h1M20 92h2M25 92h2M51 92h2M136 92h1M166 92h1M182 92h1M21 93h5M50 93h1M136 93h1M166 93h1M182 93h1M49 94h1M89 94h2M135 94h2M166 94h1M182 94h1M49 95h2M72 95h7M82 95h1M86 95h1M94 95h1M135 95h1M166 95h1M50 96h2M72 96h2M82 96h1M135 96h1M166 96h2M53 97h2M72 97h3M80 97h2M135 97h1M167 97h1M55 98h2M73 98h3M81 98h2M135 98h1M167 98h2M57 99h1M74 99h3M82 99h2M135 99h1M150 99h3M168 99h2M27 100h1M29 100h1M57 100h1M75 100h2M83 100h1M135 100h1M147 100h1M151 100h3M169 100h2M216 100h1M27 101h1M29 101h1M39 101h4M75 101h2M83 101h2M135 101h1M147 101h1M152 101h2M170 101h2M38 102h2M43 102h2M58 102h1M75 102h2M83 102h2M134 102h2M150 102h4M171 102h2M38 103h1M44 103h1M74 103h2M83 103h1M134 103h1M151 103h2M172 103h2M183 103h1M217 103h1M37 104h1M44 104h1M59 104h1M73 104h3M83 104h1M134 104h1M173 104h2M217 104h1M38 105h1M44 105h1M70 105h5M82 105h2M133 105h1M174 105h2M38 106h1M43 106h2M60 106h2M66 106h7M82 106h1M133 106h1M175 106h2M39 107h4M62 107h4M81 107h2M133 107h1M176 107h2M80 108h2M132 108h2M177 108h1M15 109h1M78 109h3M132 109h1M177 109h1M183 109h1M218 109h1M17 110h1M78 110h1M132 110h1M177 110h2M183 110h1M218 110h1M78 111h1M131 111h2M178 111h1M19 112h1M78 112h1M131 112h1M178 112h1M19 113h1M77 113h1M131 113h1M178 113h1M19 114h1M77 114h1M130 114h2M178 114h1M19 115h1M48 115h3M77 115h2M130 115h1M150 115h1M184 115h1M19 116h1M50 116h1M77 116h2M130 116h1M146 116h2M152 116h2M179 116h1M184 116h1M219 116h1M48 117h2M77 117h2M129 117h1M145 117h1M154 117h1M179 117h1M219 117h1M9 118h2M77 118h2M104 118h13M129 118h1M145 118h1M155 118h1M179 118h1M12 119h1M18 119h1M77 119h2M102 119h4M116 119h4M128 119h1M144 119h1M155 119h1M179 119h1M221 119h1M13 120h2M17 120h1M77 120h2M100 120h4M120 120h1M127 120h1M145 120h1M155 120h1M179 120h1M184 120h1M222 120h1M15 121h3M77 121h2M99 121h3M121 121h1M125 121h2M145 121h2M154 121h1M179 121h1M184 121h1M223 121h1M77 122h1M98 122h3M122 122h1M147 122h2M151 122h3M170 122h1M184 122h1M224 122h2M77 123h1M97 123h3M171 123h1M179 123h1M227 123h4M77 124h1M95 124h4M179 124h1M233 124h3M251 124h1M77 125h1M93 125h4M179 125h1M237 125h4M250 125h2M54 126h1M78 126h1M92 126h3M179 126h1M242 126h3M248 126h2M252 126h1M53 127h1M55 127h1M79 127h1M84 127h1M90 127h2M245 127h4M252 127h1M19 128h1M53 128h1M55 128h1M85 128h5M253 128h1M22 129h1M53 129h3M253 129h2M24 130h1M179 130h1M254 130h2M18 131h1M26 131h1M179 131h1M183 131h1M255 131h2M30 132h1M180 132h1M183 132h1M257 132h13M33 133h1M71 133h1M73 133h1M183 133h1M260 133h2M24 134h1M72 134h1M182 134h1M25 135h1M36 135h1M26 136h1M38 136h1M128 136h1M28 137h5M70 137h2M74 137h1M33 138h1M75 138h1M126 138h1M216 138h4M43 139h1M69 139h1M75 139h1M130 139h1M214 139h8M45 140h1M70 140h1M75 140h1M126 140h1M213 140h9M46 141h1M70 141h2M74 141h1M213 141h2M217 141h5M36 142h1M213 142h2M218 142h4M36 143h1M49 143h1M213 143h2M218 143h4M0 144h8M36 144h1M50 144h1M213 144h2M218 144h4M10 145h2M35 145h1M51 145h1M100 145h1M213 145h2M218 145h4M12 146h1M35 146h1M104 146h1M150 146h2M213 146h2M217 146h4M13 147h1M35 147h1M52 147h1M102 147h1M104 147h1M149 147h1M151 147h1M214 147h7M14 148h1M34 148h1M52 148h1M150 148h2M214 148h7M14 149h1M34 149h1M86 149h1M215 149h6M14 150h2M61 150h2M215 150h5M14 151h2M33 151h1M59 151h2M63 151h2M217 151h2M14 152h2M33 152h1M58 152h1M64 152h2M96 152h1M98 152h1M14 153h1M33 153h1M58 153h1M65 153h1M86 153h1M95 153h1M98 153h1M13 154h2M33 154h1M52 154h1M57 154h1M65 154h2M97 154h1M12 155h2M33 155h1M52 155h1M57 155h1M66 155h3M70 155h5M107 155h2M10 156h3M31 156h2M52 156h1M57 156h1M67 156h4M75 156h1M109 156h1M0 157h12M32 157h1M51 157h2M56 157h2M76 157h1M0 158h11M29 158h1M32 158h2M50 158h2M56 158h1M77 158h1M89 158h1M105 158h1M0 159h11M33 159h1M49 159h2M55 159h2M77 159h1M105 159h1M0 160h11M29 160h1M33 160h2M47 160h2M54 160h3M109 160h1M9 161h2M34 161h1M44 161h1M54 161h2M78 161h1M106 161h1M109 161h1M10 162h2M34 162h2M53 162h3M78 162h1M107 162h2M12 163h2M35 163h2M54 163h1M78 163h1M90 163h1M14 164h1M36 164h5M55 164h1M78 164h1M91 164h1M94 164h1M15 165h1M78 165h1M91 165h3M16 166h1M56 166h1M78 166h1M91 166h3M16 167h1M56 167h1M78 167h1M89 167h2M92 167h2M16 168h1M77 168h1M93 168h1M119 168h1M16 169h1M77 169h1M88 169h1M120 169h1M15 170h1M56 170h2M76 170h2M88 170h1M14 171h1M57 171h3M77 171h1M93 171h1M190 171h1M12 172h2M59 172h2M77 172h1M90 172h3M0 173h11M60 173h2M77 173h1M61 174h2M77 174h1M193 174h1M61 175h2M77 175h2M62 176h1M77 176h2M195 176h1M62 177h1M77 177h2M62 178h1M77 178h2M197 178h1M22 179h1M24 179h1M62 179h1M78 179h1M123 179h4M0 180h9M23 180h2M62 180h1M78 180h1M121 180h1M127 180h1M198 180h1M0 181h12M60 181h2M78 181h2M121 181h1M128 181h1M10 182h4M55 182h2M79 182h2M121 182h1M127 182h1M200 182h1M215 182h2M13 183h3M54 183h1M81 183h1M123 183h2M126 183h1M213 183h2M217 183h1M15 184h2M54 184h1M82 184h1M122 184h1M127 184h1M213 184h1M16 185h2M54 185h1M83 185h1M122 185h1M219 185h1M16 186h2M54 186h1M83 186h1M130 186h1M16 187h2M52 187h2M74 187h3M82 187h1M121 187h1M130 187h1M213 187h1M16 188h1M51 188h1M73 188h2M76 188h3M81 188h2M121 188h1M129 188h1M213 188h1M219 188h1M16 189h1M50 189h1M72 189h1M120 189h1M129 189h1M214 189h1M219 189h1M71 190h1M119 190h1M129 190h1M215 190h4M257 190h13M15 191h1M70 191h1M117 191h2M130 191h1M227 191h2M15 192h1M49 192h1M70 192h1M116 192h2M130 192h1M229 192h1M15 193h1M69 193h2M116 193h1M130 193h1M15 194h1M50 194h1M69 194h1M115 194h2M131 194h1M226 194h1M261 194h1M15 195h1M59 195h1M70 195h1M115 195h1M131 195h1M226 195h2M229 195h1M257 195h3M15 196h1M52 196h1M58 196h1M70 196h1M115 196h1M131 196h1M227 196h8M15 197h2M54 197h3M70 197h1M115 197h1M131 197h1M227 197h2M236 197h1M0 198h8M10 198h2M15 198h2M61 198h1M70 198h2M131 198h1M227 198h2M237 198h2M13 199h1M16 199h1M71 199h1M116 199h1M131 199h1M227 199h2M237 199h2M48 200h2M62 200h1M72 200h2M100 200h1M117 200h1M131 200h1M228 200h1M237 200h1M239 200h1M46 201h1M51 201h1M77 201h6M97 201h2M102 201h2M118 201h1M130 201h2M228 201h2M237 201h1M239 201h1M14 202h1M52 202h1M83 202h2M96 202h1M103 202h1M119 202h2M130 202h2M228 202h3M236 202h2M240 202h1M45 203h1M85 203h2M96 203h1M103 203h2M120 203h2M130 203h2M229 203h3M235 203h2M240 203h1M87 204h3M96 204h2M103 204h1M121 204h1M131 204h1M207 204h1M232 204h4M16 205h1M45 205h1M65 205h2M90 205h12M120 205h1M131 205h1M52 206h1M67 206h1M97 206h3M120 206h1M132 206h1M206 206h2M52 207h1M68 207h1M97 207h2M120 207h1M132 207h1M45 208h1M52 208h2M68 208h1M98 208h1M132 208h1M244 208h1M21 209h1M53 209h1M98 209h2M132 209h1M195 209h3M236 209h1M21 210h1M53 210h2M69 210h1M99 210h2M132 210h1M194 210h1M197 210h1M18 211h1M48 211h1M54 211h1M69 211h1M100 211h3M132 211h1M195 211h2M55 212h1M70 212h1M102 212h4M120 212h1M132 212h1M49 213h1M55 213h1M70 213h1M105 213h2M120 213h1M131 213h1M197 213h3M71 214h1M106 214h2M120 214h1M131 214h1M196 214h1M199 214h1M237 214h1M56 215h1M71 215h1M107 215h1M121 215h1M130 215h1M197 215h2M50 216h1M56 216h1M71 216h1M107 216h1M121 216h1M129 216h2M56 217h1M71 217h1M107 217h2M121 217h2M128 217h2M71 218h1M107 218h2M122 218h2M127 218h2M51 219h1M71 219h1M108 219h1M123 219h4M240 219h1M51 220h1M55 220h1M71 220h1M108 220h2M52 221h1M55 221h1M70 221h1M108 221h3M52 222h2M55 222h1M70 222h1M109 222h6M31 223h1M52 223h4M70 223h1M113 223h8M53 224h3M70 224h1M120 224h2M219 224h1M54 225h2M70 225h1M121 225h1M244 225h1M54 226h2M121 226h1M54 227h2M122 227h1M30 228h1M54 228h3M68 228h1M122 228h1M176 228h5M27 229h2M54 229h4M68 229h1M122 229h1M175 229h1M183 229h3M30 230h1M53 230h6M67 230h2M174 230h1M186 230h1M25 231h1M53 231h2M58 231h6M66 231h3M123 231h1M173 231h1M187 231h2M53 232h2M62 232h6M123 232h1M173 232h1M188 232h1M246 232h1M25 233h1M54 233h1M64 233h4M123 233h1M173 233h1M188 233h2M246 233h1M30 234h1M64 234h4M123 234h1M188 234h2M30 235h1M64 235h4M123 235h1M188 235h2M30 236h1M64 236h4M123 236h1M188 236h2M30 237h1M64 237h4M123 237h1M188 237h2M30 238h1M64 238h4M123 238h1M188 238h2M30 239h1M64 239h4M123 239h1M188 239h2M30 240h1M64 240h4M123 240h1M188 240h2M30 241h1M64 241h4M123 241h1M188 241h2"/>
<path stroke="#00ffff" d="M13 0h10M151 0h3M167 0h4M183 0h1M13 1h10M151 1h3M167 1h4M183 1h1M13 2h10M151 2h3M167 2h4M183 2h1M13 3h10M151 3h3M167 3h4M183 3h1M13 4h10M151 4h3M167 4h4M183 4h1M13 5h10M151 5h3M167 5h4M183 5h1M13 6h10M151 6h3M167 6h4M183 6h1M13 7h10M151 7h3M167 7h4M183 7h1M13 8h10M151 8h3M167 8h4M183 8h1M13 9h10M151 9h4M168 9h3M183 9h1M13 10h10M152 10h3M168 10h2M183 10h1M13 11h10M152 11h3M183 11h1M13 12h11M153 12h2M183 12h1M13 13h11M153 13h3M183 13h1M14 14h11M154 14h2M183 14h1M14 15h11M154 15h2M183 15h1M14 16h11M155 16h2M183 16h1M15 17h11M155 17h2M183 17h1M17 18h9M155 18h3M183 18h1M18 19h9M156 19h3M183 19h1M19 20h8M156 20h4M183 20h1M19 21h9M157 21h3M183 21h1M19 22h10M157 22h3M183 22h1M19 23h10M157 23h4M183 23h1M0 24h29M158 24h3M183 24h1M0 25h29M158 25h3M183 25h1M14 26h14M158 26h3M183 26h1M19 27h7M159 27h2M183 27h1M160 28h2M183 28h1M160 29h2M183 29h1M161 30h1M183 30h1M161 31h1M183 31h1M161 32h1M183 32h1M161 33h1M182 33h2M160 34h1M181 34h2M159 35h2M180 35h1M158 36h2M179 36h1M262 36h8M157 37h2M178 37h1M261 37h9M156 38h2M178 38h1M260 38h10M156 39h2M177 39h1M259 39h11M157 40h2M177 40h1M257 40h13M158 41h1M176 41h1M256 41h5M158 42h2M176 42h1M255 42h4M159 43h1M175 43h2M254 43h3M160 44h1M175 44h1M253 44h3M160 45h1M175 45h1M252 45h3M161 46h1M175 46h1M251 46h3M161 47h1M174 47h2M250 47h3M162 48h1M174 48h2M249 48h3M162 49h1M175 49h1M249 49h3M163 50h1M175 50h1M249 50h3M163 51h1M175 51h2M249 51h3M164 52h1M176 52h3M183 52h7M250 52h3M164 53h1M178 53h4M188 53h3M251 53h3M165 54h1M190 54h2M252 54h3M165 55h1M190 55h2M253 55h3M165 56h1M190 56h2M253 56h3M165 57h1M190 57h1M253 57h3M164 58h1M190 58h1M253 58h2M164 59h1M190 59h1M253 59h2M163 60h1M190 60h1M253 60h2M160 61h3M254 61h2M157 62h3M189 62h1M254 62h2M155 63h2M189 63h1M255 63h1M154 64h1M189 64h1M214 64h2M255 64h2M153 65h1M189 65h1M213 65h4M256 65h1M152 66h1M189 66h1M212 66h5M256 66h2M151 67h2M189 67h1M212 67h4M256 67h2M151 68h1M189 68h1M211 68h5M257 68h1M151 69h1M189 69h1M209 69h6M257 69h1M150 70h1M189 70h1M205 70h9M257 70h1M150 71h1M189 71h1M202 71h12M257 71h1M150 72h1M189 72h1M200 72h2M210 72h3M257 72h1M149 73h1M189 73h1M198 73h2M210 73h3M256 73h2M149 74h1M189 74h5M197 74h1M210 74h2M256 74h2M148 75h1M189 75h3M210 75h2M256 75h2M61 76h1M147 76h2M156 76h1M185 76h2M189 76h1M210 76h1M255 76h2M60 77h1M146 77h2M182 77h1M189 77h1M210 77h1M254 77h3M60 78h1M62 78h1M145 78h1M181 78h1M190 78h1M210 78h1M253 78h3M59 79h2M143 79h2M179 79h2M253 79h2M58 80h2M141 80h2M176 80h2M211 80h1M252 80h2M32 81h1M47 81h3M51 81h1M58 81h3M140 81h2M173 81h2M211 81h1M251 81h3M31 82h1M44 82h1M52 82h1M58 82h3M140 82h1M171 82h2M251 82h2M0 83h11M34 83h4M43 83h1M52 83h1M58 83h1M60 83h1M139 83h1M170 83h1M251 83h2M10 84h2M34 84h9M52 84h1M58 84h1M60 84h1M139 84h1M169 84h1M184 84h1M213 84h1M252 84h2M11 85h2M33 85h10M53 85h1M57 85h2M60 85h1M138 85h1M168 85h2M252 85h3M12 86h2M33 86h10M54 86h2M57 86h1M138 86h1M168 86h1M183 86h1M214 86h1M254 86h2M14 87h1M29 87h2M40 87h2M61 87h1M137 87h2M167 87h2M255 87h3M15 88h2M28 88h3M33 88h1M40 88h2M62 88h1M137 88h1M167 88h1M257 88h13M17 89h2M26 89h3M30 89h1M33 89h2M38 89h3M63 89h1M136 89h2M167 89h1M215 89h1M258 89h12M19 90h2M25 90h2M33 90h7M56 90h2M62 90h2M136 90h1M167 90h1M182 90h1M260 90h10M20 91h6M54 91h10M135 91h2M167 91h1M261 91h9M22 92h3M53 92h2M58 92h6M135 92h1M167 92h1M262 92h8M51 93h2M60 93h4M135 93h1M167 93h1M50 94h2M70 94h9M88 94h1M91 94h1M134 94h1M167 94h1M51 95h1M69 95h3M79 95h2M134 95h1M167 95h1M182 95h1M52 96h2M70 96h2M134 96h1M168 96h1M182 96h1M55 97h2M70 97h2M82 97h2M134 97h1M168 97h1M57 98h1M71 98h2M83 98h2M134 98h1M148 98h2M169 98h1M216 98h1M72 99h2M84 99h1M134 99h1M170 99h1M216 99h1M28 100h1M58 100h1M73 100h2M84 100h2M134 100h1M150 100h1M171 100h1M28 101h1M58 101h1M73 101h2M85 101h1M134 101h1M150 101h2M172 101h2M40 102h3M73 102h2M85 102h1M133 102h1M173 102h2M39 103h1M43 103h1M59 103h1M72 103h2M84 103h2M133 103h1M174 103h2M38 104h1M43 104h1M60 104h1M69 104h4M84 104h1M133 104h1M175 104h2M39 105h1M43 105h1M60 105h2M66 105h4M84 105h1M132 105h1M176 105h2M39 106h4M62 106h4M83 106h2M132 106h1M177 106h1M83 107h1M132 107h1M178 107h1M82 108h1M131 108h1M178 108h1M218 108h1M14 109h1M81 109h1M131 109h1M178 109h1M79 110h2M131 110h1M179 110h1M18 111h1M79 111h1M130 111h1M179 111h1M183 111h1M130 112h1M179 112h1M78 113h1M130 113h1M179 113h1M78 114h2M129 114h1M179 114h1M219 114h1M79 115h1M129 115h1M179 115h1M219 115h1M48 116h2M79 116h1M129 116h1M148 116h4M18 117h1M79 117h1M103 117h14M128 117h1M146 117h2M153 117h1M180 117h1M184 117h1M220 117h1M11 118h1M18 118h1M79 118h1M100 118h4M117 118h3M128 118h1M146 118h1M154 118h1M180 118h1M184 118h1M221 118h1M13 119h1M17 119h1M79 119h1M98 119h4M120 119h1M127 119h1M145 119h1M154 119h1M180 119h1M184 119h1M222 119h1M15 120h2M79 120h1M97 120h3M125 120h2M146 120h1M154 120h1M180 120h1M223 120h1M96 121h3M147 121h1M152 121h2M180 121h1M224 121h1M95 122h3M123 122h1M149 122h2M171 122h1M180 122h1M226 122h3M251 122h2M94 123h3M180 123h1M231 123h4M250 123h3M93 124h2M180 124h1M236 124h3M249 124h2M252 124h1M91 125h2M180 125h1M241 125h3M247 125h3M252 125h1M89 126h3M245 126h3M253 126h1M54 127h1M80 127h1M82 127h2M85 127h5M179 127h1M253 127h1M54 128h1M179 128h1M183 128h1M254 128h1M18 129h1M179 129h1M183 129h1M255 129h1M183 130h1M256 130h2M180 131h1M257 131h13M20 132h1M29 132h1M22 133h1M72 133h1M26 135h1M27 136h2M31 136h1M33 137h1M39 137h1M72 137h2M129 137h1M41 138h1M70 138h1M74 138h1M70 139h1M126 139h1M35 140h1M44 140h1M71 140h1M74 140h1M37 141h1M72 141h2M129 141h1M215 141h2M37 142h1M47 142h1M215 142h3M37 143h1M48 143h1M215 143h3M49 144h1M215 144h3M0 145h10M36 145h1M50 145h1M101 145h2M215 145h3M10 146h2M36 146h1M51 146h1M101 146h1M215 146h2M12 147h1M103 147h1M150 147h1M12 148h2M35 148h1M13 149h1M52 149h1M85 149h1M13 150h1M34 150h1M52 150h1M86 150h1M13 151h1M34 151h1M52 151h1M61 151h2M86 151h1M12 152h2M34 152h1M52 152h1M59 152h5M86 152h1M97 152h1M12 153h2M34 153h1M52 153h1M59 153h1M63 153h2M85 153h1M96 153h2M10 154h3M34 154h1M58 154h2M64 154h1M0 155h12M34 155h1M51 155h1M58 155h1M65 155h1M0 156h10M33 156h2M51 156h1M58 156h1M65 156h2M71 156h4M106 156h1M108 156h1M33 157h2M50 157h1M58 157h1M66 157h6M74 157h2M109 157h1M34 158h1M49 158h1M57 158h1M76 158h1M109 158h1M29 159h1M31 159h1M34 159h2M47 159h2M57 159h1M76 159h1M90 159h1M109 159h1M30 160h1M35 160h1M45 160h2M57 160h1M77 160h1M0 161h9M35 161h2M43 161h1M56 161h2M77 161h1M90 161h1M93 161h1M107 161h2M0 162h10M36 162h2M42 162h1M56 162h2M77 162h1M90 162h1M94 162h1M8 163h4M37 163h5M55 163h3M94 163h1M13 164h1M56 164h2M92 164h2M14 165h1M56 165h2M77 165h1M15 166h1M57 166h2M77 166h1M115 166h1M15 167h1M57 167h2M76 167h2M91 167h1M117 167h1M15 168h1M57 168h3M76 168h1M89 168h1M15 169h1M57 169h4M75 169h2M93 169h1M14 170h1M58 170h4M75 170h1M93 170h1M13 171h1M60 171h3M75 171h2M89 171h1M92 171h1M0 172h12M61 172h3M75 172h2M191 172h1M62 173h2M76 173h1M192 173h1M63 174h1M76 174h1M63 175h1M76 175h1M63 176h1M76 176h1M63 177h1M76 177h1M196 177h1M63 178h1M76 178h1M23 179h1M63 179h1M76 179h2M36 180h1M76 180h2M122 180h2M126 180h1M62 181h1M76 181h2M122 181h1M127 181h1M199 181h1M0 182h10M57 182h4M77 182h2M122 182h2M126 182h1M0 183h13M55 183h2M77 183h1M80 183h1M125 183h1M215 183h2M12 184h3M55 184h1M80 184h2M123 184h4M218 184h1M14 185h2M75 185h2M81 185h2M123 185h1M129 185h1M213 185h1M15 186h1M74 186h3M82 186h1M122 186h1M213 186h1M219 186h1M15 187h1M54 187h1M73 187h1M77 187h2M81 187h1M122 187h1M219 187h1M15 188h1M52 188h1M72 188h1M79 188h2M122 188h1M214 188h1M15 189h1M51 189h1M71 189h1M121 189h1M128 189h1M215 189h4M15 190h1M50 190h1M70 190h1M120 190h2M128 190h1M50 191h1M69 191h1M119 191h2M128 191h2M261 191h9M50 192h1M69 192h1M118 192h1M129 192h1M226 192h1M255 192h1M261 192h9M50 193h1M68 193h1M117 193h1M129 193h1M255 193h1M261 193h1M68 194h1M117 194h1M129 194h2M256 194h1M14 195h1M51 195h1M68 195h2M116 195h1M130 195h1M228 195h1M53 196h2M56 196h2M60 196h2M68 196h2M116 196h1M130 196h1M12 197h1M61 197h2M69 197h1M116 197h1M130 197h1M229 197h3M234 197h2M8 198h2M62 198h2M69 198h1M116 198h1M130 198h1M229 198h2M236 198h1M15 199h1M62 199h2M69 199h2M117 199h1M130 199h1M229 199h1M236 199h1M70 200h2M118 200h1M129 200h2M229 200h1M236 200h1M70 201h7M99 201h3M119 201h2M129 201h1M230 201h1M235 201h2M63 202h1M80 202h3M97 202h1M102 202h1M121 202h1M128 202h2M231 202h5M17 203h1M52 203h1M64 203h3M83 203h2M97 203h1M102 203h1M122 203h1M129 203h1M232 203h3M45 204h1M52 204h1M64 204h5M85 204h2M98 204h5M122 204h1M129 204h2M241 204h1M52 205h1M67 205h2M87 205h3M121 205h1M130 205h1M46 206h1M68 206h1M91 206h6M121 206h1M131 206h1M242 206h1M50 207h2M95 207h2M131 207h1M243 207h1M51 208h1M69 208h1M96 208h2M120 208h1M131 208h1M236 208h1M52 209h1M69 209h1M97 209h1M120 209h1M47 210h1M98 210h1M120 210h1M131 210h1M195 210h2M53 211h1M70 211h1M99 211h1M120 211h1M131 211h1M246 211h1M49 212h1M54 212h1M100 212h2M131 212h1M54 213h1M71 213h1M102 213h3M121 213h1M130 213h1M247 213h1M54 214h2M72 214h1M104 214h2M121 214h1M130 214h1M197 214h2M55 215h1M72 215h1M105 215h2M129 215h1M55 216h1M72 216h1M105 216h2M122 216h1M128 216h1M55 217h1M72 217h1M106 217h1M123 217h1M126 217h2M217 217h1M239 217h1M51 218h1M72 218h1M106 218h1M124 218h3M216 218h1M72 219h1M106 219h2M218 219h1M106 220h2M53 221h2M71 221h1M107 221h1M219 221h1M54 222h1M71 222h1M107 222h2M242 222h1M30 223h1M108 223h5M220 223h1M29 224h1M111 224h9M119 225h2M70 226h1M120 226h1M29 227h1M69 227h1M121 227h1M69 228h1M121 228h1M245 228h1M69 229h1M121 229h1M176 229h7M26 230h1M29 230h1M69 230h1M122 230h1M175 230h1M184 230h2M30 231h1M55 231h3M69 231h1M122 231h1M174 231h1M186 231h1M25 232h1M30 232h1M55 232h7M68 232h2M122 232h1M174 232h1M187 232h1M30 233h1M55 233h9M68 233h2M122 233h1M187 233h1M26 234h1M29 234h1M54 234h10M68 234h2M122 234h1M173 234h1M187 234h1M246 234h1M26 235h1M29 235h1M54 235h10M68 235h2M122 235h1M173 235h1M187 235h1M246 235h1M26 236h1M29 236h1M54 236h10M68 236h2M122 236h1M173 236h1M187 236h1M246 236h1M26 237h1M29 237h1M54 237h10M68 237h2M122 237h1M173 237h1M187 237h1M246 237h1M26 238h1M29 238h1M54 238h10M68 238h2M122 238h1M173 238h1M187 238h1M246 238h1M26 239h1M29 239h1M54 239h10M68 239h2M122 239h1M173 239h1M187 239h1M246 239h1M26 240h1M29 240h1M54 240h10M68 240h2M122 240h1M173 240h1M187 240h1M246 240h1M26 241h1M29 241h1M54 241h10M68 241h2M122 241h1M173 241h1M187 241h1M246 241h1"/>
<path stroke="#10ffef" d="M23 0h7M148 0h3M184 0h1M257 0h13M23 1h7M148 1h3M184 1h1M257 1h13M23 2h7M148 2h3M184 2h1M257 2h13M23 3h7M148 3h3M184 3h1M257 3h13M23 4h7M148 4h3M184 4h1M257 4h13M23 5h7M148 5h3M184 5h1M257 5h13M23 6h7M148 6h3M184 6h1M257 6h13M23 7h7M148 7h3M184 7h1M257 7h13M23 8h7M148 8h3M184 8h1M257 8h13M23 9h7M148 9h3M184 9h1M256 9h14M23 10h7M148 10h4M184 10h1M256 10h14M23 11h7M149 11h3M184 11h1M255 11h15M24 12h6M150 12h3M184 12h1M254 12h16M24 13h6M151 13h2M253 13h17M25 14h6M152 14h2M252 14h18M25 15h6M152 15h2M251 15h19M25 16h6M152 16h3M251 16h19M26 17h5M153 17h2M250 17h20M26 18h5M153 18h2M250 18h20M27 19h5M153 19h3M250 19h20M27 20h5M154 20h2M251 20h19M28 21h5M154 21h3M251 21h19M29 22h4M154 22h3M252 22h18M29 23h6M154 23h3M253 23h17M29 24h8M154 24h4M254 24h16M29 25h11M154 25h4M255 25h15M0 26h14M28 26h14M155 26h3M256 26h14M0 27h19M26 27h17M156 27h3M256 27h14M17 28h13M31 28h11M158 28h2M257 28h13M37 29h3M159 29h1M184 29h1M257 29h13M160 30h1M184 30h1M257 30h13M160 31h1M184 31h1M257 31h13M160 32h1M184 32h1M257 32h13M160 33h1M184 33h1M257 33h13M159 34h1M183 34h1M257 34h13M158 35h1M181 35h2M257 35h13M155 36h3M180 36h2M256 36h6M154 37h3M179 37h2M256 37h5M154 38h2M179 38h1M256 38h4M154 39h2M178 39h1M255 39h4M155 40h2M178 40h1M254 40h3M156 41h2M177 41h2M252 41h4M157 42h1M177 42h1M251 42h4M158 43h1M177 43h1M250 43h4M159 44h1M176 44h2M249 44h4M159 45h1M176 45h1M248 45h4M160 46h1M176 46h1M247 46h4M160 47h1M176 47h1M246 47h4M161 48h1M176 48h1M246 48h3M161 49h1M176 49h1M245 49h4M162 50h1M176 50h2M187 50h4M245 50h4M177 51h3M184 51h8M246 51h3M163 52h1M179 52h4M190 52h2M247 52h3M191 53h2M248 53h3M164 54h1M192 54h1M249 54h3M164 55h1M192 55h1M249 55h4M164 56h1M192 56h1M250 56h3M164 57h1M191 57h1M250 57h3M163 58h1M191 58h1M250 58h3M162 59h2M191 59h1M250 59h3M160 60h3M251 60h2M157 61h3M190 61h1M214 61h2M251 61h3M155 62h2M190 62h1M213 62h4M252 62h2M153 63h2M190 63h1M212 63h6M253 63h2M152 64h2M190 64h1M212 64h2M216 64h2M254 64h1M151 65h2M190 65h1M211 65h2M217 65h1M254 65h2M151 66h1M190 66h1M210 66h2M217 66h1M255 66h1M150 67h1M190 67h1M209 67h3M216 67h2M255 67h1M150 68h1M190 68h1M207 68h4M216 68h1M255 68h2M150 69h1M190 69h1M204 69h5M215 69h2M255 69h2M190 70h1M202 70h3M214 70h2M255 70h2M149 71h1M190 71h1M200 71h2M214 71h1M255 71h2M149 72h1M190 72h2M199 72h1M213 72h2M255 72h2M188 73h1M190 73h3M197 73h1M213 73h1M255 73h1M148 74h1M212 74h1M254 74h2M147 75h1M188 75h1M196 75h1M212 75h1M254 75h2M60 76h1M146 76h1M155 76h1M211 76h1M253 76h2M59 77h1M62 77h2M145 77h1M183 77h1M211 77h1M252 77h2M58 78h2M143 78h2M211 78h1M251 78h2M57 79h2M62 79h1M141 79h2M181 79h1M211 79h1M250 79h3M50 80h4M57 80h1M61 80h1M140 80h1M178 80h2M187 80h1M250 80h2M31 81h1M33 81h4M44 81h3M52 81h2M57 81h1M139 81h1M175 81h2M186 81h1M249 81h2M0 82h11M33 82h7M42 82h2M53 82h1M57 82h1M138 82h2M173 82h2M212 82h1M249 82h2M11 83h1M33 83h1M38 83h5M53 83h1M57 83h1M138 83h1M171 83h2M249 83h2M12 84h1M33 84h1M53 84h2M56 84h2M137 84h2M170 84h2M250 84h2M13 85h1M29 85h2M54 85h3M137 85h1M155 85h1M170 85h1M251 85h1M14 86h1M28 86h3M61 86h1M137 86h1M169 86h1M252 86h2M15 87h2M26 87h3M33 87h7M136 87h1M169 87h1M253 87h2M17 88h3M25 88h3M34 88h6M136 88h1M168 88h1M215 88h1M254 88h3M19 89h3M23 89h3M35 89h3M135 89h1M168 89h1M182 89h1M255 89h3M21 90h4M64 90h2M135 90h1M168 90h1M256 90h4M64 91h3M134 91h1M168 91h1M256 91h5M55 92h3M64 92h4M134 92h1M168 92h1M257 92h5M53 93h7M64 93h13M134 93h1M168 93h1M257 93h13M52 94h2M58 94h12M79 94h2M133 94h1M168 94h1M257 94h13M52 95h2M59 95h10M81 95h1M87 95h1M93 95h1M133 95h1M168 95h2M257 95h13M54 96h4M66 96h4M83 96h1M133 96h1M169 96h1M216 96h1M257 96h13M57 97h2M68 97h2M84 97h1M133 97h1M169 97h2M182 97h1M216 97h1M257 97h13M58 98h1M70 98h1M85 98h1M133 98h1M170 98h2M182 98h1M257 98h13M58 99h1M70 99h2M85 99h2M133 99h1M171 99h2M257 99h13M71 100h2M86 100h1M133 100h1M172 100h2M257 100h13M59 101h1M71 101h2M86 101h1M133 101h1M174 101h1M257 101h13M59 102h1M70 102h3M86 102h1M132 102h1M175 102h2M217 102h1M257 102h13M40 103h3M60 103h1M69 103h3M86 103h1M132 103h1M148 103h1M176 103h2M258 103h12M39 104h1M42 104h1M61 104h1M66 104h3M85 104h2M132 104h1M177 104h2M258 104h12M40 105h3M62 105h4M85 105h1M178 105h1M258 105h12M85 106h1M131 106h1M178 106h2M258 106h12M84 107h1M131 107h1M179 107h1M218 107h1M258 107h12M11 108h1M83 108h2M130 108h1M179 108h1M258 108h12M13 109h1M82 109h2M130 109h1M179 109h1M259 109h11M16 110h1M81 110h2M130 110h1M180 110h1M259 110h11M129 111h1M180 111h1M259 111h11M129 112h1M180 112h1M183 112h1M260 112h10M128 113h2M180 113h1M219 113h1M128 114h1M180 114h1M80 115h1M128 115h1M180 115h1M18 116h1M80 116h1M102 116h15M128 116h1M180 116h1M0 117h10M80 117h1M98 117h5M117 117h3M127 117h1M148 117h1M151 117h2M181 117h1M221 117h1M12 118h2M17 118h1M80 118h1M97 118h3M120 118h2M127 118h1M147 118h1M153 118h1M181 118h1M222 118h1M14 119h3M80 119h1M95 119h3M125 119h2M146 119h1M153 119h1M181 119h1M223 119h1M252 119h2M80 120h1M94 120h3M121 120h1M147 120h1M152 120h2M181 120h1M224 120h1M251 120h3M79 121h1M94 121h2M124 121h1M148 121h4M181 121h2M225 121h2M250 121h4M78 122h1M93 122h2M181 122h3M229 122h3M249 122h2M253 122h1M92 123h2M181 123h3M235 123h3M248 123h2M253 123h1M91 124h2M181 124h3M239 124h5M246 124h3M253 124h1M78 125h1M89 125h2M181 125h1M183 125h1M244 125h3M253 125h2M79 126h1M84 126h5M180 126h1M183 126h1M254 126h1M81 127h1M180 127h1M183 127h1M254 127h2M255 128h2M21 129h1M180 129h1M256 129h3M18 130h1M23 130h1M180 130h1M258 130h12M25 131h1M28 132h1M32 133h1M181 133h1M34 134h1M27 135h2M29 136h2M37 136h1M127 137h1M71 138h3M34 139h1M71 139h1M74 139h1M72 140h2M45 141h1M127 141h1M38 142h1M46 142h1M47 143h1M37 144h1M37 145h1M0 146h10M103 146h1M10 147h2M36 147h1M51 147h1M11 148h1M51 148h1M11 149h2M35 149h1M11 150h2M35 150h1M85 150h1M11 151h2M10 152h2M85 152h1M0 153h12M51 153h1M60 153h3M0 154h10M51 154h1M60 154h1M62 154h2M59 155h1M63 155h2M35 156h1M50 156h1M59 156h1M64 156h1M107 156h1M31 157h1M35 157h1M49 157h1M59 157h1M64 157h2M72 157h2M106 157h1M35 158h2M47 158h2M58 158h2M65 158h7M74 158h2M106 158h1M36 159h1M46 159h1M58 159h2M75 159h1M106 159h1M36 160h2M44 160h1M58 160h2M76 160h1M90 160h1M106 160h1M108 160h1M37 161h2M42 161h1M58 161h2M76 161h1M88 161h1M91 161h2M38 162h4M58 162h3M0 163h8M58 163h3M77 163h1M91 163h1M0 164h13M58 164h4M77 164h1M13 165h1M58 165h4M76 165h1M14 166h1M59 166h3M76 166h1M14 167h1M59 167h4M75 167h1M14 168h1M60 168h3M74 168h2M90 168h1M92 168h1M14 169h1M61 169h3M73 169h2M89 169h1M13 170h1M62 170h3M73 170h2M89 170h1M0 171h13M63 171h2M73 171h2M90 171h2M64 172h2M64 173h2M75 173h1M64 174h2M75 174h1M64 175h1M75 175h1M64 176h1M75 176h1M64 177h1M75 177h1M75 178h1M75 179h1M63 180h1M75 180h1M124 180h2M75 181h1M123 181h1M126 181h1M61 182h1M75 182h2M124 182h2M57 183h2M74 183h3M78 183h2M0 184h12M56 184h1M74 184h4M214 184h4M10 185h4M55 185h1M73 185h2M77 185h1M80 185h1M124 185h2M214 185h1M218 185h1M13 186h2M55 186h1M72 186h2M77 186h1M80 186h2M123 186h2M214 186h1M218 186h1M13 187h2M55 187h1M72 187h1M79 187h2M123 187h1M129 187h1M214 187h1M218 187h1M14 188h1M53 188h1M71 188h1M123 188h1M128 188h1M215 188h1M218 188h1M14 189h1M70 189h1M122 189h2M127 189h1M14 190h1M51 190h1M69 190h1M122 190h1M127 190h1M14 191h1M68 191h1M121 191h2M127 191h1M256 191h1M260 191h1M68 192h1M119 192h2M127 192h2M14 193h1M51 193h1M67 193h1M118 193h2M128 193h1M226 193h1M229 193h1M14 194h1M51 194h1M59 194h1M67 194h1M118 194h1M128 194h1M229 194h1M257 194h1M260 194h1M52 195h1M57 195h2M60 195h2M66 195h2M117 195h1M129 195h1M14 196h1M55 196h1M62 196h6M117 196h1M129 196h1M11 197h1M63 197h6M117 197h1M129 197h1M232 197h2M13 198h1M64 198h5M117 198h1M129 198h1M231 198h1M234 198h2M64 199h5M118 199h1M129 199h1M230 199h1M235 199h1M63 200h7M119 200h2M128 200h1M230 200h1M235 200h1M47 201h1M50 201h1M63 201h7M121 201h2M127 201h2M46 202h1M64 202h16M98 202h2M101 202h1M122 202h6M15 203h1M67 203h5M81 203h2M98 203h1M101 203h1M123 203h6M69 204h2M83 204h2M123 204h2M127 204h2M206 204h1M69 205h1M85 205h2M122 205h1M129 205h1M207 205h1M17 206h1M51 206h1M69 206h1M86 206h5M130 206h1M19 207h1M69 207h1M92 207h3M121 207h1M130 207h1M95 208h1M121 208h1M46 209h1M96 209h1M121 209h1M131 209h1M70 210h1M97 210h1M121 210h1M20 211h1M98 211h1M121 211h1M130 211h1M53 212h1M71 212h1M98 212h2M121 212h1M130 212h1M72 213h1M100 213h2M73 214h1M101 214h3M122 214h1M129 214h1M50 215h1M54 215h1M73 215h1M102 215h3M122 215h2M128 215h1M73 216h1M103 216h2M123 216h2M126 216h2M73 217h1M104 217h2M124 217h2M55 218h1M73 218h1M104 218h2M55 219h1M73 219h1M104 219h2M52 220h1M72 220h1M105 220h1M217 220h1M72 221h1M105 221h2M106 222h1M218 222h1M71 223h1M106 223h2M31 224h1M106 224h5M29 225h1M107 225h12M29 226h1M119 226h1M31 227h1M70 227h1M120 227h1M70 228h1M120 228h1M70 229h1M120 229h1M27 230h2M70 230h1M121 230h1M176 230h2M181 230h3M26 231h1M29 231h1M70 231h1M121 231h1M175 231h1M184 231h2M26 232h1M70 232h1M121 232h1M185 232h2M26 233h1M70 233h1M121 233h1M174 233h1M186 233h1M27 234h2M70 234h1M121 234h1M174 234h1M186 234h1M27 235h2M70 235h1M121 235h1M174 235h1M186 235h1M27 236h2M70 236h1M121 236h1M174 236h1M186 236h1M27 237h2M70 237h1M121 237h1M174 237h1M186 237h1M27 238h2M70 238h1M121 238h1M174 238h1M186 238h1M27 239h2M70 239h1M121 239h1M174 239h1M186 239h1M27 240h2M70 240h1M121 240h1M174 240h1M186 240h1M27 241h2M70 241h1M121 241h1M174 241h1M186 241h1"/>
<path stroke="#20ffdf" d="M30 0h1M145 0h3M185 0h1M253 0h4M30 1h1M145 1h3M185 1h1M253 1h4M30 2h1M145 2h3M185 2h1M253 2h4M30 3h1M145 3h3M185 3h1M253 3h4M30 4h1M145 4h3M185 4h1M253 4h4M30 5h1M145 5h3M185 5h1M253 5h4M30 6h1M145 6h3M185 6h1M253 6h4M30 7h1M145 7h3M185 7h1M253 7h4M30 8h1M145 8h3M185 8h1M253 8h4M30 9h1M145 9h3M185 9h1M253 9h3M30 10h2M145 10h3M185 10h1M252 10h4M30 11h2M145 11h4M185 11h1M251 11h4M30 12h2M145 12h5M250 12h4M30 13h2M145 13h6M184 13h1M249 13h4M31 14h1M146 14h6M184 14h1M248 14h4M31 15h2M147 15h5M184 15h1M248 15h3M31 16h2M149 16h3M184 16h1M247 16h4M31 17h2M150 17h3M184 17h1M247 17h3M31 18h3M150 18h3M184 18h1M247 18h3M32 19h2M150 19h3M184 19h1M247 19h3M32 20h3M151 20h3M184 20h1M247 20h4M33 21h3M151 21h3M184 21h1M248 21h3M33 22h5M151 22h3M184 22h1M249 22h3M35 23h5M151 23h3M184 23h1M250 23h3M37 24h6M151 24h3M184 24h1M251 24h3M40 25h6M151 25h3M184 25h1M252 25h3M42 26h4M151 26h4M184 26h1M252 26h4M43 27h3M151 27h5M184 27h1M253 27h3M0 28h17M30 28h1M42 28h3M150 28h8M184 28h1M253 28h4M0 29h37M40 29h4M150 29h5M157 29h2M253 29h4M21 30h4M32 30h11M148 30h6M158 30h2M253 30h4M34 31h8M148 31h5M159 31h1M185 31h1M253 31h4M38 32h2M148 32h5M159 32h1M185 32h1M253 32h4M148 33h5M159 33h1M185 33h1M253 33h4M149 34h5M184 34h2M253 34h4M150 35h5M183 35h2M253 35h4M151 36h4M182 36h1M252 36h4M151 37h3M181 37h1M252 37h4M152 38h2M180 38h1M250 38h6M152 39h2M179 39h2M249 39h6M153 40h2M179 40h1M248 40h6M154 41h2M179 41h1M247 41h5M155 42h2M178 42h1M247 42h4M156 43h2M178 43h1M247 43h3M158 44h1M178 44h1M246 44h3M158 45h1M177 45h2M245 45h3M159 46h1M177 46h1M244 46h3M177 47h1M243 47h3M160 48h1M177 48h1M188 48h3M243 48h3M177 49h2M186 49h6M242 49h3M161 50h1M178 50h3M183 50h4M191 50h2M242 50h3M162 51h1M180 51h4M192 51h2M243 51h3M162 52h1M192 52h2M244 52h3M163 53h1M193 53h2M245 53h3M163 54h1M193 54h2M246 54h3M163 55h1M193 55h2M246 55h3M163 56h1M193 56h1M247 56h3M163 57h1M192 57h2M247 57h3M162 58h1M192 58h1M214 58h3M247 58h3M160 59h2M192 59h1M213 59h4M247 59h3M0 60h9M157 60h3M191 60h1M212 60h6M248 60h3M0 61h10M155 61h2M191 61h1M212 61h2M216 61h2M249 61h2M0 62h10M153 62h2M211 62h2M217 62h2M250 62h2M0 63h9M152 63h1M210 63h2M218 63h1M251 63h2M151 64h1M210 64h2M218 64h2M252 64h2M150 65h1M209 65h2M218 65h2M252 65h2M150 66h1M208 66h2M218 66h2M253 66h2M149 67h1M206 67h3M218 67h1M253 67h2M149 68h1M204 68h3M217 68h2M254 68h1M149 69h1M202 69h2M217 69h1M254 69h1M149 70h1M191 70h1M200 70h2M216 70h1M254 70h1M191 71h1M199 71h1M215 71h1M254 71h1M148 72h1M197 72h2M215 72h1M254 72h1M148 73h1M187 73h1M214 73h1M254 73h1M147 74h1M213 74h1M253 74h1M60 75h2M146 75h1M187 75h1M253 75h1M59 76h1M62 76h3M145 76h1M212 76h1M252 76h1M57 77h2M64 77h1M143 77h2M155 77h1M184 77h4M212 77h1M251 77h1M55 78h3M63 78h1M141 78h2M155 78h1M182 78h1M189 78h1M249 78h2M52 79h5M139 79h2M188 79h1M248 79h2M47 80h3M54 80h3M138 80h2M180 80h1M247 80h3M0 81h11M37 81h3M43 81h1M54 81h3M61 81h1M138 81h1M177 81h2M247 81h2M11 82h1M40 82h2M54 82h3M61 82h1M137 82h1M175 82h2M185 82h1M247 82h2M12 83h1M30 83h1M54 83h3M61 83h1M137 83h1M173 83h2M213 83h1M248 83h1M13 84h1M28 84h3M55 84h1M61 84h1M136 84h1M172 84h1M248 84h2M14 85h1M27 85h2M61 85h1M136 85h1M171 85h1M183 85h1M214 85h1M249 85h2M15 86h2M25 86h3M136 86h1M170 86h1M250 86h2M17 87h4M24 87h2M62 87h1M135 87h1M170 87h1M251 87h2M20 88h5M63 88h1M135 88h1M169 88h2M182 88h1M252 88h2M22 89h1M64 89h1M134 89h1M169 89h1M253 89h2M134 90h1M169 90h1M253 90h3M67 91h1M133 91h1M169 91h1M254 91h2M68 92h4M133 92h1M169 92h1M254 92h3M77 93h3M132 93h2M169 93h1M216 93h1M254 93h3M54 94h4M81 94h2M87 94h1M92 94h1M132 94h1M169 94h1M216 94h1M254 94h3M54 95h5M92 95h1M132 95h1M170 95h1M216 95h1M254 95h3M58 96h8M84 96h1M132 96h1M170 96h1M254 96h3M59 97h9M85 97h1M132 97h1M171 97h1M254 97h3M59 98h2M67 98h3M86 98h1M132 98h1M172 98h1M254 98h3M59 99h1M69 99h1M87 99h1M132 99h1M173 99h1M182 99h1M254 99h3M59 100h1M69 100h2M87 100h1M132 100h1M174 100h2M182 100h1M254 100h3M69 101h2M87 101h1M132 101h1M175 101h3M217 101h1M255 101h2M60 102h1M68 102h2M87 102h1M131 102h1M177 102h2M255 102h2M61 103h1M66 103h3M87 103h1M131 103h1M149 103h1M178 103h2M255 103h3M40 104h2M62 104h4M87 104h1M131 104h1M179 104h1M256 104h2M86 105h1M131 105h1M179 105h2M256 105h2M86 106h1M130 106h1M180 106h3M218 106h1M256 106h2M85 107h2M130 107h1M180 107h3M257 107h1M9 108h2M85 108h1M180 108h2M257 108h1M84 109h2M129 109h1M180 109h2M257 109h2M83 110h2M129 110h1M181 110h2M257 110h2M17 111h1M80 111h1M83 111h1M128 111h1M181 111h2M257 111h2M18 112h1M79 112h1M128 112h1M181 112h2M219 112h1M257 112h3M18 113h1M79 113h1M127 113h1M181 113h3M258 113h12M18 114h1M80 114h1M127 114h1M181 114h2M18 115h1M81 115h1M100 115h18M127 115h1M181 115h2M81 116h1M96 116h6M117 116h4M127 116h1M181 116h2M220 116h1M10 117h2M17 117h1M81 117h1M95 117h3M120 117h2M126 117h1M149 117h2M182 117h1M222 117h1M251 117h4M14 118h3M81 118h1M94 118h3M125 118h2M148 118h1M152 118h1M182 118h1M250 118h5M81 119h1M93 119h2M121 119h1M147 119h1M152 119h1M182 119h1M250 119h2M254 119h1M81 120h1M93 120h1M148 120h1M151 120h1M182 120h1M225 120h1M249 120h2M254 120h1M80 121h1M92 121h2M183 121h1M227 121h2M248 121h2M254 121h1M91 122h2M232 122h4M247 122h2M254 122h1M78 123h1M90 123h2M238 123h10M254 123h1M78 124h1M89 124h2M244 124h2M254 124h1M85 125h4M182 125h1M255 125h1M83 126h1M255 126h2M256 127h2M180 128h1M257 128h2M259 129h11M19 131h1M181 131h1M21 132h1M27 132h1M182 132h1M23 133h1M31 133h1M182 133h1M25 134h1M29 135h1M35 135h1M32 136h1M128 137h1M40 138h1M42 139h1M72 139h2M36 140h1M43 140h1M129 140h1M38 141h1M128 141h1M38 143h1M48 144h1M49 145h1M37 146h1M50 146h1M102 146h1M0 147h10M50 147h1M0 148h11M36 148h1M0 149h11M36 149h1M51 149h1M0 150h11M51 150h1M0 151h11M35 151h1M51 151h1M85 151h1M0 152h10M35 152h1M51 152h1M35 153h1M35 154h1M50 154h1M61 154h1M35 155h1M50 155h1M60 155h3M36 156h1M49 156h1M60 156h4M30 157h1M36 157h1M48 157h1M60 157h4M107 157h2M31 158h1M37 158h1M46 158h1M60 158h5M72 158h2M37 159h2M44 159h2M60 159h2M63 159h9M73 159h2M88 159h1M108 159h1M38 160h2M43 160h1M60 160h2M75 160h1M107 160h1M39 161h3M60 161h3M89 161h1M61 162h2M76 162h1M91 162h1M93 162h1M61 163h2M76 163h1M92 163h2M62 164h1M76 164h1M0 165h8M11 165h2M62 165h1M13 166h1M62 166h2M75 166h1M13 167h1M63 167h2M74 167h1M13 168h1M63 168h3M72 168h2M91 168h1M13 169h1M64 169h3M70 169h3M92 169h1M0 170h8M11 170h2M65 170h8M92 170h1M65 171h8M66 172h5M74 172h1M66 173h4M66 174h2M65 175h2M65 176h1M74 176h1M65 177h1M74 177h1M64 178h1M74 178h1M64 179h1M74 179h1M74 180h1M63 181h1M74 181h1M124 181h2M62 182h1M74 182h1M59 183h2M73 183h1M57 184h1M73 184h1M0 185h10M56 185h1M72 185h1M126 185h1M128 185h1M215 185h1M217 185h1M9 186h4M78 186h1M129 186h1M12 187h1M71 187h1M124 187h1M215 187h1M12 188h2M54 188h2M70 188h1M124 188h4M216 188h2M13 189h1M52 189h1M69 189h1M124 189h3M68 190h1M123 190h4M51 191h1M67 191h1M123 191h4M257 191h1M14 192h1M51 192h1M66 192h2M121 192h6M228 192h1M256 192h1M59 193h1M65 193h2M120 193h3M126 193h2M256 193h1M52 194h1M58 194h1M60 194h1M64 194h3M119 194h2M127 194h1M227 194h1M258 194h2M13 195h1M53 195h4M62 195h4M118 195h1M127 195h2M12 196h1M118 196h1M128 196h1M0 197h11M118 197h1M128 197h1M118 198h1M128 198h1M119 199h1M127 199h2M15 200h1M121 200h2M126 200h2M14 201h1M48 201h2M123 201h4M231 201h1M234 201h1M16 202h1M51 202h1M100 202h1M46 203h1M72 203h9M99 203h2M71 204h1M81 204h2M125 204h2M18 205h1M46 205h1M51 205h1M70 205h1M83 205h2M123 205h1M128 205h1M47 206h1M50 206h1M70 206h1M85 206h1M122 206h1M128 206h2M49 207h1M70 207h1M86 207h6M129 207h1M18 208h1M20 208h1M70 208h1M93 208h2M130 208h1M70 209h1M95 209h1M130 209h1M96 210h1M130 210h1M19 211h1M71 211h1M97 211h1M72 212h1M97 212h1M122 212h1M129 212h1M53 213h1M73 213h1M98 213h2M122 213h1M129 213h1M50 214h1M99 214h2M123 214h1M128 214h1M74 215h1M100 215h2M124 215h4M54 216h1M74 216h1M101 216h2M125 216h1M51 217h1M74 217h1M102 217h2M74 218h1M102 218h2M103 219h1M54 220h1M73 220h1M103 220h2M73 221h1M104 221h1M72 222h1M104 222h2M105 223h1M30 224h1M71 224h1M105 224h1M71 225h1M106 225h1M31 226h1M106 226h7M115 226h4M30 227h1M107 227h2M118 227h2M119 228h1M71 230h1M120 230h1M178 230h3M27 231h2M71 231h1M120 231h1M176 231h2M182 231h2M29 232h1M71 232h1M120 232h1M175 232h1M184 232h1M27 233h1M29 233h1M71 233h1M120 233h1M175 233h1M185 233h1M71 234h1M175 234h1M185 234h1M71 235h1M175 235h1M185 235h1M71 236h1M175 236h1M185 236h1M71 237h1M175 237h1M185 237h1M71 238h1M175 238h1M185 238h1M71 239h1M175 239h1M185 239h1M71 240h1M175 240h1M185 240h1M71 241h1M175 241h1M185 241h1"/>
<path stroke="#30ffcf" d="M31 0h2M141 0h4M186 0h1M250 0h3M31 1h2M141 1h4M186 1h1M250 1h3M31 2h2M141 2h4M186 2h1M250 2h3M31 3h2M141 3h4M186 3h1M250 3h3M31 4h2M141 4h4M186 4h1M250 4h3M31 5h2M141 5h4M186 5h1M250 5h3M31 6h2M141 6h4M186 6h1M250 6h3M31 7h2M141 7h4M186 7h1M250 7h3M31 8h2M141 8h4M186 8h1M250 8h3M31 9h2M141 9h4M186 9h1M250 9h3M32 10h1M141 10h4M186 10h1M249 10h3M32 11h1M140 11h5M248 11h3M32 12h1M140 12h5M185 12h1M247 12h3M32 13h2M139 13h6M185 13h1M246 13h3M32 14h2M139 14h7M245 14h3M33 15h1M138 15h9M244 15h4M33 16h2M139 16h10M244 16h3M33 17h2M140 17h10M244 17h3M34 18h2M143 18h7M244 18h3M34 19h3M146 19h4M244 19h3M35 20h3M147 20h4M244 20h3M36 21h4M148 21h3M244 21h4M38 22h5M148 22h3M245 22h4M40 23h7M149 23h2M246 23h4M43 24h6M149 24h2M247 24h4M46 25h4M149 25h2M248 25h4M46 26h4M149 26h2M249 26h3M46 27h3M149 27h2M250 27h3M45 28h3M148 28h2M250 28h3M44 29h3M147 29h3M155 29h2M185 29h1M250 29h3M0 30h21M25 30h7M43 30h3M146 30h2M154 30h4M185 30h1M250 30h3M19 31h15M42 31h3M145 31h3M153 31h1M158 31h1M250 31h3M32 32h6M40 32h4M145 32h3M153 32h1M186 32h1M250 32h3M34 33h9M146 33h2M153 33h1M186 33h1M249 33h4M36 34h6M147 34h2M158 34h1M186 34h1M248 34h5M149 35h1M157 35h1M185 35h1M247 35h6M149 36h2M183 36h2M246 36h6M150 37h1M182 37h2M245 37h7M150 38h2M181 38h2M244 38h6M151 39h1M181 39h1M244 39h5M151 40h2M180 40h1M244 40h4M152 41h2M180 41h1M244 41h3M153 42h2M179 42h2M244 42h3M155 43h1M179 43h1M243 43h4M156 44h2M179 44h1M243 44h3M157 45h1M179 45h1M242 45h3M158 46h1M178 46h2M189 46h1M241 46h3M159 47h1M178 47h2M187 47h5M241 47h2M159 48h1M178 48h3M185 48h3M191 48h2M240 48h3M160 49h1M179 49h7M192 49h2M240 49h2M160 50h1M181 50h2M193 50h2M240 50h2M161 51h1M194 51h1M240 51h3M161 52h1M194 52h2M241 52h3M162 53h1M195 53h1M242 53h3M162 54h1M195 54h1M242 54h4M162 55h1M195 55h1M214 55h3M243 55h3M162 56h1M194 56h1M213 56h5M244 56h3M161 57h2M194 57h1M212 57h7M244 57h3M0 58h8M160 58h2M193 58h1M212 58h2M217 58h2M244 58h3M0 59h10M158 59h2M211 59h2M217 59h2M244 59h3M9 60h1M156 60h1M192 60h1M211 60h1M218 60h2M245 60h3M10 61h1M154 61h1M210 61h2M218 61h2M246 61h3M10 62h1M152 62h1M191 62h1M209 62h2M219 62h1M247 62h3M9 63h2M150 63h2M209 63h1M219 63h2M249 63h2M0 64h10M150 64h1M208 64h2M220 64h1M250 64h2M0 65h8M149 65h1M207 65h2M220 65h1M251 65h1M149 66h1M205 66h3M220 66h1M252 66h1M203 67h3M219 67h1M252 67h1M148 68h1M202 68h2M219 68h1M253 68h1M148 69h1M200 69h2M218 69h1M253 69h1M0 70h10M148 70h1M199 70h1M217 70h1M0 71h11M148 71h1M197 71h2M216 71h1M0 72h11M192 72h1M196 72h1M0 73h8M147 73h1M253 73h1M146 74h1M252 74h1M62 75h4M145 75h1M194 75h2M213 75h1M252 75h1M58 76h1M65 76h2M144 76h1M187 76h1M251 76h1M56 77h1M65 77h1M142 77h1M249 77h2M53 78h2M64 78h1M139 78h2M183 78h1M212 78h1M247 78h2M50 79h2M63 79h1M138 79h1M155 79h1M182 79h1M246 79h2M0 80h10M32 80h6M43 80h4M62 80h1M137 80h1M155 80h1M181 80h1M245 80h2M11 81h2M30 81h1M40 81h3M137 81h1M179 81h2M245 81h2M12 82h2M28 82h3M136 82h1M177 82h1M245 82h2M13 83h2M26 83h4M136 83h1M175 83h1M184 83h1M246 83h2M14 84h1M25 84h3M173 84h2M247 84h1M15 85h2M23 85h4M135 85h1M172 85h1M247 85h2M17 86h8M62 86h1M135 86h1M171 86h2M248 86h2M21 87h3M134 87h1M171 87h1M182 87h1M215 87h1M249 87h2M134 88h1M171 88h1M250 88h2M133 89h1M170 89h1M251 89h2M66 90h1M133 90h1M170 90h1M252 90h1M68 91h1M132 91h1M170 91h1M216 91h1M252 91h2M72 92h1M132 92h1M170 92h1M216 92h1M252 92h2M80 93h2M131 93h1M170 93h1M252 93h2M83 94h1M93 94h1M131 94h1M170 94h1M252 94h2M88 95h1M91 95h1M96 95h1M131 95h1M171 95h1M252 95h2M85 96h2M131 96h1M171 96h1M252 96h2M86 97h2M131 97h1M172 97h1M252 97h2M61 98h6M87 98h2M131 98h1M173 98h2M252 98h2M60 99h2M66 99h3M88 99h1M131 99h1M148 99h2M174 99h3M252 99h2M60 100h1M67 100h2M88 100h2M131 100h1M176 100h2M217 100h1M252 100h2M60 101h2M66 101h3M88 101h2M131 101h1M178 101h1M182 101h1M252 101h3M61 102h2M65 102h3M88 102h1M179 102h1M182 102h1M253 102h2M62 103h4M88 103h1M130 103h1M180 103h1M253 103h2M88 104h1M130 104h1M180 104h3M218 104h1M254 104h2M87 105h2M130 105h1M181 105h2M218 105h1M254 105h2M87 106h1M129 106h1M255 106h1M87 107h1M129 107h1M255 107h2M8 108h1M86 108h2M129 108h1M182 108h1M255 108h2M86 109h1M128 109h1M182 109h1M255 109h2M15 110h1M85 110h2M128 110h1M219 110h1M255 110h2M81 111h2M84 111h2M127 111h1M219 111h1M255 111h2M84 112h1M127 112h1M255 112h2M126 113h1M254 113h4M96 114h11M112 114h8M126 114h1M183 114h1M253 114h17M82 115h1M94 115h6M118 115h5M125 115h2M183 115h1M252 115h8M82 116h1M93 116h3M121 116h6M251 116h6M12 117h2M16 117h1M82 117h1M93 117h2M124 117h2M250 117h1M255 117h2M82 118h1M92 118h2M149 118h3M183 118h1M223 118h1M249 118h1M255 118h2M82 119h1M92 119h1M148 119h1M151 119h1M183 119h1M224 119h1M248 119h2M255 119h1M82 120h1M91 120h2M149 120h2M183 120h1M226 120h1M247 120h2M255 120h1M81 121h2M90 121h2M122 121h1M229 121h2M246 121h2M255 121h1M79 122h1M90 122h1M236 122h11M255 122h1M88 123h2M255 123h1M85 124h4M255 124h2M79 125h1M84 125h1M256 125h1M80 126h3M181 126h1M257 126h1M258 127h2M262 127h8M259 128h11M19 129h2M182 129h1M22 130h1M182 130h1M182 131h1M181 132h1M26 134h1M30 135h1M38 137h1M127 138h1M129 138h1M129 139h1M127 140h1M44 141h1M39 142h1M45 142h1M39 143h1M46 143h1M38 144h1M47 144h1M38 145h1M48 145h1M49 146h1M37 147h1M37 148h1M50 148h1M50 149h1M36 150h1M36 151h1M50 152h1M36 153h1M50 153h1M36 154h1M36 155h1M49 155h1M37 156h1M48 156h1M37 157h1M47 157h1M38 158h1M45 158h1M108 158h1M39 159h1M43 159h1M62 159h1M72 159h1M107 159h1M40 160h3M62 160h13M63 161h2M74 161h2M63 162h1M75 162h1M63 163h1M75 163h1M63 164h1M75 164h1M8 165h3M63 165h2M74 165h2M0 166h8M12 166h1M64 166h1M73 166h2M12 167h1M65 167h1M71 167h3M12 168h1M66 168h6M0 169h8M12 169h1M67 169h3M90 169h1M8 170h3M90 170h2M68 174h1M67 175h1M74 175h1M66 176h1M73 176h1M66 177h1M72 177h2M65 178h1M73 178h1M73 179h1M64 180h1M73 180h1M73 181h1M63 182h1M73 182h1M61 183h1M72 183h1M58 184h2M72 184h1M78 184h1M57 185h1M71 185h1M127 185h1M216 185h1M0 186h9M56 186h1M71 186h1M79 186h1M125 186h1M215 186h1M217 186h1M8 187h4M56 187h1M70 187h1M125 187h1M216 187h2M11 188h1M56 188h1M69 188h1M53 189h2M56 189h1M68 189h1M13 190h1M52 190h1M67 190h1M52 191h1M58 191h1M66 191h1M258 191h2M58 192h1M65 192h1M227 192h1M260 192h1M52 193h1M58 193h1M60 193h1M63 193h2M123 193h3M257 193h1M260 193h1M13 194h1M53 194h1M57 194h1M61 194h3M121 194h6M228 194h1M119 195h1M126 195h1M11 196h1M127 196h1M13 197h2M127 197h1M119 198h1M127 198h1M232 198h2M120 199h3M126 199h1M123 200h3M47 202h1M51 203h1M16 204h1M46 204h1M51 204h1M72 204h9M71 205h2M82 205h1M127 205h1M206 205h1M48 206h1M71 206h1M83 206h2M46 207h1M71 207h1M84 207h2M122 207h1M50 208h1M71 208h1M86 208h7M129 208h1M71 209h1M93 209h2M129 209h1M18 210h1M48 210h1M52 210h1M71 210h1M95 210h1M122 210h1M129 210h1M49 211h1M72 211h1M95 211h2M122 211h1M129 211h1M96 212h1M128 212h1M74 213h1M97 213h1M123 213h1M127 213h2M74 214h1M98 214h1M124 214h4M75 215h1M99 215h1M75 216h1M100 216h1M75 217h1M100 217h2M75 218h1M101 218h1M52 219h1M74 219h1M101 219h2M53 220h1M74 220h1M102 220h1M103 221h1M73 222h1M103 222h1M72 223h1M104 223h1M72 224h1M104 224h1M31 225h1M105 225h1M71 226h1M105 226h1M113 226h2M71 227h1M105 227h2M109 227h3M115 227h3M71 228h1M106 228h4M117 228h2M71 229h1M106 229h2M118 229h2M119 230h1M72 231h1M119 231h1M178 231h4M27 232h1M72 232h1M119 232h1M176 232h3M181 232h3M28 233h1M72 233h1M176 233h1M183 233h2M72 234h1M120 234h1M176 234h1M183 234h2M72 235h1M120 235h1M176 235h1M183 235h2M72 236h1M120 236h1M176 236h1M183 236h2M72 237h1M120 237h1M176 237h1M183 237h2M72 238h1M120 238h1M176 238h1M183 238h2M72 239h1M120 239h1M176 239h1M183 239h2M72 240h1M120 240h1M176 240h1M183 240h2M72 241h1M120 241h1M176 241h1M183 241h2"/>
<path stroke="#40ffbf" d="M33 0h1M139 0h2M187 0h1M243 0h7M33 1h1M139 1h2M187 1h1M243 1h7M33 2h1M139 2h2M187 2h1M243 2h7M33 3h1M139 3h2M187 3h1M243 3h7M33 4h1M139 4h2M187 4h1M243 4h7M33 5h1M139 5h2M187 5h1M243 5h7M33 6h1M139 6h2M187 6h1M243 6h7M33 7h1M139 7h2M187 7h1M243 7h7M33 8h1M139 8h2M187 8h1M243 8h7M33 9h1M138 9h3M187 9h1M242 9h8M33 10h1M138 10h3M242 10h7M33 11h1M138 11h2M186 11h1M241 11h7M33 12h2M137 12h3M186 12h1M241 12h6M34 13h1M137 13h2M241 13h5M34 14h2M137 14h2M185 14h1M241 14h4M34 15h2M137 15h1M185 15h1M241 15h3M35 16h2M137 16h2M185 16h1M241 16h3M35 17h3M137 17h3M241 17h3M36 18h3M138 18h5M241 18h3M37 19h3M138 19h8M241 19h3M38 20h4M139 20h8M241 20h3M40 21h8M141 21h7M241 21h3M43 22h11M145 22h3M241 22h4M47 23h7M146 23h3M241 23h5M49 24h5M147 24h2M241 24h6M50 25h4M147 25h2M242 25h6M50 26h4M147 26h2M242 26h7M49 27h4M146 27h3M242 27h8M48 28h3M146 28h2M185 28h1M243 28h7M47 29h2M143 29h4M243 29h7M46 30h2M140 30h6M186 30h1M243 30h7M0 31h19M45 31h2M140 31h5M186 31h1M242 31h8M0 32h32M44 32h2M141 32h4M187 32h1M241 32h9M31 33h3M43 33h2M143 33h3M187 33h1M241 33h8M33 34h3M42 34h2M146 34h1M187 34h1M241 34h7M34 35h10M147 35h2M155 35h1M186 35h2M241 35h6M35 36h8M148 36h1M185 36h2M241 36h5M38 37h3M149 37h1M184 37h2M241 37h4M149 38h1M183 38h2M241 38h3M149 39h2M182 39h2M241 39h3M150 40h1M181 40h2M241 40h3M150 41h2M181 41h1M241 41h3M151 42h2M181 42h1M241 42h3M153 43h2M180 43h2M241 43h2M155 44h1M180 44h2M240 44h3M156 45h1M180 45h2M187 45h5M240 45h2M157 46h1M180 46h2M185 46h4M190 46h3M239 46h2M158 47h1M180 47h7M192 47h2M239 47h2M181 48h4M193 48h2M238 48h2M159 49h1M194 49h2M238 49h2M195 50h1M238 50h2M160 51h1M195 51h2M238 51h2M196 52h1M238 52h3M161 53h1M196 53h2M213 53h3M239 53h3M161 54h1M196 54h2M212 54h7M240 54h2M161 55h1M196 55h2M212 55h2M217 55h3M240 55h3M161 56h1M195 56h2M211 56h2M218 56h3M240 56h4M0 57h8M160 57h1M195 57h1M211 57h1M219 57h2M241 57h3M8 58h2M159 58h1M194 58h1M210 58h2M219 58h2M241 58h3M10 59h1M157 59h1M193 59h1M209 59h2M219 59h2M241 59h3M10 60h1M154 60h2M193 60h1M209 60h2M220 60h1M242 60h3M152 61h2M208 61h2M220 61h1M243 61h3M11 62h1M150 62h2M208 62h1M220 62h2M245 62h2M11 63h1M149 63h1M191 63h1M207 63h2M221 63h1M246 63h3M10 64h2M148 64h2M206 64h2M221 64h1M248 64h2M8 65h3M148 65h1M205 65h2M221 65h1M249 65h2M0 66h11M148 66h1M203 66h2M221 66h1M250 66h2M0 67h11M148 67h1M202 67h1M220 67h1M251 67h1M0 68h11M200 68h2M220 68h1M251 68h2M0 69h12M147 69h1M191 69h1M199 69h1M219 69h1M10 70h3M147 70h1M198 70h1M218 70h1M11 71h3M147 71h1M195 71h2M217 71h1M11 72h4M147 72h1M8 73h7M146 73h1M0 74h15M61 74h6M188 74h1M214 74h1M251 74h1M58 75h2M66 75h2M144 75h1M251 75h1M57 76h1M143 76h1M188 76h1M249 76h2M54 77h2M140 77h2M247 77h2M52 78h1M138 78h1M184 78h1M187 78h2M245 78h2M0 79h12M31 79h2M47 79h3M137 79h1M212 79h1M243 79h3M10 80h4M29 80h3M38 80h5M136 80h1M212 80h1M243 80h2M13 81h2M24 81h6M62 81h1M136 81h1M155 81h1M181 81h1M212 81h1M243 81h2M14 82h2M23 82h5M62 82h1M135 82h1M155 82h1M178 82h2M244 82h1M15 83h1M22 83h4M135 83h1M155 83h1M176 83h2M244 83h2M15 84h3M20 84h5M135 84h1M155 84h1M175 84h1M214 84h1M245 84h2M17 85h6M62 85h1M134 85h1M173 85h2M246 85h1M134 86h1M173 86h1M215 86h1M247 86h1M63 87h1M133 87h1M172 87h1M248 87h1M64 88h1M132 88h2M249 88h1M65 89h1M132 89h1M171 89h1M249 89h2M67 90h1M131 90h2M171 90h1M216 90h1M250 90h2M69 91h1M131 91h1M171 91h1M181 91h1M250 91h2M73 92h7M130 92h2M171 92h1M181 92h1M250 92h2M82 93h1M130 93h1M171 93h1M181 93h1M250 93h2M84 94h1M86 94h1M94 94h1M130 94h1M171 94h1M181 94h1M250 94h2M90 95h1M130 95h1M172 95h1M250 95h2M87 96h2M130 96h1M172 96h2M250 96h2M88 97h2M130 97h1M173 97h2M250 97h2M89 98h1M130 98h1M175 98h3M250 98h2M62 99h4M89 99h2M130 99h1M177 99h1M217 99h1M250 99h2M61 100h6M90 100h1M130 100h1M250 100h2M62 101h4M90 101h1M130 101h1M251 101h1M63 102h2M89 102h2M130 102h1M148 102h1M180 102h1M251 102h2M89 103h1M181 103h2M218 103h1M252 103h1M89 104h1M129 104h1M252 104h2M89 105h1M129 105h1M253 105h1M88 106h1M253 106h2M88 107h1M128 107h1M253 107h2M0 108h8M88 108h1M128 108h1M253 108h2M87 109h2M127 109h1M219 109h1M253 109h2M87 110h2M127 110h1M253 110h2M86 111h3M126 111h1M253 111h2M17 112h1M85 112h3M125 112h2M253 112h2M84 113h2M92 113h13M115 113h11M252 113h2M81 114h4M91 114h5M107 114h5M120 114h6M251 114h2M83 115h2M91 115h3M123 115h2M250 115h2M260 115h10M83 116h1M91 116h2M183 116h1M221 116h2M249 116h2M257 116h4M14 117h2M83 117h1M91 117h2M122 117h1M183 117h1M223 117h1M248 117h2M257 117h2M83 118h1M91 118h1M124 118h1M224 118h1M247 118h2M257 118h1M83 119h1M90 119h2M149 119h2M225 119h1M246 119h2M256 119h1M83 120h2M90 120h1M124 120h1M227 120h1M245 120h2M256 120h1M83 121h2M89 121h1M123 121h1M231 121h5M242 121h4M256 121h1M83 122h7M256 122h1M79 123h1M84 123h4M256 123h1M79 124h1M84 124h1M257 124h1M257 125h2M182 126h1M258 126h12M182 127h1M260 127h2M182 128h1M181 130h1M20 131h1M24 131h1M22 132h1M26 132h1M24 133h1M30 133h1M33 134h1M36 136h1M34 137h1M34 138h1M39 138h1M35 139h1M41 139h1M127 139h1M37 140h1M40 142h1M45 143h1M39 144h1M46 144h1M47 145h1M38 146h1M38 147h1M49 147h1M37 149h1M50 150h1M50 151h1M36 152h1M49 154h1M37 155h1M48 155h1M47 156h1M38 157h1M45 157h2M39 158h2M44 158h1M107 158h1M30 159h1M40 159h3M89 159h1M88 160h1M65 161h9M64 162h2M74 162h1M92 162h1M64 163h2M74 163h1M64 164h2M74 164h1M65 165h1M73 165h1M8 166h4M65 166h2M71 166h2M0 167h8M11 167h1M66 167h5M0 168h8M11 168h1M8 169h4M91 169h1M74 173h1M74 174h1M68 175h1M67 176h1M71 178h2M65 179h1M72 179h1M72 180h1M72 181h1M72 182h1M62 183h1M71 183h1M60 184h1M71 184h1M79 184h1M58 185h1M78 185h1M57 186h1M70 186h1M128 186h1M216 186h1M0 187h8M69 187h1M128 187h1M0 188h8M10 188h1M68 188h1M12 189h1M55 189h1M57 189h1M67 189h1M53 190h1M57 190h1M66 190h1M13 191h1M64 191h2M13 192h1M52 192h1M59 192h1M63 192h2M13 193h1M53 193h1M57 193h1M61 193h2M227 193h1M258 193h1M54 194h3M12 195h1M123 195h3M0 196h9M10 196h1M119 196h1M123 196h4M119 197h1M123 197h4M123 198h4M123 199h3M231 199h1M234 199h1M14 200h1M231 200h1M234 200h1M15 201h1M232 201h2M50 202h1M17 204h1M47 205h1M73 205h2M79 205h3M124 205h3M49 206h1M72 206h1M82 206h1M123 206h1M127 206h1M83 207h1M128 207h1M19 208h1M46 208h1M84 208h2M122 208h1M128 208h1M18 209h1M47 209h1M51 209h1M85 209h8M122 209h1M128 209h1M72 210h1M93 210h2M128 210h1M52 211h1M94 211h1M128 211h1M73 212h1M95 212h1M123 212h1M127 212h1M50 213h1M75 213h1M96 213h1M124 213h3M53 214h1M75 214h1M97 214h1M76 215h1M98 215h1M51 216h1M76 216h1M98 216h2M54 217h1M76 217h1M99 217h1M216 217h1M99 218h2M217 218h1M75 219h1M100 219h1M75 220h1M101 220h1M218 220h1M74 221h1M101 221h2M74 222h1M102 222h1M219 222h1M73 223h1M103 223h1M103 224h1M72 225h1M104 225h1M72 226h1M104 226h1M72 227h1M112 227h3M72 228h1M105 228h1M110 228h2M115 228h2M72 229h1M105 229h1M108 229h2M117 229h1M72 230h1M106 230h3M118 230h1M73 231h1M106 231h2M118 231h1M28 232h1M73 232h1M179 232h2M73 233h1M119 233h1M177 233h6M73 234h1M119 234h1M177 234h6M73 235h1M119 235h1M177 235h6M73 236h1M119 236h1M177 236h6M73 237h1M119 237h1M177 237h6M73 238h1M119 238h1M177 238h6M73 239h1M119 239h1M177 239h6M73 240h1M119 240h1M177 240h6M73 241h1M119 241h1M177 241h6"/>
<path stroke="#50ffaf" d="M34 0h1M58 0h4M137 0h2M188 0h1M208 0h10M237 0h6M34 1h1M58 1h4M137 1h2M188 1h1M208 1h10M237 1h6M34 2h1M58 2h4M137 2h2M188 2h1M208 2h10M237 2h6M34 3h1M58 3h4M137 3h2M188 3h1M208 3h10M237 3h6M34 4h1M58 4h4M137 4h2M188 4h1M208 4h10M237 4h6M34 5h1M58 5h4M137 5h2M188 5h1M208 5h10M237 5h6M34 6h1M58 6h4M137 6h2M188 6h1M208 6h10M237 6h6M34 7h1M58 7h4M137 7h2M188 7h1M208 7h10M237 7h6M34 8h1M58 8h4M137 8h2M208 8h10M237 8h6M34 9h1M58 9h4M136 9h2M208 9h10M237 9h5M34 10h1M57 10h5M136 10h2M187 10h1M208 10h11M237 10h5M34 11h2M57 11h5M136 11h2M187 11h1M208 11h11M237 11h4M35 12h1M56 12h6M136 12h1M208 12h12M237 12h4M35 13h2M55 13h7M136 13h1M186 13h1M208 13h13M237 13h4M36 14h2M54 14h8M135 14h2M186 14h1M208 14h14M237 14h4M36 15h3M54 15h8M135 15h2M208 15h14M237 15h4M37 16h3M53 16h9M136 16h1M208 16h15M237 16h4M38 17h3M53 17h8M136 17h1M185 17h1M208 17h15M237 17h4M39 18h4M52 18h8M136 18h2M185 18h1M208 18h15M237 18h4M40 19h7M49 19h11M137 19h1M185 19h1M208 19h16M237 19h4M42 20h17M137 20h2M185 20h1M207 20h17M237 20h4M48 21h11M137 21h4M185 21h1M207 21h17M237 21h4M54 22h4M137 22h8M185 22h1M207 22h16M237 22h4M54 23h4M137 23h9M185 23h1M207 23h15M237 23h4M54 24h4M137 24h10M185 24h1M207 24h14M237 24h4M54 25h4M137 25h10M185 25h1M207 25h13M237 25h5M54 26h4M137 26h10M185 26h1M207 26h12M237 26h5M53 27h4M137 27h9M185 27h1M208 27h11M237 27h5M51 28h4M137 28h9M211 28h7M236 28h7M49 29h3M137 29h6M186 29h1M216 29h2M234 29h9M48 30h2M137 30h3M219 30h24M47 31h2M137 31h3M154 31h1M187 31h1M219 31h23M46 32h2M138 32h3M158 32h1M188 32h1M220 32h21M0 33h31M45 33h2M139 33h4M188 33h2M222 33h19M0 34h14M29 34h4M44 34h2M142 34h4M188 34h2M232 34h9M31 35h3M44 35h1M145 35h2M156 35h1M188 35h2M234 35h7M33 36h2M43 36h2M147 36h1M187 36h2M236 36h5M34 37h4M41 37h3M148 37h1M186 37h2M237 37h4M36 38h7M148 38h1M185 38h3M237 38h4M148 39h1M184 39h3M238 39h3M148 40h2M183 40h4M238 40h3M149 41h1M182 41h6M239 41h2M149 42h2M182 42h9M239 42h2M151 43h2M182 43h10M239 43h2M153 44h2M182 44h12M238 44h2M155 45h1M182 45h5M192 45h3M238 45h2M156 46h1M182 46h3M193 46h3M238 46h1M157 47h1M194 47h3M237 47h2M158 48h1M195 48h2M237 48h1M158 49h1M196 49h2M208 49h3M236 49h2M159 50h1M196 50h2M208 50h5M236 50h2M159 51h1M197 51h1M209 51h6M236 51h2M160 52h1M197 52h2M209 52h9M236 52h2M160 53h1M198 53h1M209 53h4M216 53h4M237 53h2M160 54h1M198 54h2M209 54h3M219 54h2M237 54h3M160 55h1M198 55h2M209 55h3M220 55h2M237 55h3M0 56h8M160 56h1M197 56h2M209 56h2M221 56h1M237 56h3M8 57h2M159 57h1M196 57h2M208 57h3M221 57h2M237 57h4M10 58h1M157 58h2M195 58h1M208 58h2M221 58h2M238 58h3M155 59h2M194 59h1M207 59h2M221 59h2M238 59h3M194 60h1M207 60h2M221 60h2M238 60h4M11 61h1M150 61h2M206 61h2M221 61h2M240 61h3M12 62h1M148 62h2M206 62h2M222 62h1M242 62h3M12 63h1M147 63h2M205 63h2M222 63h1M244 63h2M12 64h1M147 64h1M191 64h1M204 64h2M222 64h1M246 64h2M11 65h2M147 65h1M191 65h1M202 65h3M222 65h1M247 65h2M11 66h2M147 66h1M201 66h2M222 66h1M249 66h1M11 67h2M147 67h1M200 67h2M221 67h1M250 67h1M11 68h2M147 68h1M199 68h1M221 68h1M250 68h1M12 69h2M194 69h1M198 69h1M220 69h1M13 70h2M195 70h3M219 70h1M253 70h1M14 71h2M146 71h1M218 71h1M15 72h2M146 72h1M216 72h1M253 72h1M15 73h2M62 73h7M193 73h1M215 73h1M15 74h3M59 74h2M67 74h2M145 74h1M196 74h1M0 75h19M57 75h1M250 75h1M0 76h20M55 76h2M67 76h1M142 76h1M213 76h1M248 76h1M0 77h22M53 77h1M66 77h1M139 77h1M245 77h2M0 78h25M50 78h2M65 78h1M137 78h1M185 78h2M242 78h3M12 79h19M33 79h4M43 79h4M64 79h1M136 79h1M183 79h1M187 79h1M241 79h2M14 80h15M63 80h1M135 80h1M182 80h1M186 80h1M241 80h2M15 81h9M135 81h1M185 81h1M241 81h2M16 82h7M180 82h1M213 82h1M242 82h2M16 83h6M62 83h1M134 83h1M178 83h1M242 83h2M18 84h2M62 84h1M134 84h1M176 84h2M183 84h1M243 84h2M133 85h1M175 85h1M244 85h2M63 86h1M133 86h1M174 86h1M182 86h1M245 86h2M132 87h1M173 87h1M246 87h2M131 88h1M172 88h1M247 88h2M66 89h1M130 89h2M172 89h1M181 89h1M216 89h1M248 89h1M130 90h1M172 90h1M181 90h1M248 90h2M70 91h1M130 91h1M172 91h1M248 91h2M80 92h2M129 92h1M172 92h1M249 92h1M83 93h2M129 93h1M172 93h1M249 93h1M85 94h1M95 94h1M129 94h1M172 94h2M249 94h1M89 95h1M129 95h1M173 95h1M181 95h1M217 95h1M249 95h1M89 96h2M129 96h1M174 96h1M177 96h1M181 96h1M217 96h1M249 96h1M90 97h1M129 97h1M175 97h3M217 97h1M249 97h1M90 98h2M129 98h1M217 98h1M249 98h1M129 99h1M249 99h1M91 100h1M129 100h1M178 100h1M249 100h1M91 101h1M129 101h1M179 101h1M249 101h2M91 102h1M129 102h1M149 102h1M181 102h1M218 102h1M250 102h1M90 103h1M129 103h1M250 103h2M90 104h1M128 104h1M251 104h1M90 105h1M128 105h1M251 105h2M89 106h2M128 106h1M251 106h2M89 107h2M127 107h1M252 107h1M89 108h2M127 108h1M219 108h1M252 108h1M89 109h2M126 109h1M252 109h1M89 110h4M125 110h2M252 110h1M16 111h1M89 111h12M124 111h2M251 111h2M83 112h1M88 112h17M117 112h8M251 112h2M17 113h1M83 113h1M86 113h6M105 113h10M250 113h2M85 114h6M220 114h1M249 114h2M85 115h1M89 115h2M220 115h1M248 115h2M0 116h13M84 116h1M89 116h2M223 116h1M247 116h2M261 116h9M84 117h1M89 117h2M123 117h1M246 117h2M259 117h11M84 118h1M89 118h2M225 118h1M245 118h2M258 118h1M84 119h2M89 119h1M124 119h1M226 119h1M244 119h2M257 119h2M85 120h5M228 120h3M242 120h3M257 120h1M85 121h4M236 121h6M257 121h1M80 122h1M257 122h1M257 123h1M258 124h1M80 125h1M83 125h1M259 125h11M181 127h1M181 129h1M29 133h1M27 134h1M31 135h1M34 135h1M33 136h1M37 137h1M128 138h1M42 140h1M128 140h1M39 141h1M40 143h1M40 144h1M45 144h1M39 145h1M39 146h1M48 146h1M38 148h1M49 148h1M49 149h1M37 150h1M49 150h1M37 151h1M49 151h1M37 152h1M49 152h1M37 153h1M49 153h1M37 154h1M48 154h1M38 155h1M47 155h1M38 156h1M46 156h1M39 157h1M44 157h1M30 158h1M41 158h3M66 162h2M70 162h4M66 163h1M72 163h2M66 164h1M72 164h2M66 165h2M70 165h3M67 166h4M8 167h1M10 167h1M8 168h1M10 168h1M71 172h1M73 172h1M70 173h1M69 174h1M66 178h1M71 179h1M71 180h1M64 181h1M71 181h1M64 182h1M71 182h1M63 183h1M61 184h2M70 184h1M59 185h1M70 185h1M79 185h1M58 186h1M69 186h1M126 186h1M57 187h1M68 187h1M126 187h1M8 188h2M57 188h1M67 188h1M11 189h1M66 189h1M12 190h1M54 190h3M58 190h1M64 190h2M53 191h1M57 191h1M59 191h2M62 191h2M53 192h1M57 192h1M60 192h3M257 192h1M259 192h1M56 193h1M228 193h1M259 193h1M12 194h1M11 195h1M120 195h1M122 195h1M9 196h1M13 196h1M14 198h1M120 198h1M122 198h1M15 202h1M48 202h2M47 203h1M17 205h1M50 205h1M75 205h4M18 206h1M73 206h2M79 206h3M18 207h1M72 207h1M81 207h2M123 207h1M72 208h1M83 208h1M72 209h1M84 209h1M20 210h1M85 210h8M73 211h1M92 211h2M123 211h1M127 211h1M50 212h1M74 212h2M94 212h1M124 212h3M76 213h1M95 213h1M216 213h1M76 214h1M96 214h1M53 215h1M77 215h1M96 215h2M77 216h1M97 216h1M98 217h1M52 218h1M76 218h1M98 218h1M76 219h1M99 219h1M217 219h1M99 220h2M75 221h1M100 221h1M218 221h1M101 222h1M74 223h1M102 223h1M219 223h1M73 224h1M30 225h1M73 225h1M103 225h1M30 226h1M104 227h1M73 228h1M104 228h1M112 228h3M73 229h1M104 229h1M110 229h2M115 229h2M73 230h1M105 230h1M109 230h1M116 230h2M74 231h1M105 231h1M108 231h1M117 231h1M74 232h1M105 232h4M117 232h2M74 233h1M105 233h3M118 233h1M74 234h1M105 234h3M118 234h1M74 235h1M105 235h3M118 235h1M74 236h1M105 236h3M118 236h1M74 237h1M105 237h3M118 237h1M74 238h1M105 238h3M118 238h1M74 239h1M105 239h3M118 239h1M74 240h1M105 240h3M118 240h1M74 241h1M105 241h3M118 241h1"/>
<path stroke="#60ff9f" d="M35 0h2M52 0h6M62 0h1M135 0h2M207 0h1M218 0h3M235 0h2M35 1h2M52 1h6M62 1h1M135 1h2M207 1h1M218 1h3M235 1h2M35 2h2M52 2h6M62 2h1M135 2h2M207 2h1M218 2h3M235 2h2M35 3h2M52 3h6M62 3h1M135 3h2M207 3h1M218 3h3M235 3h2M35 4h2M52 4h6M62 4h1M135 4h2M207 4h1M218 4h3M235 4h2M35 5h2M52 5h6M62 5h1M135 5h2M207 5h1M218 5h3M235 5h2M35 6h2M52 6h6M62 6h1M135 6h2M207 6h1M218 6h3M235 6h2M35 7h2M52 7h6M62 7h1M135 7h2M207 7h1M218 7h3M235 7h2M35 8h2M52 8h6M62 8h1M135 8h2M188 8h1M207 8h1M218 8h3M235 8h2M35 9h2M52 9h6M62 9h1M135 9h1M188 9h1M207 9h1M218 9h3M235 9h2M35 10h2M52 10h5M62 10h2M135 10h1M188 10h1M207 10h1M219 10h3M235 10h2M36 11h2M52 11h5M62 11h2M135 11h1M207 11h1M219 11h3M235 11h2M36 12h3M52 12h4M62 12h2M134 12h2M187 12h1M207 12h1M220 12h3M235 12h2M37 13h3M52 13h3M62 13h2M134 13h2M207 13h1M221 13h2M234 13h3M38 14h3M52 14h2M62 14h2M134 14h1M207 14h1M222 14h2M234 14h3M39 15h3M51 15h3M62 15h2M134 15h1M186 15h1M207 15h1M222 15h2M234 15h3M40 16h4M51 16h2M62 16h2M134 16h2M186 16h1M206 16h2M223 16h2M234 16h3M41 17h5M49 17h4M61 17h3M135 17h1M206 17h2M223 17h2M234 17h3M43 18h9M60 18h3M135 18h1M206 18h2M223 18h3M234 18h3M47 19h2M60 19h3M135 19h2M206 19h2M224 19h3M233 19h4M59 20h3M136 20h1M206 20h1M224 20h3M233 20h4M59 21h3M136 21h1M205 21h2M224 21h4M232 21h5M58 22h3M136 22h1M205 22h2M223 22h6M232 22h5M58 23h3M136 23h1M205 23h2M222 23h15M58 24h3M136 24h1M204 24h3M221 24h16M58 25h3M135 25h2M204 25h3M220 25h17M58 26h3M135 26h2M204 26h3M219 26h18M57 27h5M135 27h2M204 27h4M219 27h18M55 28h7M135 28h2M186 28h1M205 28h6M218 28h18M52 29h11M135 29h2M208 29h8M218 29h16M50 30h4M56 30h8M135 30h2M187 30h1M211 30h8M49 31h3M58 31h7M135 31h2M188 31h1M213 31h6M48 32h2M59 32h7M136 32h2M189 32h1M214 32h6M47 33h2M60 33h5M137 33h2M158 33h1M190 33h1M215 33h7M14 34h15M46 34h2M61 34h3M138 34h4M190 34h2M216 34h16M0 35h21M26 35h5M45 35h2M142 35h3M190 35h1M226 35h8M0 36h13M31 36h2M45 36h1M145 36h2M189 36h2M231 36h5M0 37h10M32 37h2M44 37h2M147 37h1M188 37h3M233 37h4M34 38h2M43 38h2M147 38h1M188 38h3M234 38h3M36 39h8M147 39h1M187 39h4M235 39h3M39 40h3M147 40h1M187 40h5M236 40h2M147 41h2M188 41h5M236 41h3M147 42h2M191 42h3M237 42h2M147 43h4M192 43h4M237 43h2M152 44h1M194 44h3M208 44h4M237 44h1M154 45h1M195 45h4M206 45h7M236 45h2M196 46h3M206 46h8M236 46h2M197 47h2M205 47h9M235 47h2M157 48h1M197 48h2M205 48h10M235 48h2M198 49h2M205 49h3M211 49h5M234 49h2M158 50h1M198 50h2M205 50h3M213 50h4M234 50h2M198 51h2M205 51h4M215 51h4M234 51h2M159 52h1M199 52h2M205 52h4M218 52h3M234 52h2M159 53h1M199 53h3M205 53h4M220 53h3M234 53h3M200 54h2M205 54h4M221 54h3M234 54h3M0 55h9M200 55h3M205 55h4M222 55h2M234 55h3M8 56h2M159 56h1M199 56h3M205 56h4M222 56h2M234 56h3M10 57h1M158 57h1M198 57h3M205 57h3M223 57h1M234 57h3M156 58h1M196 58h3M205 58h3M223 58h1M235 58h3M11 59h1M195 59h2M205 59h2M223 59h1M235 59h3M11 60h1M153 60h1M195 60h1M205 60h2M223 60h1M235 60h3M12 61h1M147 61h3M194 61h1M204 61h2M223 61h1M236 61h4M146 62h2M194 62h1M204 62h2M223 62h1M238 62h4M13 63h1M146 63h1M194 63h1M203 63h2M223 63h1M241 63h3M13 64h1M146 64h1M202 64h2M223 64h1M244 64h2M13 65h1M146 65h1M201 65h1M223 65h1M245 65h2M13 66h1M146 66h1M191 66h1M200 66h1M247 66h2M13 67h1M146 67h1M194 67h1M199 67h1M222 67h1M248 67h2M13 68h2M146 68h1M194 68h1M198 68h1M222 68h1M249 68h1M14 69h2M146 69h1M195 69h3M221 69h1M15 70h2M69 70h1M146 70h1M220 70h1M16 71h2M66 71h4M219 71h1M253 71h1M17 72h1M63 72h7M145 72h1M17 73h2M59 73h3M69 73h1M145 73h1M196 73h1M252 73h1M18 74h2M57 74h2M144 74h1M187 74h1M250 74h1M19 75h2M56 75h1M143 75h1M214 75h1M248 75h2M20 76h4M54 76h1M140 76h2M246 76h2M22 77h7M51 77h2M67 77h1M137 77h2M188 77h1M213 77h1M242 77h3M25 78h8M47 78h3M135 78h2M240 78h2M37 79h6M135 79h1M184 79h1M240 79h1M134 80h1M240 80h1M63 81h1M134 81h1M182 81h1M240 81h1M134 82h1M181 82h1M184 82h1M241 82h1M133 83h1M179 83h2M214 83h1M241 83h1M133 84h1M178 84h2M242 84h1M63 85h1M132 85h1M176 85h2M215 85h1M243 85h1M131 86h2M175 86h2M244 86h1M64 87h1M130 87h2M174 87h1M245 87h1M65 88h1M129 88h2M173 88h2M216 88h1M245 88h2M97 89h5M129 89h1M173 89h1M246 89h2M68 90h1M95 90h7M129 90h1M173 90h1M217 90h1M247 90h1M71 91h2M95 91h6M128 91h2M173 91h1M217 91h1M247 91h1M82 92h2M128 92h1M173 92h1M217 92h1M247 92h2M85 93h2M128 93h1M173 93h1M217 93h1M247 93h2M128 94h1M174 94h1M177 94h1M217 94h1M247 94h2M128 95h1M174 95h4M247 95h2M91 96h2M128 96h1M175 96h2M247 96h2M91 97h2M128 97h1M181 97h1M247 97h2M128 98h1M181 98h1M247 98h2M128 99h1M178 99h1M247 99h2M92 100h1M128 100h1M148 100h2M247 100h2M92 101h1M128 101h1M148 101h1M180 101h2M218 101h1M248 101h1M92 102h1M128 102h1M248 102h2M91 103h2M128 103h1M248 103h2M91 104h1M249 104h2M91 105h1M127 105h1M249 105h2M91 106h1M127 106h1M250 106h1M91 107h1M126 107h1M219 107h1M250 107h2M91 108h2M126 108h1M250 108h2M91 109h5M125 109h1M250 109h2M14 110h1M93 110h10M124 110h1M250 110h2M101 111h8M120 111h4M250 111h1M80 112h1M105 112h12M249 112h2M80 113h1M220 113h1M249 113h1M248 114h1M88 115h1M221 115h1M247 115h1M13 116h2M245 116h2M224 117h1M244 117h2M243 118h2M259 118h11M88 119h1M227 119h1M241 119h3M259 119h1M262 119h8M122 120h1M231 120h11M258 120h1M258 121h1M81 122h2M258 122h1M83 123h1M258 123h2M262 123h8M83 124h1M259 124h11M81 125h2M181 128h1M19 130h1M21 130h1M23 131h1M23 132h1M25 132h1M25 133h1M28 133h1M28 134h1M32 134h1M32 135h1M35 136h1M36 139h1M40 139h1M38 140h1M43 141h1M41 142h1M41 143h2M41 144h1M44 144h1M40 145h1M45 145h2M47 146h1M39 147h1M48 147h1M48 148h1M38 149h1M48 153h1M38 154h1M47 154h1M46 155h1M39 156h1M45 156h1M40 157h4M67 163h1M71 163h1M67 164h1M70 164h2M68 165h2M9 167h1M9 168h1M72 172h1M73 175h1M72 176h1M67 177h1M71 177h1M70 179h1M70 180h1M70 181h1M70 182h1M64 183h1M70 183h1M63 184h1M69 184h1M60 185h2M69 185h1M59 186h1M68 186h1M58 187h1M67 187h1M127 187h1M58 188h1M66 188h1M0 189h8M58 189h2M64 189h2M59 190h5M12 191h1M56 191h1M61 191h1M258 192h1M12 193h1M54 193h2M0 195h8M10 195h1M121 195h1M121 198h1M14 199h1M232 199h2M16 203h1M50 203h1M47 204h1M50 204h1M48 205h1M75 206h4M124 206h3M48 207h1M73 207h2M79 207h2M127 207h1M49 208h1M73 208h1M81 208h2M123 208h1M20 209h1M73 209h1M82 209h2M123 209h1M73 210h1M83 210h2M123 210h1M74 211h2M85 211h7M124 211h1M52 212h1M76 212h1M93 212h1M77 213h1M94 213h1M77 214h2M95 214h1M216 214h1M51 215h1M78 215h1M95 215h1M216 215h1M78 216h1M96 216h1M216 216h1M77 217h1M96 217h2M54 218h1M77 218h1M97 218h1M54 219h1M77 219h1M97 219h2M76 220h1M98 220h1M76 221h1M99 221h1M75 222h1M100 222h1M75 223h1M101 223h1M74 224h1M102 224h1M102 225h1M73 226h1M103 226h1M73 227h1M103 227h1M103 228h1M74 229h1M112 229h3M74 230h1M104 230h1M110 230h2M114 230h2M75 231h1M104 231h1M109 231h1M116 231h1M75 232h1M104 232h1M109 232h1M116 232h1M75 233h1M104 233h1M108 233h2M117 233h1M75 234h1M104 234h1M108 234h1M117 234h1M75 235h1M104 235h1M108 235h1M117 235h1M75 236h1M104 236h1M108 236h1M117 236h1M75 237h1M104 237h1M108 237h1M117 237h1M75 238h1M104 238h1M108 238h1M117 238h1M75 239h1M104 239h1M108 239h1M117 239h1M75 240h1M104 240h1M108 240h1M117 240h1M75 241h1M104 241h1M108 241h1M117 241h1"/>
<path stroke="#70ff8f" d="M37 0h2M45 0h7M63 0h2M133 0h2M189 0h1M205 0h2M221 0h2M233 0h2M37 1h2M45 1h7M63 1h2M133 1h2M189 1h1M205 1h2M221 1h2M233 1h2M37 2h2M45 2h7M63 2h2M133 2h2M189 2h1M205 2h2M221 2h2M233 2h2M37 3h2M45 3h7M63 3h2M133 3h2M189 3h1M205 3h2M221 3h2M233 3h2M37 4h2M45 4h7M63 4h2M133 4h2M189 4h1M205 4h2M221 4h2M233 4h2M37 5h2M45 5h7M63 5h2M133 5h2M189 5h1M205 5h2M221 5h2M233 5h2M37 6h2M45 6h7M63 6h2M133 6h2M189 6h1M205 6h2M221 6h2M233 6h2M37 7h2M45 7h7M63 7h2M133 7h2M189 7h1M205 7h2M221 7h2M233 7h2M37 8h2M45 8h7M63 8h2M133 8h2M189 8h1M205 8h2M221 8h2M233 8h2M37 9h3M45 9h7M63 9h2M133 9h2M189 9h1M205 9h2M221 9h2M233 9h2M37 10h4M45 10h7M64 10h1M133 10h2M189 10h1M205 10h2M222 10h2M233 10h2M38 11h4M45 11h7M64 11h1M133 11h2M188 11h1M205 11h2M222 11h2M232 11h3M39 12h13M64 12h1M133 12h1M188 12h1M205 12h2M223 12h2M232 12h3M40 13h12M64 13h1M133 13h1M187 13h1M205 13h2M223 13h2M232 13h2M41 14h11M64 14h2M133 14h1M187 14h1M205 14h2M224 14h2M231 14h3M42 15h9M64 15h2M133 15h1M205 15h2M224 15h3M231 15h3M44 16h7M64 16h2M133 16h1M205 16h1M225 16h3M230 16h4M46 17h3M64 17h2M134 17h1M186 17h1M205 17h1M225 17h9M63 18h3M134 18h1M186 18h1M205 18h1M226 18h8M63 19h2M134 19h1M204 19h2M227 19h6M62 20h3M135 20h1M204 20h2M227 20h6M62 21h2M135 21h1M204 21h1M228 21h4M61 22h3M135 22h1M203 22h2M229 22h3M61 23h3M134 23h2M203 23h2M61 24h2M134 24h2M202 24h2M61 25h2M134 25h1M202 25h2M61 26h2M134 26h1M202 26h2M62 27h2M134 27h1M202 27h2M62 28h2M134 28h1M202 28h3M63 29h2M134 29h1M187 29h1M203 29h5M54 30h2M64 30h3M134 30h1M204 30h7M52 31h6M65 31h4M134 31h1M157 31h1M189 31h1M208 31h5M50 32h3M56 32h3M66 32h5M134 32h2M190 32h2M210 32h4M49 33h2M57 33h3M65 33h7M135 33h2M191 33h2M211 33h4M48 34h2M58 34h3M64 34h6M136 34h2M154 34h1M192 34h2M212 34h4M21 35h5M47 35h2M60 35h7M137 35h5M191 35h3M212 35h14M13 36h18M46 36h2M140 36h5M191 36h3M212 36h19M10 37h5M30 37h2M46 37h2M145 37h2M191 37h3M212 37h8M229 37h4M0 38h13M32 38h2M45 38h2M146 38h1M191 38h3M211 38h7M231 38h3M0 39h9M34 39h2M44 39h2M146 39h1M191 39h3M211 39h6M232 39h3M36 40h3M42 40h3M146 40h1M192 40h3M210 40h7M233 40h3M38 41h5M145 41h2M193 41h4M208 41h8M234 41h2M145 42h2M194 42h6M204 42h12M235 42h2M144 43h3M196 43h20M235 43h2M144 44h8M197 44h11M212 44h4M235 44h2M144 45h2M153 45h1M199 45h7M213 45h3M234 45h2M155 46h1M199 46h7M214 46h2M234 46h2M156 47h1M199 47h6M214 47h3M233 47h2M199 48h6M215 48h2M232 48h3M157 49h1M200 49h5M216 49h3M232 49h2M200 50h5M217 50h3M231 50h3M158 51h1M200 51h5M219 51h4M231 51h3M158 52h1M201 52h4M221 52h3M231 52h3M0 53h9M202 53h3M223 53h2M231 53h3M0 54h10M159 54h1M202 54h3M224 54h2M231 54h3M9 55h1M159 55h1M203 55h2M224 55h2M231 55h3M10 56h1M158 56h1M202 56h3M224 56h2M232 56h2M11 57h1M157 57h1M201 57h4M224 57h2M232 57h2M11 58h1M155 58h1M199 58h6M224 58h1M232 58h3M154 59h1M197 59h8M224 59h1M232 59h3M12 60h1M146 60h6M196 60h2M202 60h3M224 60h1M233 60h2M146 61h1M195 61h2M202 61h2M224 61h1M233 61h3M13 62h1M145 62h1M195 62h1M201 62h3M224 62h1M234 62h4M14 63h1M73 63h2M145 63h1M195 63h1M200 63h3M224 63h1M235 63h6M14 64h1M72 64h3M145 64h1M194 64h1M200 64h2M224 64h1M241 64h3M14 65h1M71 65h4M194 65h1M199 65h2M243 65h2M14 66h1M71 66h4M194 66h1M198 66h2M245 66h2M14 67h2M70 67h5M191 67h1M195 67h4M223 67h1M247 67h1M15 68h1M69 68h5M191 68h1M195 68h3M223 68h1M248 68h1M16 69h1M68 69h6M145 69h1M222 69h1M252 69h1M17 70h1M66 70h3M70 70h4M145 70h1M194 70h1M221 70h1M18 71h1M64 71h2M70 71h3M145 71h1M192 71h1M18 72h2M60 72h3M70 72h2M217 72h1M19 73h2M57 73h2M70 73h1M144 73h1M216 73h1M20 74h2M56 74h1M69 74h1M143 74h1M195 74h1M215 74h1M249 74h1M21 75h5M54 75h2M68 75h1M142 75h1M247 75h1M24 76h4M52 76h2M139 76h1M242 76h4M29 77h2M49 77h2M135 77h2M240 77h2M33 78h3M44 78h3M66 78h1M134 78h1M213 78h1M239 78h1M65 79h1M134 79h1M185 79h2M213 79h1M239 79h1M64 80h1M133 80h1M183 80h1M239 80h1M133 81h1M239 81h1M63 82h1M132 82h2M239 82h2M63 83h1M132 83h1M181 83h1M183 83h1M240 83h1M63 84h1M131 84h2M180 84h1M240 84h2M130 85h2M178 85h2M182 85h1M241 85h2M64 86h1M129 86h2M177 86h3M242 86h2M128 87h2M175 87h5M216 87h1M243 87h2M95 88h10M128 88h1M175 88h1M181 88h1M217 88h1M244 88h1M67 89h1M93 89h4M102 89h3M127 89h2M174 89h1M217 89h1M245 89h1M69 90h1M93 90h2M102 90h3M127 90h2M174 90h1M245 90h2M73 91h2M78 91h4M92 91h3M101 91h3M127 91h1M174 91h1M178 91h1M218 91h1M245 91h2M84 92h2M90 92h13M127 92h1M174 92h2M177 92h2M245 92h2M87 93h13M127 93h1M174 93h5M245 93h2M96 94h2M127 94h1M175 94h2M178 94h1M245 94h2M127 95h1M178 95h1M246 95h1M93 96h2M127 96h1M178 96h1M246 96h1M93 97h2M127 97h1M178 97h1M218 97h1M246 97h1M94 98h1M127 98h1M178 98h1M218 98h1M246 98h1M91 99h1M127 99h1M181 99h1M246 99h1M179 100h1M181 100h1M246 100h1M93 101h1M149 101h1M246 101h2M93 102h1M127 102h1M247 102h1M93 103h1M127 103h1M247 103h1M92 104h2M127 104h1M247 104h2M92 105h2M219 105h1M248 105h1M92 106h2M126 106h1M219 106h1M248 106h2M92 107h3M248 107h2M93 108h9M125 108h1M248 108h2M12 109h1M96 109h12M124 109h1M248 109h2M103 110h11M122 110h2M248 110h2M109 111h11M220 111h1M248 111h2M16 112h1M220 112h1M248 112h1M247 113h2M246 114h2M87 115h1M222 115h1M245 115h2M88 116h1M224 116h1M243 116h2M225 117h1M242 117h2M88 118h1M122 118h1M226 118h1M241 118h2M86 119h2M228 119h2M239 119h2M260 119h2M259 120h2M262 120h8M259 121h1M262 121h8M259 122h1M262 122h8M80 123h1M260 123h2M80 124h1M21 131h1M27 133h1M29 134h1M31 134h1M35 137h2M38 138h1M40 141h1M44 142h1M42 144h2M41 145h1M44 145h1M40 146h1M46 146h1M47 147h1M39 148h1M48 149h1M38 150h1M48 150h1M38 151h1M48 151h1M38 152h1M48 152h1M38 153h1M47 153h1M39 155h1M45 155h1M40 156h2M43 156h2M89 160h1M68 162h1M70 163h1M69 175h1M68 176h1M70 178h1M69 179h1M65 180h1M69 180h1M68 181h2M68 182h2M68 183h2M64 184h1M68 184h1M62 185h3M67 185h2M60 186h2M66 186h2M127 186h1M59 187h2M65 187h2M59 188h2M64 188h2M8 189h3M60 189h4M11 190h1M54 191h2M12 192h1M54 192h1M56 192h1M11 194h1M8 195h2M120 196h1M122 196h1M120 197h1M122 197h1M232 200h2M49 205h1M47 207h1M75 207h4M74 208h1M79 208h2M127 208h1M48 209h1M50 209h1M74 209h1M80 209h2M127 209h1M49 210h1M74 210h1M81 210h2M127 210h1M50 211h1M76 211h2M82 211h3M125 211h2M77 212h2M85 212h4M92 212h1M52 213h1M78 213h2M92 213h2M51 214h1M79 214h1M93 214h2M79 215h1M94 215h1M53 216h1M79 216h1M95 216h1M52 217h1M78 217h1M95 217h1M78 218h1M96 218h1M78 219h1M96 219h1M77 220h1M97 220h1M77 221h1M98 221h1M76 222h1M99 222h1M76 223h1M100 223h1M75 224h1M101 224h1M74 225h1M74 226h1M74 227h1M74 228h1M75 229h1M103 229h1M75 230h1M103 230h1M112 230h2M76 231h1M110 231h2M114 231h2M76 232h1M110 232h1M115 232h1M76 233h1M110 233h1M115 233h2M76 234h1M109 234h1M116 234h1M76 235h1M109 235h1M116 235h1M76 236h1M109 236h1M116 236h1M76 237h1M109 237h1M116 237h1M76 238h1M109 238h1M116 238h1M76 239h1M109 239h1M116 239h1M76 240h1M109 240h1M116 240h1M76 241h1M109 241h1M116 241h1"/>
<path stroke="#80ff80" d="M39 0h6M65 0h1M131 0h2M190 0h1M204 0h1M223 0h2M231 0h2M39 1h6M65 1h1M131 1h2M190 1h1M204 1h1M223 1h2M231 1h2M39 2h6M65 2h1M131 2h2M190 2h1M204 2h1M223 2h2M231 2h2M39 3h6M65 3h1M131 3h2M190 3h1M204 3h1M223 3h2M231 3h2M39 4h6M65 4h1M131 4h2M190 4h1M204 4h1M223 4h2M231 4h2M39 5h6M65 5h1M131 5h2M190 5h1M204 5h1M223 5h2M231 5h2M39 6h6M65 6h1M131 6h2M190 6h1M204 6h1M223 6h2M231 6h2M39 7h6M65 7h1M131 7h2M190 7h1M204 7h1M223 7h2M231 7h2M39 8h6M65 8h1M131 8h2M190 8h1M204 8h1M223 8h2M231 8h2M40 9h5M65 9h1M131 9h2M190 9h1M204 9h1M223 9h2M231 9h2M41 10h4M65 10h1M131 10h2M204 10h1M224 10h1M231 10h2M42 11h3M65 11h1M132 11h1M189 11h1M204 11h1M224 11h2M230 11h2M65 12h2M132 12h1M204 12h1M225 12h2M230 12h2M65 13h2M132 13h1M188 13h1M204 13h1M225 13h7M66 14h2M132 14h1M204 14h1M226 14h5M66 15h2M132 15h1M187 15h1M204 15h1M227 15h4M66 16h2M132 16h1M204 16h1M228 16h2M66 17h2M133 17h1M204 17h1M66 18h2M133 18h1M203 18h2M65 19h3M133 19h1M186 19h1M203 19h1M65 20h3M133 20h2M186 20h1M203 20h1M64 21h3M133 21h2M186 21h1M202 21h2M64 22h3M133 22h2M186 22h1M202 22h1M64 23h2M133 23h1M186 23h1M201 23h2M63 24h3M133 24h1M186 24h1M201 24h1M63 25h2M133 25h1M186 25h1M201 25h1M63 26h2M132 26h2M200 26h2M64 27h2M132 27h2M200 27h2M64 28h3M132 28h2M200 28h2M65 29h3M132 29h2M200 29h3M67 30h4M132 30h2M188 30h1M200 30h4M69 31h6M132 31h2M190 31h2M200 31h8M53 32h3M71 32h5M133 32h1M192 32h3M202 32h8M51 33h6M72 33h4M134 33h1M193 33h3M206 33h5M50 34h4M55 34h3M70 34h5M135 34h1M194 34h3M207 34h5M49 35h3M57 35h3M67 35h6M136 35h1M194 35h3M208 35h4M48 36h3M58 36h13M137 36h3M194 36h3M208 36h4M15 37h15M48 37h2M60 37h8M138 37h7M194 37h3M208 37h4M220 37h9M13 38h4M30 38h2M47 38h2M144 38h2M194 38h3M207 38h4M218 38h13M9 39h5M32 39h2M46 39h2M144 39h2M194 39h4M206 39h5M217 39h3M228 39h4M0 40h11M34 40h2M45 40h2M144 40h2M195 40h5M204 40h6M217 40h2M230 40h3M36 41h2M43 41h3M143 41h2M197 41h11M216 41h2M231 41h3M38 42h6M142 42h3M200 42h4M216 42h2M232 42h3M142 43h2M216 43h1M232 43h3M141 44h3M216 44h1M232 44h3M141 45h3M146 45h3M216 45h2M232 45h2M141 46h6M154 46h1M216 46h2M231 46h3M140 47h6M155 47h1M217 47h2M230 47h3M140 48h5M156 48h1M217 48h3M229 48h3M141 49h3M219 49h3M228 49h4M0 50h9M157 50h1M220 50h11M0 51h10M157 51h1M223 51h8M0 52h10M224 52h7M9 53h1M158 53h1M225 53h6M10 54h1M158 54h1M226 54h5M10 55h1M158 55h1M226 55h5M11 56h1M157 56h1M226 56h6M156 57h1M226 57h6M12 58h1M225 58h2M230 58h2M12 59h1M146 59h3M225 59h2M230 59h2M75 60h1M145 60h1M152 60h1M198 60h4M225 60h1M231 60h2M13 61h1M73 61h4M145 61h1M192 61h1M197 61h5M225 61h1M231 61h2M72 62h5M196 62h5M225 62h1M232 62h2M72 63h1M75 63h2M196 63h4M225 63h1M233 63h2M15 64h1M71 64h1M75 64h1M195 64h5M225 64h1M233 64h8M15 65h1M70 65h1M75 65h1M145 65h1M195 65h4M234 65h4M241 65h2M15 66h1M69 66h2M75 66h1M145 66h1M195 66h3M243 66h2M16 67h1M68 67h2M75 67h1M145 67h1M245 67h2M16 68h2M67 68h2M74 68h1M145 68h1M224 68h1M247 68h1M17 69h2M66 69h2M74 69h1M223 69h2M18 70h1M64 70h2M74 70h1M128 70h2M222 70h2M19 71h1M62 71h2M73 71h1M127 71h4M220 71h2M20 72h1M58 72h2M72 72h1M127 72h4M144 72h1M195 72h1M218 72h1M21 73h1M56 73h1M127 73h4M22 74h3M55 74h1M127 74h4M142 74h1M194 74h1M248 74h1M26 75h1M53 75h1M141 75h1M245 75h2M28 76h1M51 76h1M68 76h1M136 76h3M214 76h1M240 76h2M31 77h2M47 77h2M68 77h1M133 77h2M238 77h2M36 78h8M67 78h1M133 78h1M238 78h1M132 79h2M238 79h1M132 80h1M184 80h2M213 80h1M238 80h1M64 81h1M131 81h2M183 81h1M213 81h1M238 81h1M130 82h2M182 82h1M238 82h1M129 83h3M239 83h1M127 84h4M215 84h1M239 84h1M64 85h1M127 85h3M180 85h1M240 85h1M102 86h3M127 86h2M241 86h1M65 87h1M94 87h12M126 87h2M181 87h1M241 87h2M66 88h1M92 88h3M105 88h1M126 88h2M176 88h4M242 88h2M68 89h1M91 89h2M105 89h1M126 89h1M175 89h4M218 89h1M243 89h2M70 90h1M91 90h2M105 90h1M126 90h1M175 90h4M218 90h1M243 90h2M75 91h3M82 91h3M89 91h3M104 91h1M126 91h1M175 91h3M244 91h1M86 92h4M103 92h2M126 92h1M176 92h1M218 92h1M244 92h1M100 93h4M126 93h1M218 93h1M244 93h1M98 94h3M126 94h1M218 94h1M244 94h1M97 95h2M126 95h1M218 95h1M244 95h2M95 96h2M126 96h1M218 96h1M244 96h2M95 97h1M126 97h1M244 97h2M93 98h1M95 98h1M245 98h1M179 99h1M218 99h1M245 99h1M127 100h1M180 100h1M218 100h1M245 100h1M94 101h1M127 101h1M245 101h1M94 102h1M245 102h2M94 103h1M126 103h1M245 103h2M94 104h1M126 104h1M219 104h1M246 104h1M94 105h2M126 105h1M246 105h2M94 106h3M125 106h1M246 106h2M95 107h15M125 107h1M246 107h2M102 108h11M124 108h1M246 108h2M108 109h6M122 109h2M246 109h2M114 110h8M220 110h1M246 110h2M15 111h1M246 111h2M82 112h1M245 112h3M245 113h2M221 114h1M244 114h2M9 115h5M86 115h1M223 115h1M243 115h2M17 116h1M85 116h1M242 116h1M88 117h1M241 117h1M85 118h1M227 118h1M239 118h2M122 119h1M230 119h9M123 120h1M261 120h1M260 121h2M260 122h2M82 123h1M82 124h1M20 130h1M22 131h1M24 132h1M26 133h1M30 134h1M33 135h1M34 136h1M35 138h1M37 139h1M39 139h1M128 139h1M41 140h1M43 143h1M42 145h2M41 146h1M45 146h1M40 147h1M46 147h1M47 148h1M39 149h1M47 149h1M39 150h1M47 150h1M47 152h1M39 154h1M46 154h1M40 155h1M44 155h1M42 156h1M69 162h1M71 173h1M73 173h1M70 174h1M73 174h1M66 179h1M68 180h1M67 182h1M67 183h1M67 184h1M62 186h4M61 187h4M61 188h3M0 190h8M55 192h1M11 193h1M0 194h8M48 203h2M48 204h1M124 207h1M126 207h1M47 208h1M75 208h1M19 210h1M51 210h1M75 210h1M79 210h2M124 210h1M78 211h4M79 212h6M80 213h9M80 214h2M90 214h3M80 215h1M92 215h2M80 216h1M93 216h2M79 217h1M94 217h1M79 218h1M94 218h2M53 219h1M79 219h1M95 219h1M78 220h1M95 220h2M78 221h1M96 221h2M77 222h1M97 222h2M77 223h1M99 223h1M76 224h1M100 224h1M75 225h1M75 226h1M75 227h1M75 228h1M76 229h1M76 230h2M77 231h1M112 231h2M77 232h1M111 232h4M77 233h1M111 233h1M114 233h1M77 234h2M110 234h2M114 234h2M77 235h2M110 235h2M114 235h2M77 236h2M110 236h2M114 236h2M77 237h2M110 237h2M114 237h2M77 238h2M110 238h2M114 238h2M77 239h2M110 239h2M114 239h2M77 240h2M110 240h2M114 240h2M77 241h2M110 241h2M114 241h2"/>
<path stroke="#8fff70" d="M66 0h1M129 0h2M191 0h1M203 0h1M225 0h2M228 0h3M66 1h1M129 1h2M191 1h1M203 1h1M225 1h2M228 1h3M66 2h1M129 2h2M191 2h1M203 2h1M225 2h2M228 2h3M66 3h1M129 3h2M191 3h1M203 3h1M225 3h2M228 3h3M66 4h1M129 4h2M191 4h1M203 4h1M225 4h2M228 4h3M66 5h1M129 5h2M191 5h1M203 5h1M225 5h2M228 5h3M66 6h1M129 6h2M191 6h1M203 6h1M225 6h2M228 6h3M66 7h1M129 7h2M191 7h1M203 7h1M225 7h2M228 7h3M66 8h1M129 8h2M191 8h1M203 8h1M225 8h6M66 9h2M129 9h2M191 9h1M203 9h1M225 9h6M66 10h2M129 10h2M190 10h1M203 10h1M225 10h6M66 11h2M130 11h2M190 11h1M203 11h1M226 11h4M67 12h2M130 12h2M189 12h1M203 12h1M227 12h3M67 13h3M130 13h2M203 13h1M68 14h2M131 14h1M188 14h1M203 14h1M68 15h3M131 15h1M203 15h1M68 16h3M131 16h1M187 16h1M203 16h1M68 17h3M131 17h2M187 17h1M202 17h2M68 18h3M132 18h1M202 18h1M68 19h3M132 19h1M202 19h1M68 20h3M132 20h1M201 20h2M67 21h3M132 21h1M201 21h1M67 22h2M132 22h1M200 22h2M66 23h3M132 23h1M200 23h1M66 24h2M132 24h1M200 24h1M65 25h3M131 25h2M199 25h2M65 26h3M131 26h1M199 26h1M66 27h2M131 27h1M199 27h1M67 28h2M131 28h1M199 28h1M68 29h5M131 29h1M188 29h1M198 29h2M71 30h7M131 30h1M189 30h2M197 30h3M75 31h4M131 31h1M192 31h8M76 32h3M131 32h2M154 32h1M195 32h7M76 33h2M132 33h2M196 33h10M54 34h1M75 34h3M133 34h2M157 34h1M197 34h10M52 35h5M73 35h4M134 35h2M197 35h11M51 36h7M71 36h5M135 36h2M197 36h11M50 37h3M57 37h3M68 37h5M136 37h2M197 37h11M17 38h13M49 38h3M59 38h12M137 38h7M197 38h10M14 39h5M31 39h1M48 39h3M138 39h6M198 39h8M220 39h8M11 40h4M33 40h1M47 40h3M139 40h5M200 40h4M219 40h2M226 40h4M0 41h13M35 41h1M46 41h3M139 41h4M218 41h2M228 41h3M0 42h10M36 42h2M44 42h3M139 42h3M218 42h1M229 42h3M39 43h6M139 43h3M217 43h2M229 43h3M139 44h2M217 44h2M229 44h3M138 45h3M218 45h1M229 45h3M138 46h3M147 46h1M153 46h1M218 46h2M228 46h3M0 47h9M137 47h3M146 47h1M219 47h2M226 47h4M0 48h10M138 48h2M145 48h1M155 48h1M220 48h9M0 49h11M139 49h2M144 49h1M156 49h1M222 49h6M9 50h2M141 50h4M156 50h1M10 51h1M142 51h3M10 52h1M157 52h1M10 53h1M157 53h1M11 54h1M157 54h1M11 55h1M157 55h1M12 56h1M103 56h4M156 56h1M12 57h1M102 57h5M155 57h1M100 58h6M145 58h2M227 58h3M74 59h3M99 59h7M144 59h2M149 59h2M227 59h3M13 60h1M73 60h2M76 60h3M99 60h6M144 60h1M226 60h5M72 61h1M77 61h2M144 61h1M193 61h1M226 61h5M14 62h1M71 62h1M77 62h1M144 62h1M226 62h1M230 62h2M15 63h1M70 63h2M77 63h1M144 63h1M226 63h1M231 63h2M16 64h1M70 64h1M76 64h1M144 64h1M226 64h1M231 64h2M16 65h1M69 65h1M144 65h1M232 65h2M238 65h3M16 66h2M68 66h1M144 66h1M193 66h1M223 66h1M232 66h11M17 67h1M67 67h1M144 67h1M193 67h1M232 67h5M243 67h2M18 68h1M66 68h1M75 68h1M125 68h5M144 68h1M225 68h1M232 68h4M246 68h1M19 69h1M65 69h1M75 69h1M125 69h6M144 69h1M225 69h2M231 69h4M19 70h1M63 70h1M75 70h1M125 70h3M130 70h2M144 70h1M192 70h1M224 70h3M230 70h5M20 71h1M58 71h4M74 71h2M125 71h2M131 71h1M144 71h1M222 71h2M229 71h6M21 72h2M56 72h2M73 72h2M125 72h2M131 72h1M219 72h1M231 72h3M22 73h3M55 73h1M71 73h1M125 73h2M131 73h2M143 73h1M217 73h1M248 73h1M25 74h1M54 74h1M70 74h1M125 74h2M131 74h2M246 74h2M27 75h1M52 75h1M69 75h1M125 75h9M139 75h2M215 75h1M240 75h5M29 76h2M49 76h2M125 76h11M237 76h3M33 77h3M44 77h3M125 77h8M214 77h1M237 77h1M125 78h8M237 78h1M66 79h1M125 79h7M237 79h1M65 80h1M125 80h7M237 80h1M126 81h5M184 81h1M237 81h1M64 82h1M126 82h4M214 82h1M237 82h1M64 83h1M126 83h3M182 83h1M238 83h1M64 84h1M126 84h1M181 84h2M238 84h1M102 85h4M125 85h2M239 85h1M65 86h1M93 86h9M105 86h2M125 86h2M180 86h2M216 86h1M239 86h2M91 87h3M106 87h1M125 87h1M180 87h1M240 87h1M67 88h1M91 88h1M106 88h1M125 88h1M218 88h1M241 88h1M90 89h1M106 89h1M125 89h1M179 89h1M242 89h1M71 90h1M80 90h2M89 90h2M106 90h1M125 90h1M180 90h1M219 90h1M242 90h1M85 91h4M105 91h1M125 91h1M180 91h1M219 91h1M242 91h2M105 92h1M125 92h1M180 92h1M219 92h1M242 92h2M104 93h1M125 93h1M179 93h2M242 93h2M101 94h3M125 94h1M179 94h2M242 94h2M99 95h3M125 95h1M179 95h2M243 95h1M97 96h3M125 96h1M179 96h1M243 96h1M96 97h2M179 97h1M243 97h1M96 98h1M126 98h1M179 98h1M243 98h2M126 99h1M243 99h2M93 100h1M126 100h1M244 100h1M95 101h1M126 101h1M244 101h1M95 102h1M126 102h1M244 102h1M95 103h2M219 103h1M244 103h1M95 104h2M125 104h1M244 104h2M96 105h3M125 105h1M244 105h2M97 106h15M124 106h1M244 106h2M110 107h3M124 107h1M244 107h2M113 108h2M123 108h1M244 108h2M114 109h3M120 109h2M220 109h1M244 109h2M244 110h2M243 111h3M81 112h1M243 112h2M81 113h2M242 113h3M242 114h2M0 115h9M224 115h1M241 115h2M225 116h1M240 116h2M226 117h1M239 117h2M123 118h1M228 118h2M237 118h2M81 123h1M81 124h1M37 138h1M39 140h1M41 141h2M42 142h1M44 143h1M42 146h1M41 147h1M45 147h1M40 148h1M45 148h2M40 149h1M46 149h1M39 151h1M47 151h1M39 152h1M46 152h1M39 153h1M46 153h1M40 154h1M45 154h1M41 155h3M72 175h1M71 176h1M70 177h1M67 178h1M65 181h1M65 182h1M66 185h1M10 190h1M11 191h1M11 192h1M8 194h3M121 196h1M121 197h1M49 204h1M125 207h1M76 208h1M78 208h1M124 208h1M75 209h1M79 209h1M124 209h1M126 210h1M51 211h1M51 213h1M52 214h1M82 214h8M81 215h5M88 215h4M52 216h1M81 216h2M90 216h3M53 217h1M80 217h2M92 217h2M80 218h2M92 218h2M80 219h1M93 219h2M79 220h2M94 220h1M79 221h1M94 221h2M78 222h1M95 222h2M78 223h1M96 223h3M98 224h2M76 225h1M100 225h2M76 226h1M102 226h1M76 227h1M76 228h2M77 229h1M78 230h1M78 231h1M103 231h1M78 232h2M78 233h2M112 233h2M79 234h1M112 234h2M79 235h1M112 235h2M79 236h1M112 236h2M79 237h1M112 237h2M79 238h1M112 238h2M79 239h1M112 239h2M79 240h1M112 240h2M79 241h1M112 241h2"/>
<path stroke="#9fff60" d="M67 0h5M126 0h3M192 0h1M202 0h1M227 0h1M67 1h5M126 1h3M192 1h1M202 1h1M227 1h1M67 2h5M126 2h3M192 2h1M202 2h1M227 2h1M67 3h5M126 3h3M192 3h1M202 3h1M227 3h1M67 4h5M126 4h3M192 4h1M202 4h1M227 4h1M67 5h5M126 5h3M192 5h1M202 5h1M227 5h1M67 6h5M126 6h3M192 6h1M202 6h1M227 6h1M67 7h5M126 7h3M192 7h1M202 7h1M227 7h1M67 8h5M126 8h3M192 8h1M202 8h1M68 9h5M127 9h2M202 9h1M68 10h5M127 10h2M191 10h1M202 10h1M68 11h6M128 11h2M191 11h1M202 11h1M69 12h5M128 12h2M190 12h1M202 12h1M70 13h5M129 13h1M189 13h1M202 13h1M70 14h5M129 14h2M189 14h1M202 14h1M71 15h5M130 15h1M188 15h1M202 15h1M71 16h5M130 16h1M188 16h1M201 16h2M71 17h6M130 17h1M201 17h1M71 18h6M130 18h2M187 18h1M200 18h2M71 19h6M131 19h1M187 19h1M200 19h2M71 20h5M77 20h2M131 20h1M200 20h1M70 21h4M77 21h3M131 21h1M199 21h2M69 22h4M77 22h4M131 22h1M199 22h1M69 23h3M77 23h5M131 23h1M199 23h1M68 24h3M77 24h6M130 24h2M198 24h2M68 25h2M77 25h6M130 25h1M198 25h1M68 26h2M77 26h6M130 26h1M198 26h1M68 27h3M76 27h7M130 27h1M198 27h1M69 28h14M129 28h2M197 28h2M73 29h9M129 29h2M189 29h1M196 29h2M78 30h4M129 30h2M191 30h6M79 31h2M129 31h2M155 31h1M79 32h2M130 32h1M78 33h3M130 33h2M154 33h1M78 34h3M131 34h2M77 35h4M133 35h1M76 36h5M134 36h1M53 37h4M73 37h8M83 37h4M135 37h1M52 38h7M71 38h6M135 38h2M19 39h12M51 39h4M57 39h16M136 39h2M15 40h6M32 40h1M50 40h3M64 40h6M136 40h3M221 40h1M225 40h1M13 41h3M34 41h1M49 41h2M136 41h3M220 41h1M226 41h2M10 42h4M35 42h1M47 42h3M136 42h3M219 42h2M226 42h3M0 43h12M36 43h3M45 43h4M135 43h4M219 43h2M226 43h3M0 44h12M39 44h7M134 44h5M219 44h2M226 44h3M0 45h11M132 45h6M152 45h1M219 45h2M225 45h4M0 46h11M131 46h7M220 46h8M9 47h3M131 47h6M147 47h1M154 47h1M221 47h5M10 48h2M133 48h5M146 48h1M11 49h1M136 49h3M145 49h1M155 49h1M11 50h1M139 50h2M145 50h1M11 51h1M141 51h1M145 51h1M156 51h1M11 52h1M142 52h3M156 52h1M11 53h1M143 53h2M103 54h6M12 55h1M101 55h9M156 55h1M98 56h5M107 56h2M13 57h1M95 57h7M107 57h2M144 57h3M154 57h1M13 58h1M73 58h5M95 58h5M106 58h2M144 58h1M147 58h3M154 58h1M13 59h1M72 59h2M77 59h3M95 59h4M106 59h1M71 60h2M79 60h1M95 60h4M105 60h2M143 60h1M14 61h1M71 61h1M79 61h1M95 61h11M143 61h1M15 62h1M70 62h1M78 62h1M96 62h5M143 62h1M227 62h3M16 63h1M69 63h1M78 63h1M227 63h4M17 64h1M68 64h2M77 64h1M227 64h4M17 65h1M68 65h1M76 65h1M193 65h1M224 65h1M228 65h4M18 66h1M67 66h1M125 66h4M229 66h3M18 67h1M66 67h1M124 67h6M228 67h4M237 67h6M19 68h1M65 68h1M76 68h1M124 68h1M130 68h1M193 68h1M226 68h6M236 68h1M245 68h1M20 69h1M64 69h1M76 69h1M124 69h1M131 69h1M227 69h4M235 69h1M20 70h2M60 70h3M76 70h1M124 70h1M132 70h1M227 70h3M235 70h2M21 71h3M55 71h3M76 71h1M124 71h1M132 71h1M143 71h1M224 71h5M235 71h2M23 72h2M55 72h1M75 72h1M124 72h1M132 72h1M143 72h1M193 72h1M220 72h3M225 72h6M234 72h3M25 73h1M54 73h1M72 73h1M124 73h1M133 73h1M142 73h1M228 73h9M247 73h1M249 73h1M251 73h1M26 74h2M52 74h2M124 74h1M133 74h1M141 74h1M216 74h1M232 74h6M243 74h3M28 75h2M50 75h2M124 75h1M134 75h5M235 75h5M31 76h2M47 76h2M69 76h1M124 76h1M235 76h2M36 77h8M69 77h1M124 77h1M236 77h1M68 78h1M124 78h1M214 78h1M236 78h1M124 79h1M236 79h1M124 80h1M236 80h1M65 81h1M124 81h2M236 81h1M124 82h2M183 82h1M236 82h1M104 83h3M124 83h2M237 83h1M102 84h5M124 84h2M237 84h1M65 85h1M92 85h10M106 85h1M124 85h1M181 85h1M238 85h1M91 86h2M124 86h1M238 86h1M66 87h1M90 87h1M124 87h1M217 87h1M239 87h1M89 88h2M124 88h1M180 88h1M219 88h1M240 88h1M69 89h1M88 89h2M124 89h1M180 89h1M219 89h1M240 89h2M72 90h2M79 90h1M82 90h7M124 90h1M179 90h1M241 90h1M106 91h1M124 91h1M179 91h1M241 91h1M106 92h1M124 92h1M179 92h1M241 92h1M105 93h1M124 93h1M219 93h1M241 93h1M104 94h2M219 94h1M241 94h1M102 95h3M219 95h1M241 95h2M100 96h4M180 96h1M219 96h1M241 96h2M98 97h2M125 97h1M180 97h1M219 97h1M242 97h1M92 98h1M97 98h2M125 98h1M219 98h1M242 98h1M96 99h2M125 99h1M180 99h1M219 99h1M242 99h1M125 100h1M242 100h2M96 101h1M125 101h1M242 101h2M96 102h2M125 102h1M219 102h1M242 102h2M97 103h1M125 103h1M242 103h2M97 104h4M102 104h7M242 104h2M99 105h13M124 105h1M242 105h2M112 106h1M242 106h2M113 107h2M123 107h1M242 107h2M115 108h1M121 108h2M220 108h1M242 108h2M117 109h3M242 109h2M241 110h3M241 111h2M241 112h2M240 113h2M222 114h1M240 114h2M239 115h2M226 116h1M238 116h2M85 117h1M227 117h1M237 117h2M230 118h7M36 138h1M38 139h1M40 140h1M43 142h1M44 146h1M41 148h1M45 149h1M40 150h1M46 150h1M46 151h1M40 153h1M45 153h1M41 154h4M68 164h1M72 173h1M70 175h1M69 176h1M68 177h1M69 178h1M66 180h1M67 181h1M65 183h1M66 184h1M65 185h1M8 190h2M0 191h8M0 192h8M0 193h8M10 193h1M48 208h1M77 208h1M126 208h1M19 209h1M49 209h1M126 209h1M50 210h1M125 210h1M51 212h1M89 212h1M91 212h1M91 213h1M52 215h1M86 215h2M83 216h7M82 217h10M53 218h1M82 218h10M81 219h12M81 220h3M89 220h5M80 221h2M91 221h3M79 222h2M92 222h3M79 223h1M93 223h3M94 224h4M98 225h2M77 226h2M77 227h2M100 227h1M78 228h1M78 229h2M79 230h2M79 231h2M80 232h2M80 233h3M80 234h4M80 235h4M80 236h4M80 237h4M80 238h4M80 239h4M80 240h4M80 241h4"/>
<path stroke="#afff50" d="M72 0h5M124 0h2M193 0h1M200 0h2M72 1h5M124 1h2M193 1h1M200 1h2M72 2h5M124 2h2M193 2h1M200 2h2M72 3h5M124 3h2M193 3h1M200 3h2M72 4h5M124 4h2M193 4h1M200 4h2M72 5h5M124 5h2M193 5h1M200 5h2M72 6h5M124 6h2M193 6h1M200 6h2M72 7h5M124 7h2M193 7h1M200 7h2M72 8h6M124 8h2M200 8h2M73 9h5M125 9h2M192 9h1M200 9h2M73 10h5M125 10h2M192 10h1M200 10h2M74 11h5M126 11h2M192 11h1M200 11h2M74 12h6M127 12h1M191 12h1M200 12h2M75 13h7M128 13h1M190 13h1M200 13h2M75 14h8M128 14h1M200 14h2M76 15h7M128 15h2M200 15h2M76 16h8M129 16h1M200 16h1M77 17h7M129 17h1M188 17h1M199 17h2M77 18h7M129 18h1M199 18h1M77 19h7M129 19h2M198 19h2M76 20h1M79 20h5M130 20h1M187 20h1M198 20h2M74 21h3M80 21h4M104 21h2M130 21h1M187 21h1M198 21h1M73 22h4M81 22h3M102 22h4M130 22h1M187 22h1M197 22h2M72 23h5M82 23h3M101 23h6M129 23h2M187 23h1M197 23h2M71 24h6M83 24h2M100 24h7M129 24h1M197 24h1M70 25h7M83 25h2M99 25h8M129 25h1M197 25h1M70 26h7M83 26h2M99 26h8M129 26h1M197 26h1M71 27h5M83 27h2M100 27h7M128 27h2M196 27h2M83 28h1M103 28h3M128 28h1M188 28h1M195 28h2M82 29h2M128 29h1M190 29h6M82 30h1M128 30h1M81 31h2M128 31h1M156 31h1M81 32h2M128 32h2M81 33h2M128 33h2M81 34h3M129 34h2M155 34h1M81 35h6M131 35h2M81 36h10M133 36h1M81 37h2M87 37h6M133 37h2M77 38h17M134 38h1M55 39h2M73 39h20M134 39h2M21 40h5M29 40h3M53 40h11M70 40h11M134 40h2M224 40h1M16 41h5M33 41h1M51 41h5M63 41h11M133 41h3M225 41h1M14 42h3M50 42h4M132 42h4M12 43h3M49 43h3M126 43h9M12 44h2M37 44h2M46 44h5M125 44h9M221 44h1M225 44h1M11 45h3M42 45h5M124 45h8M221 45h4M11 46h2M123 46h8M12 47h1M122 47h9M153 47h1M12 48h1M120 48h13M154 48h1M12 49h1M119 49h17M146 49h1M12 50h1M118 50h11M135 50h4M146 50h1M155 50h1M12 51h1M117 51h9M139 51h2M12 52h1M105 52h4M116 52h9M141 52h1M145 52h1M12 53h1M102 53h9M115 53h8M142 53h1M145 53h1M156 53h1M12 54h1M100 54h3M109 54h13M143 54h3M156 54h1M96 55h5M110 55h3M117 55h2M143 55h3M13 56h1M93 56h5M109 56h2M143 56h4M155 56h1M73 57h5M92 57h3M109 57h1M143 57h1M147 57h1M72 58h1M78 58h2M93 58h2M108 58h1M143 58h1M14 59h1M71 59h1M80 59h1M93 59h2M107 59h2M143 59h1M14 60h1M70 60h1M80 60h1M93 60h2M107 60h1M15 61h1M70 61h1M80 61h1M93 61h2M106 61h1M69 62h1M79 62h1M93 62h3M101 62h5M68 63h1M79 63h1M93 63h8M143 63h1M18 64h1M67 64h1M78 64h1M94 64h3M143 64h1M193 64h1M18 65h1M67 65h1M124 65h5M143 65h1M227 65h1M19 66h1M66 66h1M76 66h1M123 66h2M129 66h2M143 66h1M228 66h1M19 67h1M65 67h1M123 67h1M130 67h2M143 67h1M20 68h1M64 68h1M123 68h1M131 68h1M143 68h1M243 68h2M21 69h1M55 69h3M62 69h2M77 69h1M123 69h1M132 69h1M143 69h1M236 69h1M251 69h1M22 70h3M55 70h5M77 70h1M123 70h1M143 70h1M237 70h1M24 71h2M54 71h1M77 71h1M123 71h1M133 71h1M194 71h1M237 71h1M25 72h1M54 72h1M76 72h1M123 72h1M133 72h1M142 72h1M223 72h2M237 72h1M26 73h1M53 73h1M73 73h1M123 73h1M134 73h1M141 73h1M218 73h1M226 73h2M237 73h3M245 73h2M250 73h1M28 74h1M51 74h1M71 74h1M123 74h1M134 74h2M140 74h1M229 74h3M238 74h5M30 75h1M49 75h1M70 75h1M123 75h1M231 75h4M33 76h3M44 76h3M123 76h1M215 76h1M233 76h2M123 77h1M234 77h2M69 78h1M123 78h1M235 78h1M67 79h1M123 79h1M214 79h1M235 79h1M66 80h1M123 80h1M214 80h1M235 80h1M105 81h2M123 81h1M214 81h1M235 81h1M65 82h1M103 82h5M123 82h1M235 82h1M65 83h1M101 83h3M107 83h1M123 83h1M235 83h2M65 84h1M91 84h11M107 84h1M236 84h1M90 85h2M107 85h1M236 85h2M66 86h1M89 86h2M107 86h1M237 86h1M67 87h1M88 87h2M107 87h1M238 87h1M68 88h1M88 88h1M107 88h1M238 88h2M70 89h1M85 89h3M107 89h1M220 89h1M239 89h1M74 90h5M107 90h1M220 90h1M239 90h2M107 91h1M220 91h1M239 91h2M220 92h1M239 92h2M106 93h1M239 93h2M106 94h1M124 94h1M239 94h2M105 95h1M124 95h1M240 95h1M104 96h2M124 96h1M240 96h1M100 97h5M124 97h1M240 97h2M99 98h2M241 98h1M98 99h1M241 99h1M94 100h1M241 100h1M97 101h1M241 101h1M98 102h1M241 102h1M98 103h2M102 103h8M124 103h1M241 103h1M101 104h1M109 104h3M124 104h1M241 104h1M112 105h2M123 105h1M241 105h1M113 106h2M123 106h1M240 106h2M115 107h1M122 107h1M240 107h2M116 108h5M240 108h2M240 109h2M240 110h1M240 111h1M239 112h2M221 113h1M239 113h1M11 114h2M17 114h1M223 114h2M239 114h1M225 115h1M238 115h1M87 116h1M237 116h1M228 117h2M235 117h2M86 118h2M123 119h1M41 149h1M45 150h1M45 151h1M45 152h1M43 153h2M68 163h1M71 174h2M67 179h2M66 183h1M65 184h1M10 191h1M10 192h1M8 193h1M125 208h1M76 210h1M78 210h1M89 213h1M84 220h5M82 221h9M81 222h11M80 223h13M79 224h3M88 224h6M77 225h4M89 225h9M79 226h2M89 226h12M79 227h2M89 227h8M99 227h1M102 227h1M79 228h3M88 228h8M100 228h1M80 229h15M100 229h1M81 230h14M100 230h1M81 231h14M101 231h1M82 232h13M101 232h1M103 232h1M83 233h12M101 233h1M84 234h11M101 234h1M84 235h11M101 235h1M84 236h11M101 236h1M84 237h11M101 237h1M84 238h11M101 238h1M84 239h11M101 239h1M84 240h11M101 240h1M84 241h11M101 241h1"/>
<path stroke="#bfff40" d="M77 0h10M122 0h2M194 0h1M199 0h1M77 1h10M122 1h2M194 1h1M199 1h1M77 2h10M122 2h2M194 2h1M199 2h1M77 3h10M122 3h2M194 3h1M199 3h1M77 4h10M122 4h2M194 4h1M199 4h1M77 5h10M122 5h2M194 5h1M199 5h1M77 6h10M122 6h2M194 6h1M199 6h1M77 7h10M122 7h2M194 7h1M199 7h1M78 8h9M123 8h1M193 8h2M199 8h1M78 9h9M123 9h2M193 9h2M199 9h1M78 10h9M123 10h2M193 10h1M199 10h1M79 11h8M124 11h2M193 11h1M199 11h1M80 12h7M125 12h2M192 12h2M199 12h1M82 13h5M126 13h2M191 13h2M199 13h1M83 14h4M127 14h1M199 14h1M83 15h4M127 15h1M199 15h1M84 16h3M128 16h1M198 16h2M84 17h3M105 17h2M128 17h1M198 17h1M84 18h3M103 18h4M128 18h1M188 18h1M197 18h2M84 19h3M102 19h6M128 19h1M188 19h1M197 19h1M84 20h3M101 20h7M128 20h2M196 20h2M84 21h3M100 21h4M106 21h2M128 21h2M196 21h2M84 22h3M98 22h4M106 22h2M128 22h2M196 22h1M85 23h3M97 23h4M107 23h2M128 23h1M196 23h1M85 24h3M96 24h4M107 24h2M128 24h1M196 24h1M85 25h3M95 25h4M107 25h2M128 25h1M196 25h1M85 26h3M95 26h4M107 26h2M127 26h2M186 26h1M195 26h2M85 27h2M95 27h5M107 27h2M127 27h1M186 27h1M195 27h1M84 28h3M96 28h7M106 28h3M127 28h1M187 28h1M189 28h1M193 28h2M84 29h2M99 29h9M127 29h1M83 30h2M102 30h5M126 30h2M83 31h2M126 31h2M83 32h2M126 32h2M157 32h1M83 33h3M126 33h2M84 34h4M127 34h2M156 34h1M87 35h6M129 35h2M91 36h5M130 36h3M93 37h4M132 37h1M94 38h3M93 39h3M26 40h3M81 40h14M132 40h2M222 40h2M21 41h4M32 41h1M56 41h7M74 41h9M92 41h2M127 41h6M221 41h1M17 42h4M34 42h1M54 42h6M62 42h18M125 42h7M225 42h1M15 43h3M35 43h1M52 43h4M68 43h2M123 43h3M225 43h1M14 44h3M36 44h1M51 44h3M122 44h3M224 44h1M14 45h2M37 45h5M47 45h6M121 45h3M149 45h1M13 46h2M46 46h3M120 46h3M148 46h1M13 47h2M119 47h3M13 48h2M118 48h2M147 48h1M13 49h1M117 49h2M154 49h1M13 50h1M106 50h2M115 50h3M129 50h6M13 51h1M104 51h6M114 51h3M126 51h4M137 51h2M146 51h1M155 51h1M13 52h1M102 52h3M109 52h7M125 52h3M140 52h1M146 52h1M155 52h1M13 53h1M100 53h2M111 53h4M123 53h3M141 53h1M146 53h1M13 54h1M96 54h4M122 54h3M142 54h1M146 54h1M155 54h1M13 55h1M92 55h4M113 55h4M119 55h5M142 55h1M146 55h1M155 55h1M73 56h5M91 56h2M111 56h12M142 56h1M147 56h1M154 56h1M14 57h1M71 57h2M78 57h3M91 57h1M110 57h2M142 57h1M148 57h2M14 58h1M70 58h2M80 58h2M92 58h1M109 58h1M142 58h1M70 59h1M81 59h1M92 59h1M109 59h1M142 59h1M15 60h1M69 60h1M81 60h1M92 60h1M108 60h1M142 60h1M69 61h1M81 61h1M92 61h1M107 61h1M142 61h1M16 62h1M68 62h1M80 62h1M92 62h1M106 62h1M142 62h1M192 62h1M17 63h1M67 63h1M92 63h1M101 63h4M193 63h1M19 64h1M66 64h1M79 64h1M92 64h2M97 64h4M123 64h6M19 65h1M66 65h1M92 65h7M122 65h2M129 65h2M20 66h1M65 66h1M93 66h4M122 66h1M131 66h1M20 67h2M53 67h3M64 67h1M76 67h1M122 67h1M132 67h1M224 67h1M21 68h2M54 68h4M63 68h1M122 68h1M132 68h1M238 68h2M241 68h2M22 69h4M54 69h1M58 69h4M122 69h1M133 69h1M192 69h1M25 70h1M54 70h1M78 70h1M122 70h1M133 70h1M26 71h1M53 71h1M78 71h1M122 71h1M142 71h1M238 71h1M26 72h1M53 72h1M77 72h1M122 72h1M134 72h1M238 72h4M243 72h2M252 72h1M27 73h2M51 73h2M74 73h1M122 73h1M219 73h1M223 73h3M240 73h5M29 74h1M50 74h1M122 74h1M136 74h1M139 74h1M217 74h1M227 74h2M31 75h2M47 75h2M122 75h1M216 75h1M229 75h2M36 76h8M70 76h1M122 76h1M231 76h2M121 77h2M232 77h2M122 78h1M233 78h2M68 79h1M105 79h2M122 79h1M233 79h2M104 80h4M122 80h1M234 80h1M66 81h1M102 81h3M107 81h2M122 81h1M234 81h1M101 82h2M108 82h1M234 82h1M90 83h11M108 83h1M234 83h1M89 84h2M108 84h1M123 84h1M234 84h2M66 85h1M88 85h2M108 85h1M123 85h1M235 85h1M88 86h1M108 86h1M123 86h1M236 86h1M87 87h1M108 87h1M123 87h1M218 87h1M237 87h1M69 88h1M86 88h2M108 88h1M123 88h1M220 88h1M237 88h1M71 89h1M81 89h4M123 89h1M221 89h1M238 89h1M123 90h1M221 90h1M238 90h1M123 91h1M221 91h1M238 91h1M107 92h1M123 92h1M238 92h1M107 93h1M123 93h1M220 93h1M238 93h1M123 94h1M220 94h1M238 94h1M106 95h1M123 95h1M220 95h1M238 95h2M106 96h1M220 96h1M238 96h2M105 97h2M220 97h1M239 97h1M101 98h5M124 98h1M180 98h1M220 98h1M239 98h2M99 99h7M124 99h1M220 99h1M240 99h1M99 100h8M124 100h1M219 100h1M240 100h1M98 101h2M103 101h5M124 101h1M240 101h1M103 102h7M124 102h1M240 102h1M100 103h1M110 103h2M240 103h1M112 104h2M123 104h1M240 104h1M114 105h1M240 105h1M115 106h1M122 106h1M239 106h1M116 107h1M120 107h2M239 107h1M239 108h1M11 109h1M239 109h1M13 110h1M239 110h1M239 111h1M238 112h1M222 113h1M238 113h1M0 114h11M13 114h1M225 114h1M237 114h2M226 115h1M236 115h2M86 116h1M227 116h2M235 116h2M230 117h5M41 150h1M41 153h2M69 164h1M71 175h1M70 176h1M69 177h1M68 178h1M67 180h1M66 181h1M66 182h1M8 191h2M9 193h1M125 209h1M90 212h1M90 213h1M82 224h6M81 225h8M81 226h8M81 227h8M97 227h2M82 228h6M96 228h4M95 229h5M95 230h5M95 231h2M99 231h2M95 232h2M100 232h1M95 233h2M100 233h1M95 234h2M100 234h1M95 235h2M100 235h1M95 236h2M100 236h1M95 237h2M100 237h1M95 238h2M100 238h1M95 239h2M100 239h1M95 240h2M100 240h1M95 241h2M100 241h1"/>
<path stroke="#cfff30" d="M87 0h10M109 0h7M120 0h2M195 0h4M87 1h10M109 1h7M120 1h2M195 1h4M87 2h10M109 2h7M120 2h2M195 2h4M87 3h10M109 3h7M120 3h2M195 3h4M87 4h10M109 4h7M120 4h2M195 4h4M87 5h10M109 5h7M120 5h2M195 5h4M87 6h10M109 6h7M120 6h2M195 6h4M87 7h10M109 7h7M120 7h2M195 7h4M87 8h9M109 8h6M120 8h3M195 8h4M87 9h9M109 9h6M121 9h2M195 9h4M87 10h9M109 10h5M122 10h1M194 10h5M87 11h8M110 11h2M123 11h1M194 11h5M87 12h7M124 12h1M194 12h5M87 13h5M105 13h4M125 13h1M193 13h6M87 14h4M104 14h5M125 14h2M192 14h3M196 14h3M87 15h4M103 15h6M126 15h1M192 15h2M196 15h3M87 16h3M102 16h7M126 16h2M196 16h2M87 17h3M100 17h5M107 17h2M126 17h2M195 17h3M87 18h3M99 18h4M107 18h2M127 18h1M195 18h2M87 19h3M98 19h4M108 19h1M127 19h1M195 19h2M87 20h4M97 20h4M108 20h1M127 20h1M188 20h1M195 20h1M87 21h4M96 21h4M108 21h2M127 21h1M188 21h1M195 21h1M87 22h5M94 22h4M108 22h2M127 22h1M195 22h1M88 23h9M109 23h1M127 23h1M195 23h1M88 24h8M109 24h1M126 24h2M195 24h1M88 25h7M109 25h1M126 25h2M195 25h1M88 26h7M109 26h2M126 26h1M194 26h1M87 27h8M109 27h2M126 27h1M189 27h1M193 27h2M87 28h9M109 28h2M125 28h2M190 28h3M86 29h13M108 29h3M125 29h2M85 30h4M94 30h8M107 30h3M123 30h3M85 31h3M98 31h11M122 31h4M85 32h3M101 32h7M122 32h4M86 33h7M102 33h5M123 33h3M157 33h1M88 34h10M102 34h3M124 34h3M93 35h9M126 35h3M96 36h6M127 36h3M97 37h5M128 37h4M97 38h4M129 38h1M133 38h1M96 39h3M127 39h3M95 40h2M125 40h7M25 41h7M83 41h9M94 41h2M124 41h3M21 42h3M33 42h1M60 42h2M80 42h3M91 42h4M123 42h2M221 42h1M18 43h3M34 43h1M56 43h12M70 43h11M122 43h1M221 43h1M17 44h2M35 44h1M54 44h4M67 44h6M121 44h1M222 44h2M16 45h2M36 45h1M53 45h3M119 45h2M15 46h2M39 46h7M49 46h6M118 46h2M15 47h1M47 47h5M106 47h1M117 47h2M15 48h1M105 48h3M116 48h2M153 48h1M14 49h1M104 49h6M114 49h3M147 49h1M14 50h1M103 50h3M108 50h7M147 50h1M154 50h1M14 51h1M102 51h2M110 51h4M130 51h7M14 52h1M100 52h2M128 52h2M138 52h2M97 53h3M126 53h2M140 53h1M155 53h1M92 54h1M95 54h1M125 54h2M141 54h1M14 55h1M72 55h5M89 55h3M124 55h2M147 55h1M154 55h1M14 56h1M70 56h3M78 56h4M88 56h3M123 56h3M148 56h1M69 57h2M81 57h3M89 57h2M112 57h13M69 58h1M82 58h2M91 58h1M110 58h2M150 58h1M15 59h1M68 59h2M82 59h2M110 59h1M153 59h1M68 60h1M82 60h1M91 60h1M109 60h1M16 61h1M67 61h2M82 61h1M91 61h1M108 61h1M17 62h1M67 62h1M81 62h1M91 62h1M107 62h2M193 62h1M18 63h1M66 63h1M80 63h2M91 63h1M105 63h2M123 63h5M142 63h1M192 63h1M20 64h1M65 64h1M91 64h1M101 64h2M122 64h1M129 64h1M142 64h1M192 64h1M20 65h1M65 65h1M77 65h1M91 65h1M99 65h2M121 65h1M131 65h1M142 65h1M21 66h1M53 66h4M64 66h1M92 66h1M97 66h2M120 66h2M132 66h1M142 66h1M22 67h1M52 67h1M56 67h2M63 67h1M92 67h6M120 67h2M142 67h1M227 67h1M23 68h4M53 68h1M58 68h5M120 68h2M133 68h1M142 68h1M240 68h1M26 69h1M53 69h1M78 69h1M121 69h1M142 69h1M193 69h1M238 69h1M250 69h1M26 70h1M53 70h1M79 70h1M121 70h1M142 70h1M252 70h1M27 71h1M52 71h1M79 71h1M121 71h1M134 71h1M27 72h2M52 72h1M78 72h2M121 72h1M141 72h1M242 72h1M245 72h1M29 73h1M50 73h1M75 73h4M104 73h5M121 73h1M135 73h1M140 73h1M194 73h2M220 73h3M30 74h2M48 74h2M72 74h1M104 74h5M121 74h1M138 74h1M225 74h2M33 75h3M44 75h3M71 75h1M104 75h5M121 75h1M227 75h2M104 76h5M120 76h2M229 76h2M70 77h1M104 77h6M120 77h1M215 77h1M231 77h1M70 78h1M104 78h6M120 78h2M231 78h2M103 79h2M107 79h3M121 79h1M232 79h1M67 80h1M102 80h2M108 80h2M121 80h1M232 80h2M100 81h2M109 81h1M121 81h1M232 81h2M66 82h1M89 82h7M100 82h1M109 82h1M122 82h1M232 82h2M66 83h1M88 83h2M109 83h1M122 83h1M215 83h1M232 83h2M66 84h1M87 84h2M109 84h1M122 84h1M233 84h1M87 85h1M109 85h1M122 85h1M216 85h1M234 85h1M67 86h1M86 86h2M122 86h1M217 86h1M235 86h1M68 87h1M86 87h1M122 87h1M219 87h1M235 87h2M83 88h3M122 88h1M221 88h1M236 88h1M72 89h1M79 89h2M108 89h1M122 89h1M222 89h1M237 89h1M108 90h1M122 90h1M222 90h1M237 90h1M108 91h1M122 91h1M222 91h1M237 91h1M221 92h1M237 92h1M221 93h1M237 93h1M107 94h1M236 94h2M107 95h1M237 95h1M107 96h1M123 96h1M237 96h1M107 97h1M123 97h1M238 97h1M106 98h2M123 98h1M238 98h1M95 99h1M106 99h2M123 99h1M239 99h1M107 100h2M239 100h1M102 101h1M108 101h3M123 101h1M239 101h1M110 102h2M123 102h1M239 102h1M101 103h1M112 103h2M123 103h1M239 103h1M114 104h1M239 104h1M115 105h1M122 105h1M239 105h1M116 106h1M121 106h1M238 106h1M117 107h3M238 107h1M238 108h1M10 109h1M238 109h1M238 110h1M237 111h2M221 112h1M237 112h1M11 113h2M223 113h1M237 113h1M236 114h1M17 115h1M227 115h1M235 115h1M229 116h6M87 117h1M43 146h1M69 163h1M8 192h1M76 209h1M78 209h1M77 210h1M77 224h2M102 228h1M101 230h1M97 231h2M97 232h3M97 233h3M97 234h3M97 235h3M97 236h3M97 237h3M97 238h3M97 239h3M97 240h3M97 241h3"/>
<path stroke="#dfff20" d="M97 0h12M116 0h4M97 1h12M116 1h4M97 2h12M116 2h4M97 3h12M116 3h4M97 4h12M116 4h4M97 5h12M116 5h4M97 6h12M116 6h4M97 7h12M116 7h4M96 8h13M115 8h5M96 9h13M115 9h6M96 10h13M114 10h4M119 10h3M95 11h15M112 11h4M121 11h2M94 12h21M122 12h2M92 13h13M109 13h5M123 13h2M91 14h13M109 14h4M124 14h1M191 14h1M195 14h1M91 15h12M109 15h3M124 15h2M189 15h1M194 15h2M90 16h12M109 16h3M125 16h1M192 16h4M90 17h10M109 17h2M125 17h1M191 17h4M90 18h9M109 18h2M125 18h2M191 18h4M90 19h8M109 19h2M125 19h2M189 19h1M193 19h2M91 20h6M109 20h2M125 20h2M189 20h1M193 20h2M91 21h5M110 21h1M125 21h2M194 21h1M92 22h2M110 22h1M125 22h2M194 22h1M110 23h1M125 23h2M194 23h1M110 24h2M125 24h1M194 24h1M110 25h2M125 25h1M193 25h2M111 26h2M125 26h1M189 26h1M193 26h1M111 27h2M124 27h2M190 27h3M111 28h2M123 28h2M111 29h3M120 29h5M89 30h5M110 30h13M88 31h10M109 31h13M88 32h13M108 32h3M116 32h6M93 33h9M107 33h2M119 33h4M98 34h4M105 34h3M122 34h2M102 35h5M123 35h3M102 36h4M124 36h3M102 37h4M125 37h3M101 38h5M125 38h4M99 39h7M124 39h3M133 39h1M97 40h9M124 40h1M96 41h2M103 41h3M123 41h1M222 41h1M224 41h1M24 42h3M32 42h1M83 42h2M89 42h2M95 42h2M104 42h3M121 42h2M21 43h3M81 43h2M91 43h4M104 43h3M120 43h2M19 44h3M58 44h9M73 44h8M104 44h4M119 44h2M18 45h2M35 45h1M56 45h3M66 45h6M104 45h5M118 45h1M151 45h1M17 46h2M36 46h3M55 46h3M104 46h5M116 46h2M16 47h2M42 47h5M52 47h4M104 47h2M107 47h3M115 47h2M16 48h1M47 48h7M103 48h2M108 48h3M113 48h3M148 48h1M15 49h2M102 49h2M110 49h4M148 49h1M153 49h1M15 50h1M101 50h2M15 51h1M100 51h2M147 51h1M154 51h1M98 52h2M130 52h8M147 52h1M154 52h1M14 53h1M96 53h1M128 53h2M139 53h1M147 53h1M154 53h1M14 54h1M72 54h4M89 54h3M93 54h2M127 54h2M140 54h1M147 54h1M154 54h1M69 55h3M77 55h12M126 55h2M141 55h1M148 55h1M15 56h1M68 56h2M82 56h6M126 56h1M141 56h1M149 56h1M15 57h1M68 57h1M84 57h5M125 57h2M141 57h1M15 58h1M67 58h2M84 58h2M88 58h3M112 58h3M117 58h9M141 58h1M67 59h1M84 59h1M111 59h1M120 59h6M141 59h1M16 60h1M67 60h1M83 60h1M90 60h1M110 60h1M122 60h4M141 60h1M17 61h1M66 61h1M83 61h1M90 61h1M109 61h1M122 61h5M141 61h1M18 62h1M65 62h2M82 62h2M90 62h1M109 62h1M122 62h6M141 62h1M19 63h1M65 63h1M82 63h1M90 63h1M107 63h2M121 63h2M128 63h2M21 64h1M64 64h1M80 64h1M90 64h1M103 64h4M120 64h2M130 64h2M21 65h2M53 65h4M64 65h1M90 65h1M101 65h1M119 65h2M132 65h1M192 65h1M225 65h2M22 66h2M51 66h2M57 66h1M63 66h1M91 66h1M99 66h2M119 66h1M23 67h6M51 67h1M58 67h1M62 67h1M91 67h1M98 67h3M118 67h2M133 67h1M27 68h1M52 68h1M77 68h1M92 68h8M119 68h1M27 69h1M52 69h1M79 69h1M96 69h3M119 69h2M134 69h1M249 69h1M27 70h1M52 70h1M80 70h1M119 70h2M134 70h1M141 70h1M238 70h1M28 71h1M51 71h1M80 71h1M101 71h11M120 71h1M141 71h1M29 72h1M50 72h2M80 72h1M101 72h11M120 72h1M135 72h1M140 72h1M246 72h1M30 73h1M49 73h1M79 73h1M101 73h3M109 73h4M120 73h1M139 73h1M32 74h2M46 74h2M73 74h1M102 74h2M109 74h4M119 74h2M137 74h1M218 74h1M224 74h1M36 75h8M102 75h2M109 75h4M119 75h2M226 75h1M102 76h2M109 76h4M119 76h1M216 76h1M228 76h1M102 77h2M110 77h3M118 77h2M229 77h2M102 78h2M110 78h3M119 78h1M215 78h1M230 78h1M69 79h1M101 79h2M110 79h2M120 79h1M230 79h2M68 80h1M100 80h2M110 80h2M120 80h1M230 80h2M67 81h1M89 81h7M110 81h1M120 81h1M230 81h2M88 82h1M96 82h1M99 82h1M110 82h1M121 82h1M215 82h1M230 82h2M87 83h1M110 83h1M121 83h1M230 83h2M110 84h1M121 84h1M230 84h3M67 85h1M86 85h1M121 85h1M231 85h3M85 86h1M109 86h1M121 86h1M232 86h3M84 87h2M109 87h1M220 87h2M234 87h1M70 88h1M82 88h1M109 88h1M222 88h2M235 88h1M73 89h3M77 89h2M223 89h2M235 89h2M223 90h2M236 90h1M223 91h1M235 91h2M108 92h1M122 92h1M222 92h1M235 92h2M108 93h1M122 93h1M222 93h1M235 93h2M108 94h1M122 94h1M221 94h1M235 94h1M108 95h1M122 95h1M221 95h1M235 95h2M108 96h1M122 96h1M221 96h1M236 96h1M108 97h1M221 97h1M236 97h2M108 98h1M221 98h1M237 98h1M108 99h2M221 99h1M237 99h2M95 100h1M109 100h2M123 100h1M220 100h1M238 100h1M111 101h1M219 101h1M238 101h1M99 102h1M112 102h2M238 102h1M114 103h1M122 103h1M238 103h1M115 104h1M122 104h1M238 104h1M116 105h1M238 105h1M117 106h4M237 106h1M237 107h1M237 108h1M9 109h1M237 109h1M237 110h1M221 111h1M236 111h1M10 112h1M222 112h1M236 112h1M9 113h2M16 113h1M224 113h2M235 113h2M226 114h1M234 114h2M14 115h1M228 115h2M232 115h3M15 116h1M40 151h1M40 152h1M44 152h1M9 192h1M103 233h1M102 234h1M102 235h1M102 236h1M102 237h1M102 238h1M102 239h1M102 240h1M102 241h1"/>
<path stroke="#efff10" d="M118 10h1M116 11h5M115 12h3M119 12h3M114 13h2M121 13h2M113 14h2M122 14h2M112 15h2M123 15h1M112 16h2M123 16h2M191 16h1M111 17h2M124 17h1M111 18h2M124 18h1M111 19h2M124 19h1M190 19h1M192 19h1M111 20h1M124 20h1M192 20h1M111 21h1M124 21h1M192 21h2M111 22h2M123 22h2M188 22h1M192 22h2M111 23h2M123 23h2M192 23h2M112 24h2M123 24h2M187 24h1M192 24h2M112 25h2M123 25h2M192 25h1M113 26h2M124 26h1M190 26h3M113 27h4M120 27h4M113 28h10M114 29h6M111 32h5M109 33h3M115 33h4M108 34h2M118 34h4M107 35h2M121 35h2M106 36h2M123 36h1M106 37h1M123 37h2M106 38h1M123 38h2M130 38h1M132 38h1M106 39h1M123 39h1M130 39h1M106 40h1M122 40h2M98 41h5M106 41h2M121 41h2M223 41h1M27 42h5M85 42h4M97 42h2M101 42h3M107 42h1M120 42h1M224 42h1M24 43h2M33 43h1M83 43h2M89 43h2M95 43h2M102 43h2M107 43h2M118 43h2M222 43h1M224 43h1M22 44h2M34 44h1M81 44h2M91 44h5M102 44h2M108 44h1M117 44h2M20 45h2M59 45h7M72 45h9M102 45h2M109 45h1M116 45h2M150 45h1M19 46h1M35 46h1M58 46h2M65 46h6M102 46h2M109 46h1M114 46h2M152 46h1M18 47h1M37 47h5M56 47h3M102 47h2M113 47h2M148 47h1M17 48h1M44 48h3M54 48h3M102 48h1M111 48h2M17 49h1M47 49h8M101 49h1M16 50h1M100 50h1M148 50h1M153 50h1M16 51h1M98 51h2M148 51h1M15 52h1M97 52h1M15 53h1M72 53h3M90 53h3M130 53h3M138 53h1M148 53h1M15 54h1M68 54h4M76 54h13M129 54h1M139 54h1M148 54h1M153 54h1M15 55h1M67 55h2M128 55h1M140 55h1M149 55h1M153 55h1M66 56h2M127 56h1M153 56h1M66 57h2M16 58h1M66 58h1M86 58h2M115 58h2M126 58h1M16 59h1M65 59h2M91 59h1M112 59h2M118 59h2M126 59h2M151 59h1M17 60h1M65 60h2M111 60h1M118 60h4M126 60h2M64 61h2M84 61h1M89 61h1M110 61h2M119 61h3M127 61h2M64 62h1M84 62h1M89 62h1M110 62h1M119 62h3M128 62h2M20 63h1M63 63h2M89 63h1M109 63h2M118 63h3M130 63h2M141 63h1M22 64h1M53 64h5M63 64h1M81 64h1M89 64h1M107 64h4M117 64h3M132 64h1M141 64h1M23 65h2M51 65h2M57 65h1M63 65h1M89 65h1M106 65h2M113 65h6M133 65h1M141 65h1M24 66h6M50 66h1M61 66h2M77 66h1M90 66h1M101 66h1M111 66h8M133 66h1M141 66h1M192 66h1M224 66h1M29 67h1M50 67h1M60 67h2M90 67h1M110 67h8M134 67h1M141 67h1M28 68h1M51 68h1M91 68h1M100 68h2M109 68h10M134 68h1M141 68h1M192 68h1M237 68h1M28 69h1M51 69h1M80 69h1M95 69h1M99 69h20M141 69h1M248 69h1M28 70h1M51 70h1M81 70h1M96 70h23M135 70h1M193 70h1M29 71h1M50 71h1M81 71h2M97 71h4M112 71h8M135 71h1M140 71h1M193 71h1M252 71h1M30 72h1M49 72h1M81 72h2M98 72h3M112 72h8M139 72h1M31 73h2M48 73h1M80 73h2M99 73h2M113 73h7M34 74h2M44 74h2M74 74h1M77 74h3M99 74h3M113 74h6M219 74h1M223 74h1M72 75h1M100 75h2M113 75h6M217 75h1M225 75h1M71 76h1M100 76h2M113 76h6M226 76h2M71 77h1M100 77h2M113 77h5M228 77h1M71 78h1M100 78h2M113 78h4M228 78h2M70 79h1M100 79h1M112 79h4M119 79h1M215 79h1M229 79h1M88 80h8M112 80h3M119 80h1M215 80h1M229 80h1M87 81h2M111 81h2M119 81h1M215 81h1M228 81h2M67 82h1M87 82h1M98 82h1M111 82h2M120 82h1M228 82h2M67 83h1M86 83h1M111 83h1M120 83h1M228 83h2M67 84h1M86 84h1M111 84h1M216 84h1M228 84h2M85 85h1M110 85h1M217 85h1M228 85h3M68 86h1M110 86h1M218 86h1M228 86h4M69 87h1M83 87h1M121 87h1M222 87h3M229 87h5M71 88h1M81 88h1M121 88h1M224 88h3M232 88h3M76 89h1M109 89h1M121 89h1M225 89h2M233 89h2M109 90h1M121 90h1M225 90h1M234 90h2M109 91h1M121 91h1M224 91h2M234 91h1M121 92h1M223 92h2M233 92h2M121 93h1M223 93h1M233 93h2M222 94h1M233 94h2M222 95h1M234 95h1M234 96h2M109 97h1M122 97h1M235 97h1M109 98h1M122 98h1M236 98h1M110 99h1M122 99h1M236 99h1M98 100h1M111 100h1M221 100h1M237 100h1M112 101h2M237 101h1M114 102h1M122 102h1M237 102h1M115 103h1M237 103h1M116 104h1M237 104h1M117 105h1M119 105h1M237 105h1M236 107h1M236 108h1M8 109h1M236 109h1M221 110h1M236 110h1M235 111h1M0 112h10M235 112h1M0 113h9M226 113h1M234 113h1M227 114h1M232 114h2M230 115h2M16 116h1M86 117h1M42 147h1M77 209h1M101 229h2"/>
<path stroke="#ffff00" d="M118 12h1M116 13h5M115 14h3M120 14h2M114 15h2M121 15h2M114 16h2M122 16h1M189 16h1M113 17h2M122 17h2M113 18h2M122 18h2M113 19h1M122 19h2M112 20h2M122 20h2M112 21h2M122 21h2M113 22h2M122 22h1M191 22h1M113 23h2M121 23h2M191 23h1M114 24h3M120 24h3M190 24h2M114 25h9M190 25h2M115 26h8M117 27h3M155 32h1M112 33h3M110 34h2M115 34h3M109 35h1M119 35h2M108 36h1M121 36h2M107 37h2M122 37h1M107 38h1M122 38h1M131 38h1M107 39h1M122 39h1M131 39h2M107 40h2M121 40h1M108 41h1M120 41h1M99 42h2M108 42h2M118 42h2M222 42h1M26 43h1M32 43h1M85 43h1M88 43h1M97 43h5M109 43h1M117 43h1M223 43h1M24 44h1M33 44h1M83 44h2M90 44h1M96 44h2M101 44h1M109 44h2M115 44h2M22 45h2M34 45h1M81 45h2M92 45h5M101 45h1M113 45h3M20 46h2M60 46h5M71 46h10M101 46h1M113 46h1M19 47h2M35 47h2M59 47h3M64 47h6M100 47h2M110 47h1M18 48h2M38 48h6M57 48h3M100 48h2M18 49h1M44 49h3M55 49h3M99 49h2M17 50h1M47 50h4M54 50h1M98 50h2M97 51h1M153 51h1M16 52h1M96 52h1M148 52h1M153 52h1M16 53h1M67 53h5M75 53h15M95 53h1M133 53h5M153 53h1M65 54h3M130 54h2M138 54h1M65 55h2M129 55h2M139 55h1M16 56h1M64 56h2M128 56h2M140 56h1M16 57h1M64 57h2M127 57h1M140 57h1M150 57h1M63 58h3M127 58h1M140 58h1M17 59h1M63 59h2M85 59h1M117 59h1M128 59h1M140 59h1M62 60h3M84 60h1M112 60h2M128 60h2M140 60h1M18 61h1M62 61h2M85 61h4M112 61h2M118 61h1M129 61h1M140 61h1M19 62h1M62 62h2M85 62h4M111 62h3M117 62h2M130 62h2M21 63h1M53 63h6M61 63h2M88 63h1M111 63h7M132 63h1M23 64h1M51 64h2M58 64h1M60 64h3M82 64h1M88 64h1M111 64h6M133 64h1M25 65h4M50 65h1M61 65h2M78 65h1M80 65h3M88 65h1M102 65h1M105 65h1M108 65h5M30 66h3M48 66h2M58 66h1M88 66h2M106 66h5M134 66h1M227 66h1M30 67h1M49 67h1M59 67h1M77 67h1M89 67h1M101 67h1M106 67h4M192 67h1M225 67h2M29 68h2M50 68h1M81 68h1M89 68h2M106 68h3M135 68h1M29 69h1M50 69h1M81 69h2M90 69h1M135 69h1M140 69h1M247 69h1M29 70h1M50 70h1M82 70h2M95 70h1M140 70h1M30 71h1M49 71h1M83 71h1M95 71h2M136 71h1M31 72h1M48 72h1M83 72h1M96 72h2M136 72h1M194 72h1M247 72h1M33 73h1M46 73h2M82 73h2M97 73h2M36 74h8M75 74h2M80 74h2M97 74h2M220 74h1M222 74h1M98 75h2M224 75h1M98 76h2M98 77h2M216 77h1M227 77h1M99 78h1M118 78h1M227 78h1M87 79h9M228 79h1M69 80h1M87 80h1M115 80h1M228 80h1M68 81h1M86 81h1M99 81h1M113 81h3M227 81h1M86 82h1M97 82h1M113 82h2M119 82h1M227 82h1M112 83h2M119 83h1M216 83h1M227 83h1M85 84h1M112 84h1M120 84h1M226 84h2M111 85h1M120 85h1M226 85h2M84 86h1M120 86h1M219 86h1M223 86h5M70 87h1M82 87h1M110 87h1M120 87h1M225 87h4M72 88h1M80 88h1M110 88h1M120 88h1M227 88h5M120 89h1M227 89h6M120 90h1M226 90h8M120 91h1M226 91h2M230 91h4M109 92h1M225 92h2M231 92h2M109 93h1M224 93h1M231 93h2M109 94h1M121 94h1M223 94h1M231 94h2M109 95h1M121 95h1M223 95h1M232 95h2M109 96h1M121 96h1M222 96h1M233 96h1M121 97h1M222 97h1M233 97h2M110 98h1M222 98h1M234 98h2M92 99h1M94 99h1M111 99h1M222 99h1M235 99h1M112 100h2M222 100h1M236 100h1M100 101h2M114 101h1M122 101h1M220 101h1M236 101h1M102 102h1M115 102h1M236 102h1M236 103h1M117 104h1M236 104h1M118 105h1M236 105h1M236 106h1M220 107h1M235 107h1M221 108h1M235 108h1M0 109h8M221 109h1M235 109h1M235 110h1M222 111h1M234 111h1M15 112h1M223 112h1M233 112h2M227 113h1M232 113h2M228 114h4M42 148h1M42 149h1M42 150h1M103 234h1M103 235h1M103 236h1M103 237h1M103 238h1M103 239h1M103 240h1M103 241h1"/>
<path stroke="#ffef00" d="M118 14h2M116 15h5M191 15h1M116 16h6M115 17h1M119 17h3M115 18h1M120 18h2M114 19h3M120 19h2M191 19h1M114 20h3M120 20h2M114 21h4M119 21h3M115 22h7M115 23h6M190 23h1M117 24h3M189 25h1M123 26h1M155 33h1M112 34h3M110 35h2M116 35h3M109 36h1M119 36h2M109 37h1M120 37h2M108 38h1M121 38h1M108 39h1M120 39h2M109 40h1M119 40h2M109 41h1M118 41h2M110 42h1M116 42h2M27 43h2M30 43h2M86 43h2M110 43h2M115 43h2M25 44h1M89 44h1M98 44h1M100 44h1M111 44h4M24 45h1M83 45h2M90 45h2M97 45h1M110 45h1M22 46h1M34 46h1M81 46h2M93 46h6M100 46h1M21 47h1M62 47h2M70 47h10M98 47h2M112 47h1M152 47h1M20 48h1M36 48h2M60 48h11M98 48h2M19 49h1M41 49h3M58 49h3M66 49h2M98 49h1M18 50h1M44 50h3M51 50h1M53 50h1M55 50h4M97 50h1M17 51h1M47 51h3M66 51h7M17 52h1M65 52h17M87 52h5M64 53h3M93 53h2M16 54h1M63 54h2M132 54h6M16 55h1M63 55h2M131 55h1M63 56h1M130 56h1M139 56h1M17 57h1M62 57h2M17 58h1M61 58h2M61 59h2M90 59h1M114 59h1M129 59h1M152 59h1M18 60h1M60 60h2M89 60h1M130 60h1M19 61h1M58 61h4M130 61h2M20 62h1M53 62h9M132 62h1M140 62h1M22 63h1M51 63h2M59 63h2M83 63h1M87 63h1M133 63h1M140 63h1M24 64h2M49 64h2M59 64h1M134 64h1M140 64h1M29 65h5M48 65h2M58 65h1M79 65h1M83 65h1M87 65h1M104 65h1M134 65h1M140 65h1M33 66h1M47 66h1M60 66h1M81 66h3M87 66h1M135 66h1M140 66h1M31 67h2M48 67h1M81 67h3M87 67h2M135 67h1M140 67h1M31 68h1M49 68h1M78 68h1M82 68h2M87 68h2M102 68h1M105 68h1M140 68h1M30 69h1M49 69h1M83 69h2M88 69h2M91 69h1M94 69h1M136 69h1M237 69h1M246 69h1M30 70h1M49 70h1M84 70h2M89 70h2M136 70h1M31 71h1M48 71h1M84 71h1M90 71h2M94 71h1M239 71h1M32 72h1M47 72h1M84 72h1M93 72h3M248 72h1M34 73h2M44 73h2M84 73h2M94 73h3M136 73h1M82 74h4M95 74h2M221 74h1M73 75h1M78 75h4M95 75h3M218 75h1M72 76h1M87 76h2M95 76h3M217 76h1M225 76h1M86 77h6M94 77h4M226 77h1M86 78h13M117 78h1M216 78h1M226 78h1M71 79h1M86 79h1M99 79h1M227 79h1M86 80h1M227 80h1M85 81h1M96 81h1M68 82h1M85 82h1M115 82h1M226 82h1M85 83h1M114 83h1M118 83h1M226 83h1M113 84h2M118 84h2M225 84h1M68 85h1M84 85h1M112 85h1M119 85h1M224 85h2M69 86h1M83 86h1M111 86h1M119 86h1M220 86h1M222 86h1M81 87h1M111 87h1M119 87h1M73 88h2M78 88h2M119 88h1M110 89h1M119 89h1M110 90h1M119 90h1M110 91h1M228 91h2M120 92h1M227 92h4M120 93h1M225 93h6M120 94h1M224 94h3M229 94h2M120 95h1M224 95h1M230 95h2M110 96h1M223 96h2M231 96h2M110 97h1M223 97h1M232 97h1M111 98h1M121 98h1M223 98h1M233 98h1M112 99h2M223 99h1M234 99h1M96 100h1M114 100h1M122 100h1M223 100h1M234 100h2M115 101h1M235 101h1M116 102h1M235 102h1M116 103h2M119 103h1M235 103h1M118 104h2M235 104h1M121 105h1M235 105h1M235 106h1M234 108h1M234 109h1M233 110h2M14 111h1M233 111h1M11 112h1M224 112h3M232 112h1M228 113h4M44 147h1M43 152h1M101 228h1M102 230h1M102 233h1"/>
<path stroke="#ffdf00" d="M190 14h1M118 17h1M118 18h2M189 18h1M117 19h3M117 20h3M118 21h1M156 32h1M112 35h4M110 36h2M116 36h3M110 37h1M118 37h2M109 38h1M119 38h2M109 39h1M119 39h1M110 40h1M118 40h1M110 41h1M116 41h2M111 42h5M223 42h1M29 43h1M112 43h3M26 44h1M32 44h1M85 44h1M88 44h1M25 45h1M33 45h1M89 45h1M112 45h1M23 46h2M83 46h2M90 46h3M149 46h1M22 47h1M34 47h1M80 47h3M93 47h5M111 47h1M21 48h1M35 48h1M71 48h10M96 48h2M152 48h1M20 49h1M36 49h5M61 49h5M68 49h5M96 49h2M19 50h1M41 50h3M52 50h1M59 50h15M96 50h1M18 51h1M44 51h3M50 51h1M54 51h12M73 51h9M91 51h1M96 51h1M18 52h1M46 52h4M61 52h4M82 52h5M92 52h1M152 52h1M17 53h1M61 53h3M152 53h1M17 54h1M61 54h2M152 54h1M17 55h1M61 55h2M132 55h7M17 56h1M61 56h2M131 56h2M138 56h1M150 56h1M60 57h2M128 57h1M139 57h1M153 57h1M60 58h1M128 58h1M139 58h1M153 58h1M18 59h1M59 59h2M86 59h1M89 59h1M116 59h1M130 59h2M139 59h1M19 60h1M57 60h3M85 60h1M88 60h1M117 60h1M131 60h2M139 60h1M20 61h1M53 61h5M117 61h1M132 61h1M139 61h1M21 62h1M51 62h2M114 62h1M133 62h1M139 62h1M23 63h1M49 63h2M134 63h1M139 63h1M26 64h10M48 64h1M87 64h1M139 64h1M34 65h3M47 65h1M60 65h1M84 65h1M86 65h1M103 65h1M135 65h1M139 65h1M34 66h2M46 66h1M84 66h3M105 66h1M139 66h1M33 67h1M46 67h2M84 67h3M32 68h1M47 68h2M79 68h2M84 68h3M31 69h1M48 69h1M85 69h3M139 69h1M245 69h1M31 70h1M48 70h1M86 70h3M91 70h1M32 71h1M47 71h1M85 71h1M89 71h1M33 72h2M45 72h2M90 72h3M249 72h1M251 72h1M36 73h3M41 73h3M89 73h5M86 74h9M74 75h1M77 75h1M82 75h13M219 75h1M223 75h1M79 76h2M82 76h5M89 76h3M93 76h2M72 77h1M84 77h2M93 77h1M72 78h1M85 78h1M72 79h1M85 79h1M96 79h1M116 79h1M216 79h1M226 79h1M70 80h1M85 80h1M99 80h1M226 80h1M69 81h1M216 81h1M226 81h1M118 82h1M216 82h1M84 83h1M115 83h1M84 84h1M217 84h1M83 85h1M113 85h2M118 85h1M218 85h1M82 86h1M112 86h2M117 86h2M221 86h1M71 87h1M112 87h1M118 87h1M75 88h3M111 88h1M118 88h1M111 89h1M118 89h1M119 91h1M110 92h1M119 92h1M110 93h1M119 93h1M110 94h1M119 94h1M227 94h2M110 95h1M225 95h5M111 96h1M120 96h1M225 96h6M111 97h1M120 97h1M224 97h2M230 97h2M112 98h2M224 98h1M231 98h2M93 99h1M114 99h1M224 99h1M232 99h2M97 100h1M115 100h1M224 100h1M233 100h1M116 101h1M221 101h1M233 101h2M117 102h1M119 102h1M121 102h1M220 102h1M234 102h1M118 103h1M234 103h1M234 104h1M120 105h1M234 105h1M234 106h1M221 107h1M234 107h1M222 108h1M233 108h1M222 109h1M233 109h1M12 110h1M222 110h1M232 110h1M223 111h1M231 111h2M227 112h5M44 148h1M44 149h1M44 150h1M44 151h1"/>
<path stroke="#ffcf00" d="M116 17h2M189 17h1M116 18h2M190 18h1M189 21h1M191 21h1M187 25h1M156 33h1M112 36h4M111 37h1M116 37h2M110 38h2M117 38h2M110 39h2M117 39h2M111 40h1M117 40h1M111 41h5M27 44h1M31 44h1M26 45h1M32 45h1M25 46h1M33 46h1M89 46h1M110 46h1M23 47h2M83 47h2M90 47h3M22 48h1M34 48h1M81 48h3M93 48h3M21 49h1M35 49h1M73 49h1M76 49h7M152 49h1M20 50h1M37 50h4M74 50h10M152 50h1M19 51h1M41 51h3M82 51h3M87 51h4M152 51h1M44 52h2M55 52h6M95 52h1M18 53h1M46 53h4M58 53h3M18 54h1M60 54h1M18 55h1M60 55h1M18 56h1M60 56h1M133 56h3M137 56h1M18 57h1M59 57h1M129 57h1M132 57h3M138 57h1M18 58h1M58 58h2M129 58h1M133 58h1M138 58h1M19 59h1M56 59h3M87 59h1M115 59h1M132 59h2M138 59h1M52 60h5M114 60h1M133 60h1M50 61h3M133 61h2M22 62h1M48 62h3M115 62h2M134 62h1M24 63h2M31 63h6M47 63h2M84 63h1M86 63h1M135 63h1M36 64h2M46 64h2M83 64h1M135 64h2M138 64h1M37 65h2M45 65h2M85 65h1M136 65h1M138 65h1M36 66h3M45 66h1M78 66h1M102 66h1M136 66h1M34 67h1M45 67h1M102 67h1M105 67h1M33 68h1M46 68h1M103 68h2M32 69h1M47 69h1M92 69h2M244 69h1M32 70h1M47 70h1M139 70h1M251 70h1M33 71h1M46 71h1M92 71h2M139 71h1M240 71h2M35 72h1M44 72h1M89 72h1M250 72h1M39 73h2M86 73h1M88 73h1M75 75h2M222 75h1M73 76h1M78 76h1M81 76h1M92 76h1M218 76h1M224 76h1M79 77h1M82 77h2M217 77h1M225 77h1M83 78h2M73 79h1M84 79h1M71 80h1M84 80h1M96 80h1M216 80h1M84 81h1M98 81h1M118 81h1M69 82h1M84 82h1M68 83h1M217 83h1M225 83h1M83 84h1M69 85h1M117 85h1M219 85h1M223 85h1M70 86h1M72 87h1M80 87h1M113 87h1M117 87h1M112 88h1M117 88h1M117 89h1M111 90h1M118 90h1M111 91h1M118 91h1M111 92h1M118 92h1M111 93h1M118 93h1M111 94h1M111 95h1M119 95h1M112 96h1M119 96h1M112 97h2M119 97h1M226 97h4M114 98h1M120 98h1M225 98h2M229 98h2M115 99h1M225 99h1M231 99h1M116 100h1M225 100h1M231 100h2M117 101h2M222 101h3M232 101h1M118 102h1M120 102h1M233 102h1M233 103h1M233 104h1M233 105h1M220 106h1M233 106h1M222 107h2M232 107h2M232 108h1M232 109h1M231 110h1M224 111h1M227 111h4M13 113h1M101 227h1M102 232h1"/>
<path stroke="#ffbf00" d="M188 27h1M112 37h4M112 38h1M112 39h1M112 40h1M28 44h3M86 44h2M99 44h1M85 45h1M88 45h1M111 45h1M85 46h1M88 46h1M99 46h1M112 46h1M151 46h1M25 47h1M33 47h1M85 47h5M23 48h2M33 48h1M84 48h3M88 48h5M22 49h1M34 49h1M75 49h1M83 49h4M89 49h4M95 49h1M149 49h1M21 50h1M35 50h2M84 50h1M86 50h7M149 50h1M20 51h1M37 51h4M53 51h1M86 51h1M92 51h1M19 52h1M41 52h3M54 52h1M93 52h1M19 53h1M43 53h3M55 53h3M45 54h5M58 54h1M149 54h1M47 55h2M152 55h1M58 56h1M136 56h1M57 57h2M130 57h2M19 58h1M56 58h2M132 58h1M134 58h1M48 59h8M88 59h1M134 59h1M20 60h1M46 60h6M86 60h2M134 60h1M138 60h1M21 61h1M45 61h5M114 61h1M138 61h1M23 62h1M32 62h8M44 62h4M135 62h4M26 63h5M37 63h3M44 63h3M85 63h1M136 63h3M38 64h3M44 64h2M137 64h1M39 65h2M43 65h2M137 65h1M39 66h2M43 66h2M59 66h1M80 66h1M138 66h1M35 67h2M43 67h2M78 67h1M139 67h1M34 68h1M45 68h1M139 68h1M33 69h1M46 69h1M138 69h1M239 69h1M242 69h2M33 70h1M46 70h1M94 70h1M34 71h1M45 71h1M86 71h1M88 71h1M242 71h2M36 72h3M41 72h3M85 72h1M138 72h1M87 73h1M220 75h2M73 77h1M80 77h2M73 78h1M78 78h1M82 78h1M225 78h1M74 79h1M83 79h1M98 79h1M118 79h1M83 80h1M116 80h1M118 80h1M70 81h1M83 81h1M97 81h1M83 82h1M83 83h1M68 84h1M115 84h1M117 84h1M218 84h1M224 84h1M70 85h1M82 85h1M220 85h1M222 85h1M71 86h1M81 86h1M73 87h1M79 87h1M113 88h1M112 89h2M112 90h1M117 90h1M112 91h1M117 91h1M112 92h1M117 92h1M112 93h1M112 94h1M118 94h1M112 95h1M118 95h1M113 96h2M118 96h1M114 97h1M227 98h2M121 99h1M226 99h5M117 100h1M226 100h1M230 100h1M119 101h1M225 101h1M231 101h1M100 102h1M221 102h1M225 102h1M231 102h2M220 103h1M231 103h2M232 104h1M220 105h1M232 105h1M232 106h1M231 107h1M223 108h1M231 108h1M230 109h2M223 110h1M228 110h3M225 111h2M42 152h1M101 226h1M102 231h1"/>
<path stroke="#ffaf00" d="M188 23h1M189 24h1M113 38h1M116 38h1M113 40h1M116 40h1M27 45h1M31 45h1M98 45h1M100 45h1M26 46h1M32 46h1M26 47h1M25 48h1M87 48h1M149 48h1M23 49h1M33 49h1M74 49h1M87 49h2M22 50h1M34 50h1M85 50h1M21 51h1M35 51h2M51 51h2M85 51h1M95 51h1M149 51h1M20 52h1M37 52h4M50 52h1M94 52h1M149 52h1M40 53h3M19 54h1M42 54h3M55 54h3M19 55h1M43 55h4M49 55h1M56 55h3M150 55h1M19 56h1M44 56h6M56 56h2M59 56h1M19 57h1M43 57h7M55 57h2M137 57h1M42 58h9M54 58h2M130 58h2M151 58h1M20 59h1M38 59h10M21 60h1M35 60h11M116 60h1M22 61h1M33 61h12M116 61h1M137 61h1M24 62h1M31 62h1M40 62h4M40 63h4M41 64h3M86 64h1M41 65h2M59 65h1M41 66h2M79 66h1M103 66h2M137 66h1M225 66h1M37 67h2M41 67h2M80 67h1M136 67h1M35 68h1M44 68h1M136 68h1M34 69h1M45 69h1M137 69h1M240 69h2M34 70h1M45 70h1M137 70h1M250 70h1M35 71h2M43 71h2M87 71h1M137 71h1M244 71h1M39 72h2M138 73h1M74 76h1M77 76h1M219 76h1M223 76h1M78 77h1M92 77h1M224 77h1M79 78h3M217 78h1M75 79h3M82 79h1M97 79h1M225 79h1M72 80h1M82 80h1M116 81h1M225 81h1M70 82h1M217 82h1M225 82h1M69 83h1M117 83h1M82 84h1M115 85h1M221 85h1M80 86h1M114 86h1M74 87h5M114 87h1M114 88h1M114 89h1M113 90h2M113 91h2M113 92h2M113 93h2M117 93h1M113 94h2M113 95h2M115 98h1M116 99h1M118 100h1M227 100h3M226 101h5M226 102h1M229 102h2M230 103h1M220 104h1M230 104h2M230 105h2M221 106h1M230 106h2M224 107h1M230 107h1M229 108h2M223 109h1M228 109h2M224 110h1M0 111h8M14 114h1M16 114h1M41 151h1"/>
<path stroke="#ff9f00" d="M190 20h1M187 27h1M116 39h1M114 40h2M28 45h3M86 45h1M27 46h1M31 46h1M86 46h1M150 46h1M32 47h1M149 47h1M26 48h1M32 48h1M24 49h2M32 49h1M93 49h2M23 50h1M33 50h1M95 50h1M22 51h1M34 51h1M21 52h1M35 52h2M20 53h1M37 53h3M54 53h1M149 53h1M20 54h1M38 54h4M59 54h1M39 55h4M55 55h1M39 56h5M55 56h1M38 57h5M50 57h1M54 57h1M135 57h1M20 58h1M37 58h5M53 58h1M35 59h3M34 60h1M115 60h1M23 61h1M32 61h1M135 61h1M25 62h6M84 64h1M226 66h1M39 67h2M104 67h1M36 68h1M43 68h1M35 69h1M44 69h1M35 70h1M44 70h1M92 70h1M249 70h1M37 71h1M42 71h1M245 71h1M137 72h1M75 76h2M74 77h1M218 77h1M74 78h1M78 79h4M117 79h1M217 79h1M73 80h1M81 80h1M98 80h1M217 80h1M225 80h1M71 81h1M82 81h1M217 81h1M82 82h1M116 82h2M70 83h1M82 83h1M218 83h1M224 83h1M70 84h1M219 84h1M223 84h1M71 85h1M81 85h1M72 86h1M117 94h1M115 96h1M115 97h1M117 99h1M121 101h1M101 102h1M222 102h3M227 102h2M121 103h1M221 103h1M225 103h5M121 104h1M226 104h4M225 105h2M228 105h2M222 106h8M225 107h5M224 108h1M228 108h1M227 110h1M8 111h1M13 111h1M43 147h1M41 152h1"/>
<path stroke="#ff8f00" d="M190 17h1M190 22h1M187 26h1M114 38h2M113 39h1M87 45h1M87 46h1M111 46h1M26 49h1M24 50h1M32 50h1M23 51h1M33 51h1M93 51h1M34 52h1M53 52h1M21 53h1M35 53h2M50 53h1M36 54h2M20 55h1M37 55h2M59 55h1M20 56h1M37 56h2M54 56h1M152 56h1M20 57h1M36 57h2M136 57h1M151 57h1M35 58h2M51 58h1M137 58h1M21 59h1M34 59h1M137 59h1M22 60h1M33 60h1M137 60h1M24 61h1M31 61h1M115 61h1M136 61h1M79 67h1M103 67h1M37 68h2M41 68h2M36 69h1M43 69h1M36 70h1M43 70h1M93 70h1M239 70h1M248 70h1M38 71h4M246 71h1M251 71h1M88 72h1M220 76h3M77 77h1M77 78h1M224 78h1M74 80h1M77 80h4M97 80h1M72 81h1M81 81h1M71 82h1M81 82h1M81 83h1M116 83h1M69 84h1M81 84h1M222 84h1M73 86h1M79 86h1M116 86h1M115 95h1M117 95h1M117 96h1M118 97h1M221 104h1M225 104h1M221 105h1M227 105h1M227 108h1M224 109h1M227 109h1M11 110h1M225 110h2M9 111h1M12 112h1M15 113h1M15 115h1"/>
<path stroke="#ff8000" d="M188 26h1M28 46h3M27 47h1M31 47h1M151 47h1M27 48h1M31 48h1M27 49h1M31 49h1M25 50h2M31 50h1M93 50h1M24 51h1M32 51h1M94 51h1M22 52h1M33 52h1M51 52h1M34 53h1M21 54h1M35 54h1M50 54h1M54 54h1M35 55h2M54 55h1M35 56h2M50 56h1M21 57h1M35 57h1M21 58h1M34 58h1M52 58h1M135 58h1M22 59h1M135 59h1M23 60h1M32 60h1M135 60h1M25 61h2M29 61h2M85 64h1M39 68h2M37 69h1M42 69h1M37 70h2M41 70h2M138 70h1M138 71h1M247 71h1M86 72h1M137 73h1M219 77h1M223 77h1M75 78h2M218 78h1M75 80h2M117 80h1M79 81h2M117 81h1M218 82h1M224 82h1M71 83h1M71 84h1M116 84h1M220 84h2M72 85h1M80 85h1M116 85h1M74 86h1M77 86h2M116 87h1M115 94h1M119 98h1M121 100h1M120 101h1M120 103h1M224 103h1M120 104h1M224 105h1M225 108h2M10 111h1M42 151h1"/>
<path stroke="#ff7000" d="M190 15h1M191 20h1M189 22h1M188 24h1M114 39h2M28 47h1M151 48h1M28 49h1M30 49h1M27 50h4M94 50h1M25 51h1M31 51h1M23 52h1M32 52h1M52 52h1M151 52h1M22 53h1M33 53h1M151 53h1M34 54h1M150 54h1M21 55h1M34 55h1M50 55h1M21 56h1M34 56h1M34 57h1M53 57h1M22 58h1M152 58h1M23 59h1M33 59h1M24 60h1M31 60h1M27 61h2M138 68h1M38 69h1M41 69h1M39 70h2M247 70h1M248 71h1M75 77h2M218 79h1M224 79h1M224 80h1M73 81h1M218 81h1M224 81h1M72 82h1M80 82h1M219 83h1M223 83h1M80 84h1M79 85h1M75 86h2M116 88h1M116 89h1M116 90h1M116 91h1M115 93h1M117 97h1M120 99h1M222 103h2M224 104h1M222 105h1M225 109h2M10 110h1M14 112h1M16 115h1M43 148h1M43 149h1M43 150h1"/>
<path stroke="#ff6000" d="M190 16h1M189 23h1M29 47h2M28 48h1M30 48h1M29 49h1M151 49h1M151 50h1M26 51h2M30 51h1M151 51h1M24 52h1M31 52h1M23 53h1M53 53h1M22 54h1M33 54h1M151 54h1M22 55h1M22 56h1M151 56h1M22 57h1M51 57h1M152 57h1M33 58h1M136 58h1M32 59h1M25 60h2M30 60h1M136 60h1M137 67h2M137 68h1M39 69h2M246 70h1M249 71h1M87 72h1M220 77h3M223 78h1M218 80h1M74 81h1M78 81h1M72 83h1M80 83h1M222 83h1M72 84h1M73 85h1M115 86h1M115 89h1M115 90h1M115 91h1M115 92h2M116 98h1M119 100h1M222 104h1M223 105h1M9 110h1M43 151h1"/>
<path stroke="#ff5000" d="M150 49h1M150 50h1M28 51h2M25 52h1M30 52h1M32 53h1M51 53h1M23 54h1M33 55h1M33 56h1M33 57h1M52 57h1M23 58h1M32 58h1M24 59h1M31 59h1M27 60h3M240 70h1M245 70h1M250 71h1M219 78h1M75 81h3M73 82h1M79 82h1M219 82h1M223 82h1M220 83h2M79 84h1M74 85h1M78 85h1M115 87h1M115 88h1M116 93h1M116 94h1M116 97h1M118 99h1M8 110h1M11 111h1"/>
<path stroke="#ff4000" d="M190 21h1M188 25h1M99 45h1M29 48h1M150 48h1M150 51h1M26 52h4M150 52h1M24 53h1M31 53h1M52 53h1M32 54h1M53 54h1M23 55h1M151 55h1M23 56h1M51 56h1M53 56h1M23 57h1M32 57h1M24 58h1M25 59h2M30 59h1M136 59h1M241 70h4M223 79h1M223 81h1M78 82h1M73 83h1M79 83h1M73 84h1M75 85h3M116 95h1M116 96h1M117 98h2M223 104h1M0 110h8M12 111h1M13 112h1"/>
<path stroke="#ff3000" d="M150 47h1M25 53h1M30 53h1M150 53h1M24 54h1M51 54h1M32 55h1M53 55h1M32 56h1M24 57h1M25 58h1M31 58h1M27 59h3M220 78h1M222 78h1M219 79h1M219 80h1M223 80h1M219 81h1M74 82h1M222 82h1M78 84h1M119 99h1M14 113h1"/>
<path stroke="#ff2000" d="M26 53h4M25 54h1M31 54h1M24 55h1M31 55h1M51 55h1M24 56h1M31 57h1M26 58h1M30 58h1M221 78h1M75 82h1M77 82h1M220 82h2M74 83h1M78 83h1M74 84h1M120 100h1M15 114h1"/>
<path stroke="#ff1000" d="M30 54h1M31 56h1M52 56h1M25 57h1M30 57h1M27 58h3M220 79h1M222 79h1M76 82h1M75 84h1M77 84h1"/>
<path stroke="#ff0000" d="M26 54h1M29 54h1M52 54h1M25 55h1M30 55h1M25 56h1M30 56h1M26 57h1M220 81h1M222 81h1M77 83h1M76 84h1"/>
<path stroke="#ef0000" d="M27 54h2M26 55h1M26 56h1M27 57h3M221 79h1M220 80h1M222 80h1M75 83h1"/>
<path stroke="#df0000" d="M29 55h1M52 55h1M29 56h1M221 81h1M76 83h1"/>
<path stroke="#cf0000" d="M27 55h2M27 56h1"/>
<path stroke="#bf0000" d="M28 56h1M221 80h1"/>
</g></g></g>
<g stroke="#000" stroke-width="1.6" stroke-dasharray="1.9 5.5" fill="none">
<line x1="635.4" y1="179.3" x2="635.4" y2="2136.0"/>
<line x1="854.8" y1="179.3" x2="854.8" y2="2136.0"/>
<line x1="1074.2" y1="179.3" x2="1074.2" y2="2136.0"/>
<line x1="1293.6" y1="179.3" x2="1293.6" y2="2136.0"/>
<line x1="1513.0" y1="179.3" x2="1513.0" y2="2136.0"/>
<line x1="1732.4" y1="179.3" x2="1732.4" y2="2136.0"/>
<line x1="1951.8" y1="179.3" x2="1951.8" y2="2136.0"/>
<line x1="2171.2" y1="179.3" x2="2171.2" y2="2136.0"/>
<line x1="2390.6" y1="179.3" x2="2390.6" y2="2136.0"/>
<line x1="416.0" y1="375.0" x2="2610.0" y2="375.0"/>
<line x1="416.0" y1="570.6" x2="2610.0" y2="570.6"/>
<line x1="416.0" y1="766.3" x2="2610.0" y2="766.3"/>
<line x1="416.0" y1="962.0" x2="2610.0" y2="962.0"/>
<line x1="416.0" y1="1157.7" x2="2610.0" y2="1157.7"/>
<line x1="416.0" y1="1353.3" x2="2610.0" y2="1353.3"/>
<line x1="416.0" y1="1549.0" x2="2610.0" y2="1549.0"/>
<line x1="416.0" y1="1744.7" x2="2610.0" y2="1744.7"/>
<line x1="416.0" y1="1940.3" x2="2610.0" y2="1940.3"/>
</g>
<g stroke="#000" stroke-width="2.6" fill="none">
<rect x="416.0" y="179.3" width="2194.0" height="1956.7"/>
<line x1="635.4" y1="179.3" x2="635.4" y2="201.3"/>
<line x1="635.4" y1="2136.0" x2="635.4" y2="2114.0"/>
<line x1="854.8" y1="179.3" x2="854.8" y2="201.3"/>
<line x1="854.8" y1="2136.0" x2="854.8" y2="2114.0"/>
<line x1="1074.2" y1="179.3" x2="1074.2" y2="201.3"/>
<line x1="1074.2" y1="2136.0" x2="1074.2" y2="2114.0"/>
<line x1="1293.6" y1="179.3" x2="1293.6" y2="201.3"/>
<line x1="1293.6" y1="2136.0" x2="1293.6" y2="2114.0"/>
<line x1="1513.0" y1="179.3" x2="1513.0" y2="201.3"/>
<line x1="1513.0" y1="2136.0" x2="1513.0" y2="2114.0"/>
<line x1="1732.4" y1="179.3" x2="1732.4" y2="201.3"/>
<line x1="1732.4" y1="2136.0" x2="1732.4" y2="2114.0"/>
<line x1="1951.8" y1="179.3" x2="1951.8" y2="201.3"/>
<line x1="1951.8" y1="2136.0" x2="1951.8" y2="2114.0"/>
<line x1="2171.2" y1="179.3" x2="2171.2" y2="201.3"/>
<line x1="2171.2" y1="2136.0" x2="2171.2" y2="2114.0"/>
<line x1="2390.6" y1="179.3" x2="2390.6" y2="201.3"/>
<line x1="2390.6" y1="2136.0" x2="2390.6" y2="2114.0"/>
<line x1="416.0" y1="375.0" x2="438.0" y2="375.0"/>
<line x1="2610.0" y1="375.0" x2="2588.0" y2="375.0"/>
<line x1="416.0" y1="570.6" x2="438.0" y2="570.6"/>
<line x1="2610.0" y1="570.6" x2="2588.0" y2="570.6"/>
<line x1="416.0" y1="766.3" x2="438.0" y2="766.3"/>
<line x1="2610.0" y1="766.3" x2="2588.0" y2="766.3"/>
<line x1="416.0" y1="962.0" x2="438.0" y2="962.0"/>
<line x1="2610.0" y1="962.0" x2="2588.0" y2="962.0"/>
<line x1="416.0" y1="1157.7" x2="438.0" y2="1157.7"/>
<line x1="2610.0" y1="1157.7" x2="2588.0" y2="1157.7"/>
<line x1="416.0" y1="1353.3" x2="438.0" y2="1353.3"/>
<line x1="2610.0" y1="1353.3" x2="2588.0" y2="1353.3"/>
<line x1="416.0" y1="1549.0" x2="438.0" y2="1549.0"/>
<line x1="2610.0" y1="1549.0" x2="2588.0" y2="1549.0"/>
<line x1="416.0" y1="1744.7" x2="438.0" y2="1744.7"/>
<line x1="2610.0" y1="1744.7" x2="2588.0" y2="1744.7"/>
<line x1="416.0" y1="1940.3" x2="438.0" y2="1940.3"/>
<line x1="2610.0" y1="1940.3" x2="2588.0" y2="1940.3"/>
</g>
<g shape-rendering="crispEdges">
<rect x="2694.5" y="2105.43" width="110.5" height="31.17" fill="#00008f"/>
<rect x="2694.5" y="2074.85" width="110.5" height="31.17" fill="#00009f"/>
<rect x="2694.5" y="2044.28" width="110.5" height="31.17" fill="#0000af"/>
<rect x="2694.5" y="2013.71" width="110.5" height="31.17" fill="#0000bf"/>
<rect x="2694.5" y="1983.13" width="110.5" height="31.17" fill="#0000cf"/>
<rect x="2694.5" y="1952.56" width="110.5" height="31.17" fill="#0000df"/>
<rect x="2694.5" y="1921.99" width="110.5" height="31.17" fill="#0000ef"/>
<rect x="2694.5" y="1891.41" width="110.5" height="31.17" fill="#0000ff"/>
<rect x="2694.5" y="1860.84" width="110.5" height="31.17" fill="#0010ff"/>
<rect x="2694.5" y="1830.27" width="110.5" height="31.17" fill="#0020ff"/>
<rect x="2694.5" y="1799.69" width="110.5" height="31.17" fill="#0030ff"/>
<rect x="2694.5" y="1769.12" width="110.5" height="31.17" fill="#0040ff"/>
<rect x="2694.5" y="1738.55" width="110.5" height="31.17" fill="#0050ff"/>
<rect x="2694.5" y="1707.97" width="110.5" height="31.17" fill="#0060ff"/>
<rect x="2694.5" y="1677.40" width="110.5" height="31.17" fill="#0070ff"/>
<rect x="2694.5" y="1646.83" width="110.5" height="31.17" fill="#0080ff"/>
<rect x="2694.5" y="1616.25" width="110.5" height="31.17" fill="#008fff"/>
<rect x="2694.5" y="1585.68" width="110.5" height="31.17" fill="#009fff"/>
<rect x="2694.5" y="1555.10" width="110.5" height="31.17" fill="#00afff"/>
<rect x="2694.5" y="1524.53" width="110.5" height="31.17" fill="#00bfff"/>
<rect x="2694.5" y="1493.96" width="110.5" height="31.17" fill="#00cfff"/>
<rect x="2694.5" y="1463.38" width="110.5" height="31.17" fill="#00dfff"/>
<rect x="2694.5" y="1432.81" width="110.5" height="31.17" fill="#00efff"/>
<rect x="2694.5" y="1402.24" width="110.5" height="31.17" fill="#00ffff"/>
<rect x="2694.5" y="1371.66" width="110.5" height="31.17" fill="#10ffef"/>
<rect x="2694.5" y="1341.09" width="110.5" height="31.17" fill="#20ffdf"/>
<rect x="2694.5" y="1310.52" width="110.5" height="31.17" fill="#30ffcf"/>
<rect x="2694.5" y="1279.94" width="110.5" height="31.17" fill="#40ffbf"/>
<rect x="2694.5" y="1249.37" width="110.5" height="31.17" fill="#50ffaf"/>
<rect x="2694.5" y="1218.80" width="110.5" height="31.17" fill="#60ff9f"/>
<rect x="2694.5" y="1188.22" width="110.5" height="31.17" fill="#70ff8f"/>
<rect x="2694.5" y="1157.65" width="110.5" height="31.17" fill="#80ff80"/>
<rect x="2694.5" y="1127.08" width="110.5" height="31.17" fill="#8fff70"/>
<rect x="2694.5" y="1096.50" width="110.5" height="31.17" fill="#9fff60"/>
<rect x="2694.5" y="1065.93" width="110.5" height="31.17" fill="#afff50"/>
<rect x="2694.5" y="1035.36" width="110.5" height="31.17" fill="#bfff40"/>
<rect x="2694.5" y="1004.78" width="110.5" height="31.17" fill="#cfff30"/>
<rect x="2694.5" y="974.21" width="110.5" height="31.17" fill="#dfff20"/>
<rect x="2694.5" y="943.64" width="110.5" height="31.17" fill="#efff10"/>
<rect x="2694.5" y="913.06" width="110.5" height="31.17" fill="#ffff00"/>
<rect x="2694.5" y="882.49" width="110.5" height="31.17" fill="#ffef00"/>
<rect x="2694.5" y="851.92" width="110.5" height="31.17" fill="#ffdf00"/>
<rect x="2694.5" y="821.34" width="110.5" height="31.17" fill="#ffcf00"/>
<rect x="2694.5" y="790.77" width="110.5" height="31.17" fill="#ffbf00"/>
<rect x="2694.5" y="760.20" width="110.5" height="31.17" fill="#ffaf00"/>
<rect x="2694.5" y="729.62" width="110.5" height="31.17" fill="#ff9f00"/>
<rect x="2694.5" y="699.05" width="110.5" height="31.17" fill="#ff8f00"/>
<rect x="2694.5" y="668.47" width="110.5" height="31.17" fill="#ff8000"/>
<rect x="2694.5" y="637.90" width="110.5" height="31.17" fill="#ff7000"/>
<rect x="2694.5" y="607.33" width="110.5" height="31.17" fill="#ff6000"/>
<rect x="2694.5" y="576.75" width="110.5" height="31.17" fill="#ff5000"/>
<rect x="2694.5" y="546.18" width="110.5" height="31.17" fill="#ff4000"/>
<rect x="2694.5" y="515.61" width="110.5" height="31.17" fill="#ff3000"/>
<rect x="2694.5" y="485.03" width="110.5" height="31.17" fill="#ff2000"/>
<rect x="2694.5" y="454.46" width="110.5" height="31.17" fill="#ff1000"/>
<rect x="2694.5" y="423.89" width="110.5" height="31.17" fill="#ff0000"/>
<rect x="2694.5" y="393.31" width="110.5" height="31.17" fill="#ef0000"/>
<rect x="2694.5" y="362.74" width="110.5" height="31.17" fill="#df0000"/>
<rect x="2694.5" y="332.17" width="110.5" height="31.17" fill="#cf0000"/>
<rect x="2694.5" y="301.59" width="110.5" height="31.17" fill="#bf0000"/>
<rect x="2694.5" y="271.02" width="110.5" height="31.17" fill="#af0000"/>
<rect x="2694.5" y="240.45" width="110.5" height="31.17" fill="#9f0000"/>
<rect x="2694.5" y="209.87" width="110.5" height="31.17" fill="#8f0000"/>
<rect x="2694.5" y="179.30" width="110.5" height="31.17" fill="#800000"/>
</g>
<g stroke="#000" stroke-width="2.6" fill="none">
<rect x="2694.5" y="179.3" width="110.5" height="1956.7"/>
<line x1="2694.5" y1="1858.8" x2="2714.5" y2="1858.8"/>
<line x1="2805.0" y1="1858.8" x2="2785.0" y2="1858.8"/>
<line x1="2694.5" y1="1537.9" x2="2714.5" y2="1537.9"/>
<line x1="2805.0" y1="1537.9" x2="2785.0" y2="1537.9"/>
<line x1="2694.5" y1="1217.0" x2="2714.5" y2="1217.0"/>
<line x1="2805.0" y1="1217.0" x2="2785.0" y2="1217.0"/>
<line x1="2694.5" y1="896.1" x2="2714.5" y2="896.1"/>
<line x1="2805.0" y1="896.1" x2="2785.0" y2="896.1"/>
<line x1="2694.5" y1="575.2" x2="2714.5" y2="575.2"/>
<line x1="2805.0" y1="575.2" x2="2785.0" y2="575.2"/>
<line x1="2694.5" y1="254.3" x2="2714.5" y2="254.3"/>
<line x1="2805.0" y1="254.3" x2="2785.0" y2="254.3"/>
</g>
<text x="2821" y="1878.6">1000</text>
<text x="2821" y="1557.7">1500</text>
<text x="2821" y="1236.8">2000</text>
<text x="2821" y="915.9">2500</text>
<text x="2821" y="595.0">3000</text>
<text x="2821" y="274.1">3500</text>
<text x="399.5" y="199.1" text-anchor="end">35</text>
<text x="399.5" y="394.8" text-anchor="end">34.5</text>
<text x="399.5" y="590.4" text-anchor="end">34</text>
<text x="399.5" y="786.1" text-anchor="end">33.5</text>
<text x="399.5" y="981.8" text-anchor="end">33</text>
<text x="399.5" y="1177.5" text-anchor="end">32.5</text>
<text x="399.5" y="1373.1" text-anchor="end">32</text>
<text x="399.5" y="1568.8" text-anchor="end">31.5</text>
<text x="399.5" y="1764.5" text-anchor="end">31</text>
<text x="399.5" y="1960.1" text-anchor="end">30.5</text>
<text x="399.5" y="2155.8" text-anchor="end">30</text>
<text x="408.0" y="2204.5" text-anchor="middle">-110</text>
<text x="627.4" y="2204.5" text-anchor="middle">-109.5</text>
<text x="846.8" y="2204.5" text-anchor="middle">-109</text>
<text x="1066.2" y="2204.5" text-anchor="middle">-108.5</text>
<text x="1285.6" y="2204.5" text-anchor="middle">-108</text>
<text x="1505.0" y="2204.5" text-anchor="middle">-107.5</text>
<text x="1724.4" y="2204.5" text-anchor="middle">-107</text>
<text x="1943.8" y="2204.5" text-anchor="middle">-106.5</text>
<text x="2163.2" y="2204.5" text-anchor="middle">-106</text>
<text x="2382.6" y="2204.5" text-anchor="middle">-105.5</text>
<text x="2602.0" y="2204.5" text-anchor="middle">-105</text>
<text x="1512.2" y="2274.5" text-anchor="middle" letter-spacing="0.4">Longitude [deg]</text>
<text x="1512.8" y="135.5" text-anchor="middle" letter-spacing="0.62">N30W110 SRTM elevations [m]</text>
<text transform="translate(254,1158.7) rotate(-90)" text-anchor="middle" letter-spacing="0.37">Latitude [deg]</text>
</svg></body></html>
